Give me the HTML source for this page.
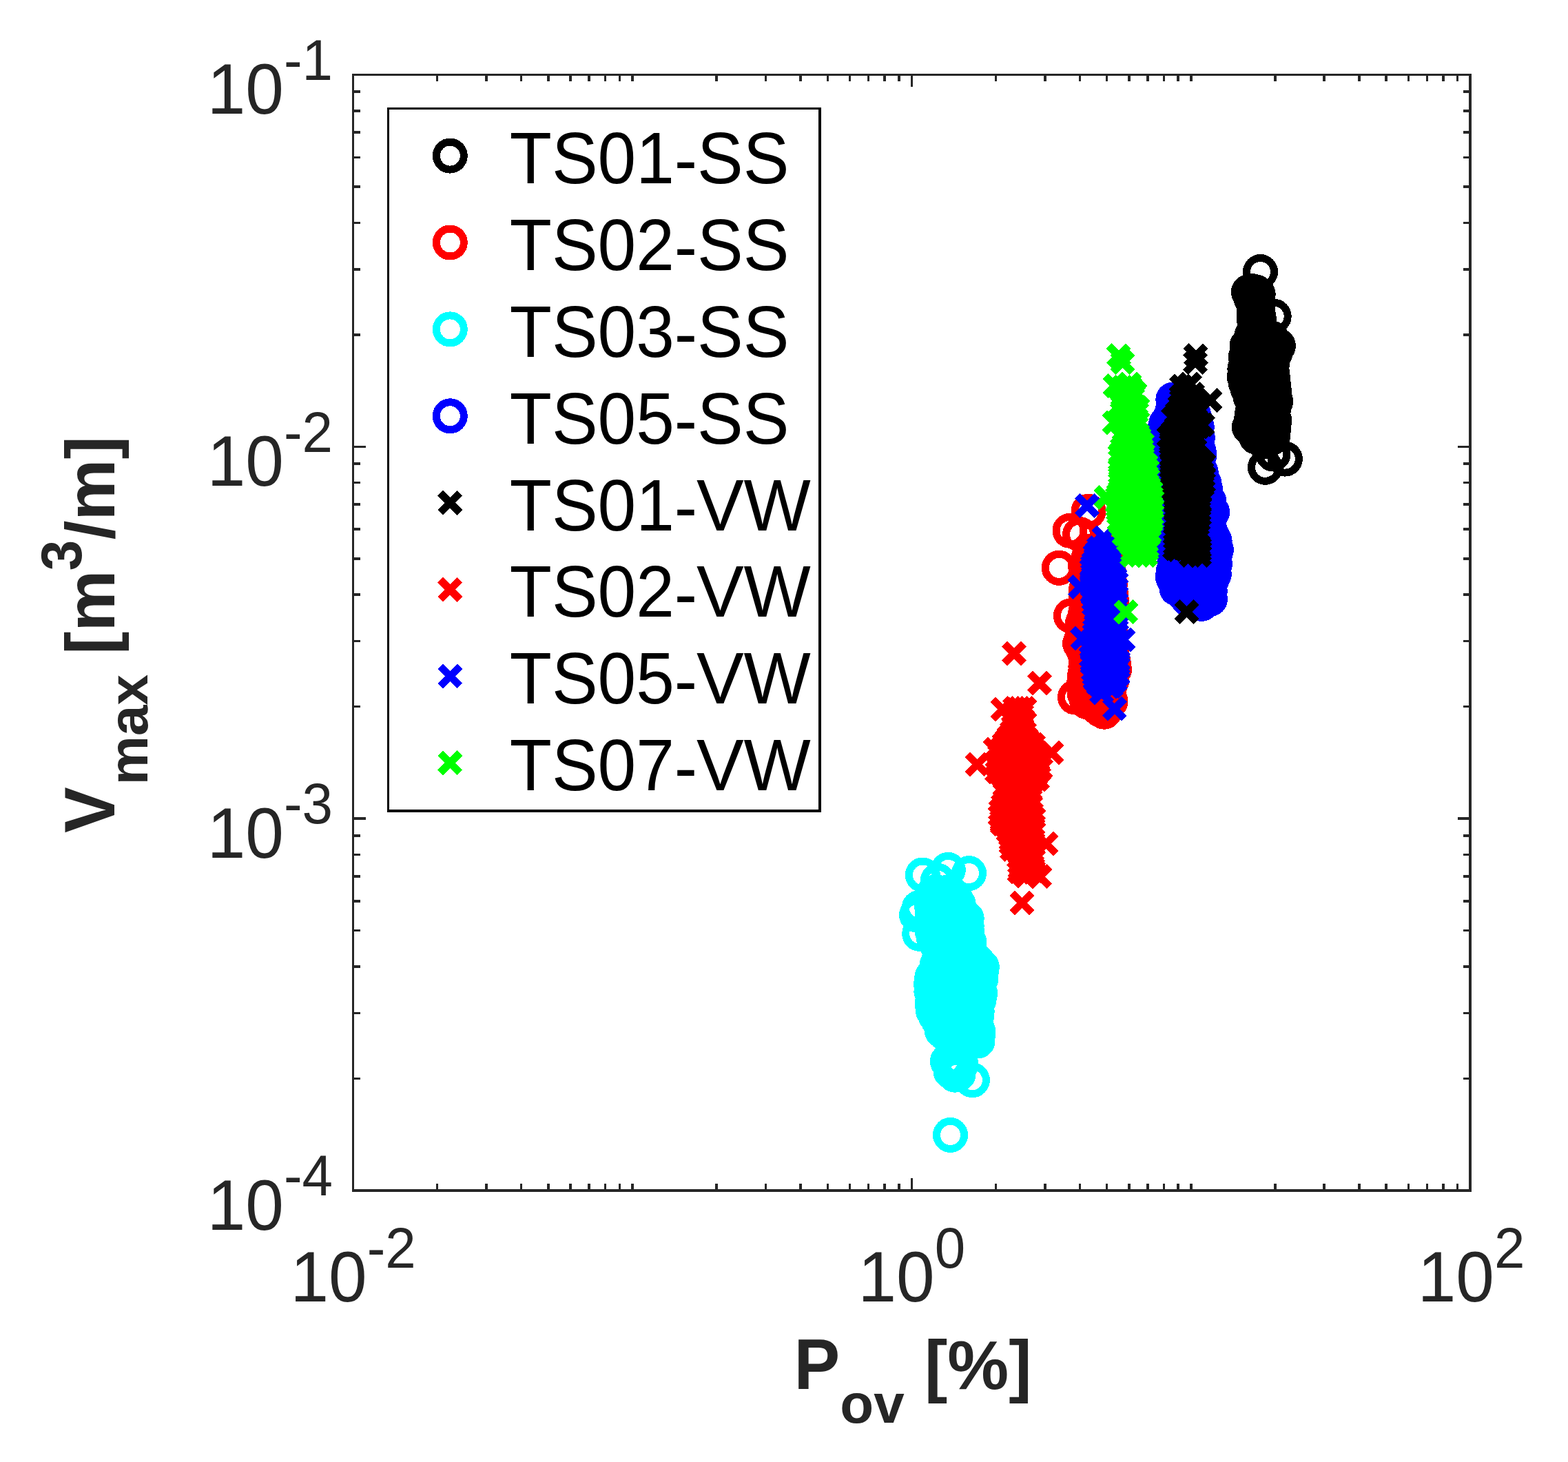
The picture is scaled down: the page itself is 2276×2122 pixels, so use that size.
<!DOCTYPE html>
<html lang="en">
<head>
<meta charset="utf-8">
<title>Vmax vs Pov</title>
<style>
html,body{margin:0;padding:0;background:#fff;}
body{width:2276px;height:2122px;overflow:hidden;}
svg{display:block;}
text{font-family:"Liberation Sans",sans-serif;font-kerning:none;white-space:pre;}
.tk{font-size:100px;fill:#262626;}
.lb{font-size:100px;font-weight:bold;fill:#262626;}
.lg{font-size:100px;fill:#000;}
.sup{font-size:80px;}
</style>
</head>
<body>
<svg width="2276" height="2122" viewBox="0 0 2276 2122">
<rect x="0" y="0" width="2276" height="2122" fill="#ffffff"/>
<g shape-rendering="crispEdges">
<g fill="none" stroke="#000000" stroke-width="11">
<circle cx="1829.5" cy="394.5" r="20"/>
<circle cx="1812.4" cy="423.8" r="20"/>
<circle cx="1814.5" cy="426" r="20"/>
<circle cx="1817" cy="422.5" r="20"/>
<circle cx="1820" cy="426.5" r="20"/>
<circle cx="1823" cy="424" r="20"/>
<circle cx="1826.2" cy="427" r="20"/>
<circle cx="1816" cy="433" r="20"/>
<circle cx="1822" cy="437" r="20"/>
<circle cx="1820" cy="448" r="20"/>
<circle cx="1849.2" cy="459.2" r="20"/>
<circle cx="1855.4" cy="501.9" r="20"/>
<circle cx="1844" cy="529" r="20"/>
<circle cx="1836.5" cy="678.3" r="20"/>
<circle cx="1865.4" cy="666.1" r="20"/>
<circle cx="1848" cy="659" r="20"/>
<circle cx="1826.3" cy="633.3" r="20"/>
<circle cx="1820" cy="450.8" r="20"/>
<circle cx="1826" cy="448" r="20"/>
<circle cx="1820" cy="456.6" r="20"/>
<circle cx="1826.9" cy="459.3" r="20"/>
<circle cx="1820" cy="462.2" r="20"/>
<circle cx="1827.8" cy="465.5" r="20"/>
<circle cx="1821.7" cy="471" r="20"/>
<circle cx="1829" cy="476.8" r="20"/>
<circle cx="1816.8" cy="487.6" r="20"/>
<circle cx="1830.2" cy="480.2" r="20"/>
<circle cx="1833.2" cy="484.3" r="20"/>
<circle cx="1816.4" cy="492" r="20"/>
<circle cx="1819.3" cy="492.4" r="20"/>
<circle cx="1826.4" cy="490.7" r="20"/>
<circle cx="1838.4" cy="493" r="20"/>
<circle cx="1845.5" cy="490.8" r="20"/>
<circle cx="1810.2" cy="501.7" r="20"/>
<circle cx="1816.6" cy="498.1" r="20"/>
<circle cx="1829.3" cy="502.5" r="20"/>
<circle cx="1835.9" cy="499.5" r="20"/>
<circle cx="1846.9" cy="504.9" r="20"/>
<circle cx="1848" cy="500.6" r="20"/>
<circle cx="1810.3" cy="512.7" r="20"/>
<circle cx="1820.6" cy="510.4" r="20"/>
<circle cx="1828.3" cy="512.4" r="20"/>
<circle cx="1832.5" cy="511.7" r="20"/>
<circle cx="1845.7" cy="513.8" r="20"/>
<circle cx="1851.2" cy="511.7" r="20"/>
<circle cx="1808.3" cy="517.9" r="20"/>
<circle cx="1820.8" cy="519.3" r="20"/>
<circle cx="1825.9" cy="520.4" r="20"/>
<circle cx="1840.3" cy="521.4" r="20"/>
<circle cx="1847.7" cy="519.5" r="20"/>
<circle cx="1808.1" cy="531.3" r="20"/>
<circle cx="1817.8" cy="528.1" r="20"/>
<circle cx="1827.1" cy="525.2" r="20"/>
<circle cx="1833" cy="530.6" r="20"/>
<circle cx="1846.3" cy="529.8" r="20"/>
<circle cx="1806.9" cy="535.3" r="20"/>
<circle cx="1816.9" cy="541.9" r="20"/>
<circle cx="1829" cy="538.3" r="20"/>
<circle cx="1839.6" cy="535.8" r="20"/>
<circle cx="1846.6" cy="541.7" r="20"/>
<circle cx="1806.3" cy="546.7" r="20"/>
<circle cx="1812.1" cy="547.4" r="20"/>
<circle cx="1826" cy="543" r="20"/>
<circle cx="1833" cy="549.6" r="20"/>
<circle cx="1842.1" cy="548.9" r="20"/>
<circle cx="1847.3" cy="547.2" r="20"/>
<circle cx="1808.1" cy="555.4" r="20"/>
<circle cx="1812.2" cy="559" r="20"/>
<circle cx="1824.5" cy="553.6" r="20"/>
<circle cx="1832.1" cy="555.9" r="20"/>
<circle cx="1839" cy="554.8" r="20"/>
<circle cx="1848.3" cy="557" r="20"/>
<circle cx="1811.3" cy="564.7" r="20"/>
<circle cx="1816.3" cy="562.8" r="20"/>
<circle cx="1827.3" cy="565.7" r="20"/>
<circle cx="1842.6" cy="567.4" r="20"/>
<circle cx="1849.4" cy="567.6" r="20"/>
<circle cx="1815.2" cy="576.8" r="20"/>
<circle cx="1825.4" cy="570.6" r="20"/>
<circle cx="1829" cy="570.1" r="20"/>
<circle cx="1843.8" cy="572" r="20"/>
<circle cx="1847.4" cy="575" r="20"/>
<circle cx="1822.4" cy="579.5" r="20"/>
<circle cx="1829.4" cy="583.2" r="20"/>
<circle cx="1839.3" cy="581.2" r="20"/>
<circle cx="1851.7" cy="582.6" r="20"/>
<circle cx="1821.2" cy="591.8" r="20"/>
<circle cx="1827.5" cy="591.1" r="20"/>
<circle cx="1840.8" cy="589.5" r="20"/>
<circle cx="1848.4" cy="595.2" r="20"/>
<circle cx="1817.8" cy="598.6" r="20"/>
<circle cx="1826.9" cy="603.6" r="20"/>
<circle cx="1830.4" cy="597.1" r="20"/>
<circle cx="1839.8" cy="602.8" r="20"/>
<circle cx="1848.2" cy="602.7" r="20"/>
<circle cx="1816.1" cy="610.4" r="20"/>
<circle cx="1821.4" cy="613.9" r="20"/>
<circle cx="1835.1" cy="610.1" r="20"/>
<circle cx="1839.5" cy="611.2" r="20"/>
<circle cx="1849.9" cy="610.6" r="20"/>
<circle cx="1813.4" cy="620.1" r="20"/>
<circle cx="1819" cy="617.4" r="20"/>
<circle cx="1835.5" cy="622" r="20"/>
<circle cx="1839.3" cy="621.9" r="20"/>
<circle cx="1848.5" cy="622.6" r="20"/>
<circle cx="1819.9" cy="627.3" r="20"/>
<circle cx="1826" cy="624" r="20"/>
<circle cx="1841" cy="624.3" r="20"/>
<circle cx="1847.9" cy="631.7" r="20"/>
<circle cx="1823.6" cy="634.3" r="20"/>
<circle cx="1833.9" cy="640.8" r="20"/>
<circle cx="1840.4" cy="637.1" r="20"/>
<circle cx="1845.6" cy="635.8" r="20"/>
</g>
<g fill="none" stroke="#ff0000" stroke-width="11">
<circle cx="1580" cy="742.2" r="20"/>
<circle cx="1553" cy="770.3" r="20"/>
<circle cx="1567.6" cy="775.6" r="20"/>
<circle cx="1537.3" cy="824.3" r="20"/>
<circle cx="1575.5" cy="820.4" r="20"/>
<circle cx="1554.4" cy="893.8" r="20"/>
<circle cx="1567.6" cy="934" r="20"/>
<circle cx="1560.5" cy="1012" r="20"/>
<circle cx="1602.8" cy="1033.2" r="20"/>
<circle cx="1608.4" cy="802.5" r="20"/>
<circle cx="1613.8" cy="872.7" r="20"/>
<circle cx="1576.2" cy="861.9" r="20"/>
<circle cx="1577.3" cy="961" r="20"/>
<circle cx="1574.6" cy="980.4" r="20"/>
<circle cx="1617.5" cy="971.7" r="20"/>
<circle cx="1601.3" cy="1004" r="20"/>
<circle cx="1606.7" cy="907" r="20"/>
<circle cx="1585" cy="1020" r="20"/>
<circle cx="1592" cy="1026" r="20"/>
<circle cx="1597" cy="1030" r="20"/>
<circle cx="1606" cy="1026" r="20"/>
<circle cx="1612" cy="1018" r="20"/>
<circle cx="1583.7" cy="803.6" r="20"/>
<circle cx="1585.1" cy="800" r="20"/>
<circle cx="1600.1" cy="801.9" r="20"/>
<circle cx="1606" cy="800" r="20"/>
<circle cx="1580" cy="809.9" r="20"/>
<circle cx="1589.1" cy="806.2" r="20"/>
<circle cx="1597.3" cy="808.1" r="20"/>
<circle cx="1607.2" cy="813" r="20"/>
<circle cx="1581.8" cy="818.4" r="20"/>
<circle cx="1587.8" cy="816.1" r="20"/>
<circle cx="1594.6" cy="814.2" r="20"/>
<circle cx="1608.1" cy="816.5" r="20"/>
<circle cx="1577.3" cy="830.2" r="20"/>
<circle cx="1585.6" cy="827.5" r="20"/>
<circle cx="1591.3" cy="823.1" r="20"/>
<circle cx="1600.1" cy="824.1" r="20"/>
<circle cx="1609.6" cy="831" r="20"/>
<circle cx="1578.2" cy="833.4" r="20"/>
<circle cx="1588.4" cy="838.4" r="20"/>
<circle cx="1595.6" cy="839.3" r="20"/>
<circle cx="1604.3" cy="838.3" r="20"/>
<circle cx="1609.4" cy="839.9" r="20"/>
<circle cx="1580.3" cy="842.3" r="20"/>
<circle cx="1587.3" cy="846.7" r="20"/>
<circle cx="1593.7" cy="845.2" r="20"/>
<circle cx="1602.6" cy="848.4" r="20"/>
<circle cx="1611.4" cy="847.7" r="20"/>
<circle cx="1576.2" cy="857.1" r="20"/>
<circle cx="1588.5" cy="853.7" r="20"/>
<circle cx="1594.8" cy="857.4" r="20"/>
<circle cx="1605.1" cy="853.9" r="20"/>
<circle cx="1610" cy="852.6" r="20"/>
<circle cx="1577.5" cy="860.3" r="20"/>
<circle cx="1588.5" cy="861.1" r="20"/>
<circle cx="1597.7" cy="861.5" r="20"/>
<circle cx="1607.4" cy="864.7" r="20"/>
<circle cx="1612.9" cy="863.1" r="20"/>
<circle cx="1576.2" cy="872.7" r="20"/>
<circle cx="1582.7" cy="869.6" r="20"/>
<circle cx="1593.7" cy="875.5" r="20"/>
<circle cx="1603.9" cy="868.6" r="20"/>
<circle cx="1612.2" cy="873.8" r="20"/>
<circle cx="1577.3" cy="878.5" r="20"/>
<circle cx="1585.4" cy="877.4" r="20"/>
<circle cx="1594" cy="879.2" r="20"/>
<circle cx="1599.9" cy="884" r="20"/>
<circle cx="1608.3" cy="881.2" r="20"/>
<circle cx="1575.9" cy="887.9" r="20"/>
<circle cx="1580.1" cy="893.1" r="20"/>
<circle cx="1591.3" cy="891.8" r="20"/>
<circle cx="1597.6" cy="888.9" r="20"/>
<circle cx="1608.1" cy="891.4" r="20"/>
<circle cx="1572.1" cy="902.7" r="20"/>
<circle cx="1577.8" cy="900.9" r="20"/>
<circle cx="1587.2" cy="897" r="20"/>
<circle cx="1603.1" cy="896.2" r="20"/>
<circle cx="1607.5" cy="900.6" r="20"/>
<circle cx="1571.5" cy="904.3" r="20"/>
<circle cx="1585.4" cy="905.2" r="20"/>
<circle cx="1587.5" cy="906.7" r="20"/>
<circle cx="1602" cy="910" r="20"/>
<circle cx="1607.8" cy="906.7" r="20"/>
<circle cx="1571" cy="916.6" r="20"/>
<circle cx="1581.4" cy="918.9" r="20"/>
<circle cx="1590.7" cy="919.1" r="20"/>
<circle cx="1598.5" cy="918.7" r="20"/>
<circle cx="1603.6" cy="914.8" r="20"/>
<circle cx="1612" cy="915.5" r="20"/>
<circle cx="1570.5" cy="925.6" r="20"/>
<circle cx="1582" cy="923" r="20"/>
<circle cx="1588.2" cy="925.1" r="20"/>
<circle cx="1596.1" cy="923.1" r="20"/>
<circle cx="1608.3" cy="924" r="20"/>
<circle cx="1613.1" cy="925.4" r="20"/>
<circle cx="1570.3" cy="935.5" r="20"/>
<circle cx="1576.1" cy="931.4" r="20"/>
<circle cx="1584" cy="932.3" r="20"/>
<circle cx="1593.3" cy="936.1" r="20"/>
<circle cx="1605.4" cy="938.9" r="20"/>
<circle cx="1614.1" cy="939" r="20"/>
<circle cx="1572.6" cy="943.6" r="20"/>
<circle cx="1579.1" cy="944.7" r="20"/>
<circle cx="1590.6" cy="946.4" r="20"/>
<circle cx="1599.8" cy="942" r="20"/>
<circle cx="1606" cy="944.2" r="20"/>
<circle cx="1611.1" cy="940.2" r="20"/>
<circle cx="1574.9" cy="949.9" r="20"/>
<circle cx="1585" cy="950.9" r="20"/>
<circle cx="1588.2" cy="950.4" r="20"/>
<circle cx="1597.5" cy="950.7" r="20"/>
<circle cx="1608" cy="952.7" r="20"/>
<circle cx="1614.6" cy="954.1" r="20"/>
<circle cx="1576.9" cy="965.3" r="20"/>
<circle cx="1590.7" cy="963.9" r="20"/>
<circle cx="1596.4" cy="962.1" r="20"/>
<circle cx="1607.6" cy="958.4" r="20"/>
<circle cx="1616.3" cy="962.2" r="20"/>
<circle cx="1575.9" cy="967.7" r="20"/>
<circle cx="1586.6" cy="969.9" r="20"/>
<circle cx="1592.5" cy="974.4" r="20"/>
<circle cx="1601.5" cy="969.3" r="20"/>
<circle cx="1612.7" cy="970" r="20"/>
<circle cx="1613.1" cy="972.5" r="20"/>
<circle cx="1575" cy="978.4" r="20"/>
<circle cx="1586.2" cy="981.4" r="20"/>
<circle cx="1587.9" cy="979.6" r="20"/>
<circle cx="1599.5" cy="979.9" r="20"/>
<circle cx="1606.2" cy="980.7" r="20"/>
<circle cx="1613.5" cy="978.3" r="20"/>
<circle cx="1573.9" cy="992.5" r="20"/>
<circle cx="1580.4" cy="991.1" r="20"/>
<circle cx="1591.3" cy="989.6" r="20"/>
<circle cx="1602.8" cy="988.7" r="20"/>
<circle cx="1613.6" cy="988.1" r="20"/>
<circle cx="1572.8" cy="994.9" r="20"/>
<circle cx="1578.7" cy="1000.8" r="20"/>
<circle cx="1592.6" cy="1001.7" r="20"/>
<circle cx="1602.4" cy="994.1" r="20"/>
<circle cx="1610.2" cy="1000.2" r="20"/>
<circle cx="1574.4" cy="1007" r="20"/>
<circle cx="1580.1" cy="1006.7" r="20"/>
<circle cx="1592.3" cy="1005.1" r="20"/>
<circle cx="1598.8" cy="1006.8" r="20"/>
<circle cx="1607.2" cy="1009.5" r="20"/>
<circle cx="1577.7" cy="1018.7" r="20"/>
<circle cx="1582.9" cy="1013.8" r="20"/>
<circle cx="1594.7" cy="1014.1" r="20"/>
<circle cx="1604.4" cy="1017.5" r="20"/>
</g>
<g fill="none" stroke="#00ffff" stroke-width="11">
<circle cx="1339.4" cy="1270" r="20"/>
<circle cx="1376.3" cy="1262.4" r="20"/>
<circle cx="1406.5" cy="1267.6" r="20"/>
<circle cx="1361.2" cy="1278.3" r="20"/>
<circle cx="1382.4" cy="1304.6" r="20"/>
<circle cx="1330.6" cy="1327.9" r="20"/>
<circle cx="1334.3" cy="1317.6" r="20"/>
<circle cx="1334.7" cy="1355.3" r="20"/>
<circle cx="1403.2" cy="1333.3" r="20"/>
<circle cx="1425.3" cy="1403.5" r="20"/>
<circle cx="1366.7" cy="1381.9" r="20"/>
<circle cx="1353.2" cy="1417.5" r="20"/>
<circle cx="1362.7" cy="1482" r="20"/>
<circle cx="1375.4" cy="1540.5" r="20"/>
<circle cx="1386.3" cy="1560.2" r="20"/>
<circle cx="1411.4" cy="1567.7" r="20"/>
<circle cx="1379.5" cy="1647.4" r="20"/>
<circle cx="1378" cy="1544" r="20"/>
<circle cx="1381" cy="1548" r="20"/>
<circle cx="1384" cy="1552" r="20"/>
<circle cx="1388" cy="1556" r="20"/>
<circle cx="1391" cy="1559" r="20"/>
<circle cx="1383" cy="1541" r="20"/>
<circle cx="1392" cy="1551" r="20"/>
<circle cx="1380" cy="1555" r="20"/>
<circle cx="1395" cy="1545" r="20"/>
<circle cx="1388" cy="1538" r="20"/>
<circle cx="1356" cy="1295.4" r="20"/>
<circle cx="1364.6" cy="1295.8" r="20"/>
<circle cx="1376.4" cy="1295" r="20"/>
<circle cx="1381.1" cy="1297.7" r="20"/>
<circle cx="1354.2" cy="1301.8" r="20"/>
<circle cx="1366.7" cy="1303.8" r="20"/>
<circle cx="1373.9" cy="1303.8" r="20"/>
<circle cx="1380.8" cy="1301.2" r="20"/>
<circle cx="1388.2" cy="1307" r="20"/>
<circle cx="1352.6" cy="1315" r="20"/>
<circle cx="1363.5" cy="1309.5" r="20"/>
<circle cx="1373.9" cy="1313.7" r="20"/>
<circle cx="1380" cy="1309.2" r="20"/>
<circle cx="1391.3" cy="1312.8" r="20"/>
<circle cx="1353.4" cy="1325.1" r="20"/>
<circle cx="1362.2" cy="1325.4" r="20"/>
<circle cx="1368.5" cy="1324.4" r="20"/>
<circle cx="1377.7" cy="1325.5" r="20"/>
<circle cx="1390.1" cy="1318.7" r="20"/>
<circle cx="1392.9" cy="1319.7" r="20"/>
<circle cx="1355" cy="1330.5" r="20"/>
<circle cx="1360.5" cy="1329.4" r="20"/>
<circle cx="1367.8" cy="1330.1" r="20"/>
<circle cx="1374.8" cy="1331.7" r="20"/>
<circle cx="1384.9" cy="1334.3" r="20"/>
<circle cx="1394" cy="1334.5" r="20"/>
<circle cx="1400.8" cy="1335" r="20"/>
<circle cx="1353.1" cy="1337.3" r="20"/>
<circle cx="1363.3" cy="1343.8" r="20"/>
<circle cx="1372.2" cy="1340.6" r="20"/>
<circle cx="1379.2" cy="1337.7" r="20"/>
<circle cx="1388.8" cy="1340.6" r="20"/>
<circle cx="1392.9" cy="1336.5" r="20"/>
<circle cx="1403.2" cy="1344" r="20"/>
<circle cx="1353.1" cy="1351.4" r="20"/>
<circle cx="1360.8" cy="1346.2" r="20"/>
<circle cx="1368.3" cy="1351.2" r="20"/>
<circle cx="1381.4" cy="1345.3" r="20"/>
<circle cx="1387.8" cy="1345.3" r="20"/>
<circle cx="1397" cy="1347.6" r="20"/>
<circle cx="1403.7" cy="1352.9" r="20"/>
<circle cx="1355.5" cy="1362" r="20"/>
<circle cx="1363.7" cy="1354.6" r="20"/>
<circle cx="1375.9" cy="1354.2" r="20"/>
<circle cx="1382.5" cy="1357.3" r="20"/>
<circle cx="1395.7" cy="1355.2" r="20"/>
<circle cx="1401" cy="1361" r="20"/>
<circle cx="1359.6" cy="1370.7" r="20"/>
<circle cx="1372.3" cy="1366" r="20"/>
<circle cx="1378.1" cy="1367.2" r="20"/>
<circle cx="1389" cy="1367.8" r="20"/>
<circle cx="1397.7" cy="1368" r="20"/>
<circle cx="1406.7" cy="1367.1" r="20"/>
<circle cx="1363.9" cy="1377.8" r="20"/>
<circle cx="1370.7" cy="1374.4" r="20"/>
<circle cx="1385.7" cy="1376.2" r="20"/>
<circle cx="1391.1" cy="1372" r="20"/>
<circle cx="1399" cy="1376.6" r="20"/>
<circle cx="1404.8" cy="1376.9" r="20"/>
<circle cx="1366.8" cy="1381.4" r="20"/>
<circle cx="1376.1" cy="1384.7" r="20"/>
<circle cx="1385.8" cy="1383.8" r="20"/>
<circle cx="1395.3" cy="1386.9" r="20"/>
<circle cx="1399" cy="1381.4" r="20"/>
<circle cx="1412.1" cy="1388.8" r="20"/>
<circle cx="1362.9" cy="1393.6" r="20"/>
<circle cx="1372.9" cy="1392.5" r="20"/>
<circle cx="1380.3" cy="1392.5" r="20"/>
<circle cx="1389.7" cy="1394.8" r="20"/>
<circle cx="1398.4" cy="1393" r="20"/>
<circle cx="1411.5" cy="1390.2" r="20"/>
<circle cx="1418.6" cy="1395.9" r="20"/>
<circle cx="1360" cy="1400.8" r="20"/>
<circle cx="1371.7" cy="1400.9" r="20"/>
<circle cx="1376" cy="1402.5" r="20"/>
<circle cx="1389.5" cy="1399.8" r="20"/>
<circle cx="1395.7" cy="1401.7" r="20"/>
<circle cx="1409.1" cy="1402.5" r="20"/>
<circle cx="1418.6" cy="1400.3" r="20"/>
<circle cx="1423.7" cy="1404.2" r="20"/>
<circle cx="1358.6" cy="1411.6" r="20"/>
<circle cx="1361.9" cy="1408.9" r="20"/>
<circle cx="1373" cy="1409.5" r="20"/>
<circle cx="1383.8" cy="1414.7" r="20"/>
<circle cx="1387.4" cy="1410.2" r="20"/>
<circle cx="1401" cy="1413.1" r="20"/>
<circle cx="1409.6" cy="1410.7" r="20"/>
<circle cx="1412.8" cy="1410.3" r="20"/>
<circle cx="1424.4" cy="1410.1" r="20"/>
<circle cx="1352.6" cy="1420.3" r="20"/>
<circle cx="1360.8" cy="1420.3" r="20"/>
<circle cx="1373.8" cy="1418.2" r="20"/>
<circle cx="1375.2" cy="1424.6" r="20"/>
<circle cx="1391.2" cy="1424.9" r="20"/>
<circle cx="1396.5" cy="1424.6" r="20"/>
<circle cx="1409.4" cy="1418.7" r="20"/>
<circle cx="1416.8" cy="1423.7" r="20"/>
<circle cx="1423.7" cy="1421.2" r="20"/>
<circle cx="1351.6" cy="1428.7" r="20"/>
<circle cx="1358.3" cy="1426.5" r="20"/>
<circle cx="1370.2" cy="1428.3" r="20"/>
<circle cx="1380.9" cy="1426.3" r="20"/>
<circle cx="1390.6" cy="1431.6" r="20"/>
<circle cx="1399.7" cy="1433.2" r="20"/>
<circle cx="1408.5" cy="1430.6" r="20"/>
<circle cx="1410.2" cy="1432" r="20"/>
<circle cx="1420.4" cy="1428.4" r="20"/>
<circle cx="1351.9" cy="1439.2" r="20"/>
<circle cx="1358.9" cy="1442.6" r="20"/>
<circle cx="1369.5" cy="1437.7" r="20"/>
<circle cx="1375.6" cy="1441.9" r="20"/>
<circle cx="1386.4" cy="1441.3" r="20"/>
<circle cx="1394.3" cy="1436.5" r="20"/>
<circle cx="1404.8" cy="1441.6" r="20"/>
<circle cx="1410.8" cy="1441.4" r="20"/>
<circle cx="1422.5" cy="1441.5" r="20"/>
<circle cx="1354.3" cy="1444" r="20"/>
<circle cx="1361.4" cy="1450.9" r="20"/>
<circle cx="1365.4" cy="1446.1" r="20"/>
<circle cx="1375.8" cy="1448.2" r="20"/>
<circle cx="1385.8" cy="1447.8" r="20"/>
<circle cx="1397.3" cy="1444" r="20"/>
<circle cx="1400.1" cy="1445" r="20"/>
<circle cx="1409.4" cy="1444.5" r="20"/>
<circle cx="1421.1" cy="1450.9" r="20"/>
<circle cx="1353" cy="1457" r="20"/>
<circle cx="1361.1" cy="1455.5" r="20"/>
<circle cx="1370.9" cy="1458.2" r="20"/>
<circle cx="1382.3" cy="1455.9" r="20"/>
<circle cx="1388.6" cy="1455.6" r="20"/>
<circle cx="1397.6" cy="1457.4" r="20"/>
<circle cx="1411.9" cy="1456" r="20"/>
<circle cx="1416.2" cy="1454.4" r="20"/>
<circle cx="1354.4" cy="1466.8" r="20"/>
<circle cx="1365.8" cy="1465" r="20"/>
<circle cx="1375.1" cy="1467" r="20"/>
<circle cx="1381.2" cy="1465" r="20"/>
<circle cx="1390.8" cy="1467.6" r="20"/>
<circle cx="1399.3" cy="1467.6" r="20"/>
<circle cx="1408.7" cy="1463.9" r="20"/>
<circle cx="1418.2" cy="1467.6" r="20"/>
<circle cx="1358.2" cy="1474.4" r="20"/>
<circle cx="1366" cy="1478.1" r="20"/>
<circle cx="1378.6" cy="1474" r="20"/>
<circle cx="1386.8" cy="1477.4" r="20"/>
<circle cx="1390" cy="1474.7" r="20"/>
<circle cx="1397.4" cy="1477.5" r="20"/>
<circle cx="1410.2" cy="1478.1" r="20"/>
<circle cx="1417.3" cy="1476.4" r="20"/>
<circle cx="1365.4" cy="1484.5" r="20"/>
<circle cx="1369.3" cy="1484.7" r="20"/>
<circle cx="1377.5" cy="1481.1" r="20"/>
<circle cx="1392.7" cy="1480.3" r="20"/>
<circle cx="1396.2" cy="1480.8" r="20"/>
<circle cx="1411.6" cy="1481.4" r="20"/>
<circle cx="1413.6" cy="1486.8" r="20"/>
<circle cx="1367.2" cy="1495.8" r="20"/>
<circle cx="1377.3" cy="1495.7" r="20"/>
<circle cx="1388.3" cy="1493.6" r="20"/>
<circle cx="1395.8" cy="1489.2" r="20"/>
<circle cx="1404.3" cy="1493.1" r="20"/>
<circle cx="1412.6" cy="1489.8" r="20"/>
<circle cx="1419.6" cy="1496.5" r="20"/>
<circle cx="1372.5" cy="1500.6" r="20"/>
<circle cx="1382.7" cy="1504.7" r="20"/>
<circle cx="1389.8" cy="1499.4" r="20"/>
<circle cx="1399.5" cy="1502.9" r="20"/>
<circle cx="1413.3" cy="1501.1" r="20"/>
<circle cx="1419.8" cy="1501.2" r="20"/>
<circle cx="1384" cy="1510.3" r="20"/>
<circle cx="1389.4" cy="1511" r="20"/>
<circle cx="1405.3" cy="1510.3" r="20"/>
<circle cx="1412.3" cy="1508.3" r="20"/>
<circle cx="1419" cy="1511" r="20"/>
</g>
<g fill="none" stroke="#0000ff" stroke-width="11">
<circle cx="1702.8" cy="580" r="20"/>
<circle cx="1691.6" cy="619.5" r="20"/>
<circle cx="1744.2" cy="876.4" r="20"/>
<circle cx="1756.5" cy="869.5" r="20"/>
<circle cx="1702.4" cy="837.1" r="20"/>
<circle cx="1718" cy="862" r="20"/>
<circle cx="1703" cy="590" r="20"/>
<circle cx="1711.2" cy="590" r="20"/>
<circle cx="1717.5" cy="590" r="20"/>
<circle cx="1730" cy="592.4" r="20"/>
<circle cx="1701.8" cy="596.7" r="20"/>
<circle cx="1708.1" cy="597.2" r="20"/>
<circle cx="1713.4" cy="595.8" r="20"/>
<circle cx="1721.9" cy="602.5" r="20"/>
<circle cx="1732.4" cy="601.5" r="20"/>
<circle cx="1698.7" cy="605.5" r="20"/>
<circle cx="1704.4" cy="609" r="20"/>
<circle cx="1717.5" cy="610.9" r="20"/>
<circle cx="1728.3" cy="604.7" r="20"/>
<circle cx="1734.9" cy="609.4" r="20"/>
<circle cx="1693" cy="614.4" r="20"/>
<circle cx="1701.6" cy="613.7" r="20"/>
<circle cx="1714.2" cy="620" r="20"/>
<circle cx="1720" cy="615.4" r="20"/>
<circle cx="1731.8" cy="617.6" r="20"/>
<circle cx="1737.3" cy="619.8" r="20"/>
<circle cx="1692.9" cy="625.3" r="20"/>
<circle cx="1702.8" cy="625.4" r="20"/>
<circle cx="1708.4" cy="624.4" r="20"/>
<circle cx="1722.9" cy="622.3" r="20"/>
<circle cx="1725.9" cy="627" r="20"/>
<circle cx="1737" cy="626.3" r="20"/>
<circle cx="1693.9" cy="633.7" r="20"/>
<circle cx="1707.1" cy="632.5" r="20"/>
<circle cx="1711.5" cy="632.6" r="20"/>
<circle cx="1722.5" cy="633.2" r="20"/>
<circle cx="1729.4" cy="637" r="20"/>
<circle cx="1738.3" cy="635.5" r="20"/>
<circle cx="1697.8" cy="640.8" r="20"/>
<circle cx="1700.1" cy="641.8" r="20"/>
<circle cx="1715" cy="644.9" r="20"/>
<circle cx="1719.9" cy="642.6" r="20"/>
<circle cx="1728.5" cy="643.7" r="20"/>
<circle cx="1736.6" cy="645.6" r="20"/>
<circle cx="1697.7" cy="656.7" r="20"/>
<circle cx="1705.6" cy="656.7" r="20"/>
<circle cx="1708.9" cy="651.3" r="20"/>
<circle cx="1725.8" cy="655.2" r="20"/>
<circle cx="1730.4" cy="656.6" r="20"/>
<circle cx="1740.3" cy="655.6" r="20"/>
<circle cx="1694.7" cy="659.5" r="20"/>
<circle cx="1703.4" cy="659.1" r="20"/>
<circle cx="1712.1" cy="665.7" r="20"/>
<circle cx="1720.9" cy="658" r="20"/>
<circle cx="1727.8" cy="659.3" r="20"/>
<circle cx="1740.7" cy="660.9" r="20"/>
<circle cx="1695.3" cy="667.7" r="20"/>
<circle cx="1708.7" cy="670.4" r="20"/>
<circle cx="1711.8" cy="667.4" r="20"/>
<circle cx="1720" cy="668.3" r="20"/>
<circle cx="1734.5" cy="668.2" r="20"/>
<circle cx="1738.8" cy="670.9" r="20"/>
<circle cx="1696" cy="684" r="20"/>
<circle cx="1702.6" cy="680.2" r="20"/>
<circle cx="1717.5" cy="679.3" r="20"/>
<circle cx="1728.9" cy="679.8" r="20"/>
<circle cx="1732.5" cy="679.3" r="20"/>
<circle cx="1740.5" cy="679.4" r="20"/>
<circle cx="1696.7" cy="692.2" r="20"/>
<circle cx="1709.3" cy="689" r="20"/>
<circle cx="1712.7" cy="687" r="20"/>
<circle cx="1724.2" cy="686.6" r="20"/>
<circle cx="1734" cy="692" r="20"/>
<circle cx="1743.2" cy="685.4" r="20"/>
<circle cx="1700.9" cy="698.5" r="20"/>
<circle cx="1709.8" cy="697.2" r="20"/>
<circle cx="1717.5" cy="699.2" r="20"/>
<circle cx="1725" cy="700" r="20"/>
<circle cx="1731" cy="694.7" r="20"/>
<circle cx="1737.1" cy="701" r="20"/>
<circle cx="1747.9" cy="701.4" r="20"/>
<circle cx="1698.1" cy="708.3" r="20"/>
<circle cx="1709.2" cy="708.2" r="20"/>
<circle cx="1717.9" cy="707.2" r="20"/>
<circle cx="1725.2" cy="708.5" r="20"/>
<circle cx="1730.7" cy="710.4" r="20"/>
<circle cx="1744.8" cy="703.6" r="20"/>
<circle cx="1749.8" cy="710.7" r="20"/>
<circle cx="1700.5" cy="712.3" r="20"/>
<circle cx="1711.2" cy="713" r="20"/>
<circle cx="1720.6" cy="717.4" r="20"/>
<circle cx="1722.1" cy="713.3" r="20"/>
<circle cx="1735.6" cy="716.6" r="20"/>
<circle cx="1745.4" cy="719.5" r="20"/>
<circle cx="1749.9" cy="712" r="20"/>
<circle cx="1703.5" cy="721.1" r="20"/>
<circle cx="1712.2" cy="721.9" r="20"/>
<circle cx="1720.8" cy="727.3" r="20"/>
<circle cx="1730.4" cy="725.4" r="20"/>
<circle cx="1739.5" cy="722.6" r="20"/>
<circle cx="1746.9" cy="723.6" r="20"/>
<circle cx="1754.7" cy="727.2" r="20"/>
<circle cx="1701" cy="734.2" r="20"/>
<circle cx="1706.5" cy="730.2" r="20"/>
<circle cx="1720.5" cy="733.9" r="20"/>
<circle cx="1732" cy="734.9" r="20"/>
<circle cx="1735.5" cy="732.9" r="20"/>
<circle cx="1749.9" cy="734.2" r="20"/>
<circle cx="1753.1" cy="736.7" r="20"/>
<circle cx="1704.6" cy="739.6" r="20"/>
<circle cx="1711.9" cy="742" r="20"/>
<circle cx="1723.5" cy="741.5" r="20"/>
<circle cx="1728.6" cy="742.9" r="20"/>
<circle cx="1744.1" cy="739.7" r="20"/>
<circle cx="1746.8" cy="744" r="20"/>
<circle cx="1759.6" cy="743.1" r="20"/>
<circle cx="1702.3" cy="754.9" r="20"/>
<circle cx="1713.9" cy="748.5" r="20"/>
<circle cx="1724.1" cy="749.5" r="20"/>
<circle cx="1728.8" cy="754.7" r="20"/>
<circle cx="1739.2" cy="754.4" r="20"/>
<circle cx="1746.5" cy="755" r="20"/>
<circle cx="1755.9" cy="749.2" r="20"/>
<circle cx="1702.7" cy="759.7" r="20"/>
<circle cx="1712.1" cy="764.3" r="20"/>
<circle cx="1722.6" cy="757" r="20"/>
<circle cx="1728.4" cy="761.4" r="20"/>
<circle cx="1738.9" cy="762.7" r="20"/>
<circle cx="1748" cy="757.6" r="20"/>
<circle cx="1755.2" cy="763.8" r="20"/>
<circle cx="1703" cy="772.2" r="20"/>
<circle cx="1715.8" cy="771" r="20"/>
<circle cx="1722.1" cy="770.9" r="20"/>
<circle cx="1728" cy="773.3" r="20"/>
<circle cx="1738.1" cy="773.3" r="20"/>
<circle cx="1745.6" cy="773" r="20"/>
<circle cx="1756" cy="770.9" r="20"/>
<circle cx="1703.1" cy="776.1" r="20"/>
<circle cx="1714.7" cy="777.9" r="20"/>
<circle cx="1723.2" cy="776" r="20"/>
<circle cx="1727.9" cy="776.1" r="20"/>
<circle cx="1743.2" cy="776.4" r="20"/>
<circle cx="1753.4" cy="778" r="20"/>
<circle cx="1759.5" cy="777.8" r="20"/>
<circle cx="1704.2" cy="784.7" r="20"/>
<circle cx="1711" cy="791.5" r="20"/>
<circle cx="1717.7" cy="789.2" r="20"/>
<circle cx="1727.5" cy="786.4" r="20"/>
<circle cx="1733.5" cy="784.1" r="20"/>
<circle cx="1749.6" cy="790.7" r="20"/>
<circle cx="1756.9" cy="790.5" r="20"/>
<circle cx="1763.1" cy="785.2" r="20"/>
<circle cx="1704" cy="797" r="20"/>
<circle cx="1712.9" cy="800.5" r="20"/>
<circle cx="1723.4" cy="800.8" r="20"/>
<circle cx="1727.1" cy="798.2" r="20"/>
<circle cx="1740.6" cy="799" r="20"/>
<circle cx="1749.2" cy="799.7" r="20"/>
<circle cx="1755.6" cy="800.5" r="20"/>
<circle cx="1765.4" cy="797.8" r="20"/>
<circle cx="1706.5" cy="807.6" r="20"/>
<circle cx="1710.7" cy="803.8" r="20"/>
<circle cx="1719.8" cy="807" r="20"/>
<circle cx="1734.2" cy="809.2" r="20"/>
<circle cx="1738.3" cy="805.2" r="20"/>
<circle cx="1750.6" cy="804.2" r="20"/>
<circle cx="1756.3" cy="802.1" r="20"/>
<circle cx="1763.4" cy="806.3" r="20"/>
<circle cx="1704.9" cy="815.9" r="20"/>
<circle cx="1711.1" cy="818.7" r="20"/>
<circle cx="1722.1" cy="812.2" r="20"/>
<circle cx="1726.5" cy="818.8" r="20"/>
<circle cx="1742.9" cy="818.4" r="20"/>
<circle cx="1748.7" cy="813.5" r="20"/>
<circle cx="1753.4" cy="813" r="20"/>
<circle cx="1763.4" cy="818.5" r="20"/>
<circle cx="1706.4" cy="826.3" r="20"/>
<circle cx="1709.2" cy="821.9" r="20"/>
<circle cx="1719.2" cy="827.6" r="20"/>
<circle cx="1726.9" cy="826.4" r="20"/>
<circle cx="1739.8" cy="824.4" r="20"/>
<circle cx="1750.9" cy="822.1" r="20"/>
<circle cx="1756.1" cy="821.2" r="20"/>
<circle cx="1761.4" cy="820.2" r="20"/>
<circle cx="1703.1" cy="829.9" r="20"/>
<circle cx="1708" cy="837" r="20"/>
<circle cx="1718.3" cy="836.2" r="20"/>
<circle cx="1730.1" cy="834.9" r="20"/>
<circle cx="1738.2" cy="836.7" r="20"/>
<circle cx="1748.4" cy="834.8" r="20"/>
<circle cx="1754.3" cy="834.6" r="20"/>
<circle cx="1762.3" cy="833.4" r="20"/>
<circle cx="1703" cy="839.2" r="20"/>
<circle cx="1715.3" cy="841.9" r="20"/>
<circle cx="1718.4" cy="839.3" r="20"/>
<circle cx="1734.5" cy="840" r="20"/>
<circle cx="1740" cy="843.5" r="20"/>
<circle cx="1753.3" cy="840.6" r="20"/>
<circle cx="1758.9" cy="841.4" r="20"/>
<circle cx="1707.9" cy="854.1" r="20"/>
<circle cx="1712.4" cy="854.7" r="20"/>
<circle cx="1721.9" cy="848.2" r="20"/>
<circle cx="1735.9" cy="853.6" r="20"/>
<circle cx="1739.3" cy="851.4" r="20"/>
<circle cx="1749.7" cy="852.8" r="20"/>
<circle cx="1755.7" cy="853.6" r="20"/>
<circle cx="1718.2" cy="861.7" r="20"/>
<circle cx="1726" cy="863.5" r="20"/>
<circle cx="1730" cy="862.8" r="20"/>
<circle cx="1742.1" cy="860.7" r="20"/>
<circle cx="1744.6" cy="861" r="20"/>
<circle cx="1756.2" cy="858.4" r="20"/>
<circle cx="1725.1" cy="870" r="20"/>
<circle cx="1734.2" cy="865.3" r="20"/>
<circle cx="1744" cy="867" r="20"/>
<circle cx="1752.4" cy="870" r="20"/>
</g>
<g fill="none" stroke="#000000" stroke-width="11">
<line x1="1721.6" y1="502.2" x2="1749.8" y2="530.4"/><line x1="1721.6" y1="530.4" x2="1749.8" y2="502.2"/>
<line x1="1720.9" y1="512" x2="1749.1" y2="540.2"/><line x1="1720.9" y1="540.2" x2="1749.1" y2="512"/>
<line x1="1700.7" y1="546.4" x2="1728.9" y2="574.6"/><line x1="1700.7" y1="574.6" x2="1728.9" y2="546.4"/>
<line x1="1712.9" y1="543.2" x2="1741.1" y2="571.4"/><line x1="1712.9" y1="571.4" x2="1741.1" y2="543.2"/>
<line x1="1742.4" y1="566.9" x2="1770.6" y2="595.1"/><line x1="1742.4" y1="595.1" x2="1770.6" y2="566.9"/>
<line x1="1700.4" y1="560.9" x2="1728.6" y2="589.1"/><line x1="1700.4" y1="589.1" x2="1728.6" y2="560.9"/>
<line x1="1688.6" y1="592.8" x2="1716.8" y2="621"/><line x1="1688.6" y1="621" x2="1716.8" y2="592.8"/>
<line x1="1731.6" y1="602.5" x2="1759.8" y2="630.7"/><line x1="1731.6" y1="630.7" x2="1759.8" y2="602.5"/>
<line x1="1682.3" y1="619.9" x2="1710.5" y2="648.1"/><line x1="1682.3" y1="648.1" x2="1710.5" y2="619.9"/>
<line x1="1733.2" y1="659.4" x2="1761.4" y2="687.6"/><line x1="1733.2" y1="687.6" x2="1761.4" y2="659.4"/>
<line x1="1687.5" y1="661.3" x2="1715.7" y2="689.5"/><line x1="1687.5" y1="689.5" x2="1715.7" y2="661.3"/>
<line x1="1691.3" y1="782.2" x2="1719.5" y2="810.4"/><line x1="1691.3" y1="810.4" x2="1719.5" y2="782.2"/>
<line x1="1714.4" y1="792.2" x2="1742.6" y2="820.4"/><line x1="1714.4" y1="820.4" x2="1742.6" y2="792.2"/>
<line x1="1727.1" y1="792.2" x2="1755.3" y2="820.4"/><line x1="1727.1" y1="820.4" x2="1755.3" y2="792.2"/>
<line x1="1727.3" y1="786.3" x2="1755.5" y2="814.5"/><line x1="1727.3" y1="814.5" x2="1755.5" y2="786.3"/>
<line x1="1708.3" y1="874" x2="1736.5" y2="902.2"/><line x1="1708.3" y1="902.2" x2="1736.5" y2="874"/>
<line x1="1686.6" y1="627.3" x2="1714.9" y2="655.6"/><line x1="1686.6" y1="655.6" x2="1714.9" y2="627.3"/>
<line x1="1694.2" y1="628.4" x2="1722.5" y2="656.7"/><line x1="1694.2" y1="656.7" x2="1722.5" y2="628.4"/>
<line x1="1700.5" y1="628.3" x2="1728.7" y2="656.6"/><line x1="1700.5" y1="656.6" x2="1728.7" y2="628.3"/>
<line x1="1702.9" y1="625.9" x2="1731.2" y2="654.1"/><line x1="1702.9" y1="654.1" x2="1731.2" y2="625.9"/>
<line x1="1714.9" y1="626.7" x2="1743.1" y2="655"/><line x1="1714.9" y1="655" x2="1743.1" y2="626.7"/>
<line x1="1718.9" y1="625.9" x2="1747.1" y2="654.1"/><line x1="1718.9" y1="654.1" x2="1747.1" y2="625.9"/>
<line x1="1685.9" y1="630.9" x2="1714.1" y2="659.2"/><line x1="1685.9" y1="659.2" x2="1714.1" y2="630.9"/>
<line x1="1692.6" y1="632.8" x2="1720.9" y2="661.1"/><line x1="1692.6" y1="661.1" x2="1720.9" y2="632.8"/>
<line x1="1696.1" y1="630.7" x2="1724.3" y2="659"/><line x1="1696.1" y1="659" x2="1724.3" y2="630.7"/>
<line x1="1704.1" y1="634.8" x2="1732.4" y2="663.1"/><line x1="1704.1" y1="663.1" x2="1732.4" y2="634.8"/>
<line x1="1713.5" y1="630.4" x2="1741.8" y2="658.6"/><line x1="1713.5" y1="658.6" x2="1741.8" y2="630.4"/>
<line x1="1718.5" y1="630.2" x2="1746.8" y2="658.5"/><line x1="1718.5" y1="658.5" x2="1746.8" y2="630.2"/>
<line x1="1686.5" y1="636.7" x2="1714.8" y2="665"/><line x1="1686.5" y1="665" x2="1714.8" y2="636.7"/>
<line x1="1689.4" y1="641" x2="1717.7" y2="669.3"/><line x1="1689.4" y1="669.3" x2="1717.7" y2="641"/>
<line x1="1697.1" y1="637.2" x2="1725.3" y2="665.5"/><line x1="1697.1" y1="665.5" x2="1725.3" y2="637.2"/>
<line x1="1708" y1="641" x2="1736.3" y2="669.3"/><line x1="1708" y1="669.3" x2="1736.3" y2="641"/>
<line x1="1710.4" y1="641.6" x2="1738.7" y2="669.8"/><line x1="1710.4" y1="669.8" x2="1738.7" y2="641.6"/>
<line x1="1718.1" y1="639.9" x2="1746.4" y2="668.2"/><line x1="1718.1" y1="668.2" x2="1746.4" y2="639.9"/>
<line x1="1686.1" y1="647.9" x2="1714.4" y2="676.2"/><line x1="1686.1" y1="676.2" x2="1714.4" y2="647.9"/>
<line x1="1694.2" y1="648.1" x2="1722.5" y2="676.4"/><line x1="1694.2" y1="676.4" x2="1722.5" y2="648.1"/>
<line x1="1702.5" y1="644.2" x2="1730.7" y2="672.5"/><line x1="1702.5" y1="672.5" x2="1730.7" y2="644.2"/>
<line x1="1706.4" y1="643.4" x2="1734.7" y2="671.7"/><line x1="1706.4" y1="671.7" x2="1734.7" y2="643.4"/>
<line x1="1712.2" y1="642.8" x2="1740.4" y2="671.1"/><line x1="1712.2" y1="671.1" x2="1740.4" y2="642.8"/>
<line x1="1720.1" y1="646" x2="1748.4" y2="674.2"/><line x1="1720.1" y1="674.2" x2="1748.4" y2="646"/>
<line x1="1686.7" y1="652.9" x2="1715" y2="681.2"/><line x1="1686.7" y1="681.2" x2="1715" y2="652.9"/>
<line x1="1691.9" y1="650.7" x2="1720.2" y2="679"/><line x1="1691.9" y1="679" x2="1720.2" y2="650.7"/>
<line x1="1701" y1="651.7" x2="1729.2" y2="680"/><line x1="1701" y1="680" x2="1729.2" y2="651.7"/>
<line x1="1704.2" y1="651.8" x2="1732.5" y2="680"/><line x1="1704.2" y1="680" x2="1732.5" y2="651.8"/>
<line x1="1712.7" y1="649.3" x2="1741" y2="677.5"/><line x1="1712.7" y1="677.5" x2="1741" y2="649.3"/>
<line x1="1720.5" y1="649.1" x2="1748.8" y2="677.3"/><line x1="1720.5" y1="677.3" x2="1748.8" y2="649.1"/>
<line x1="1725.4" y1="653.9" x2="1753.7" y2="682.2"/><line x1="1725.4" y1="682.2" x2="1753.7" y2="653.9"/>
<line x1="1727.3" y1="653.5" x2="1755.6" y2="681.8"/><line x1="1727.3" y1="681.8" x2="1755.6" y2="653.5"/>
<line x1="1686.7" y1="658.8" x2="1715" y2="687.1"/><line x1="1686.7" y1="687.1" x2="1715" y2="658.8"/>
<line x1="1690.4" y1="655.7" x2="1718.7" y2="684"/><line x1="1690.4" y1="684" x2="1718.7" y2="655.7"/>
<line x1="1698" y1="661" x2="1726.3" y2="689.3"/><line x1="1698" y1="689.3" x2="1726.3" y2="661"/>
<line x1="1704.7" y1="659.9" x2="1733" y2="688.1"/><line x1="1704.7" y1="688.1" x2="1733" y2="659.9"/>
<line x1="1715.6" y1="660.9" x2="1743.9" y2="689.2"/><line x1="1715.6" y1="689.2" x2="1743.9" y2="660.9"/>
<line x1="1718.8" y1="657.5" x2="1747" y2="685.8"/><line x1="1718.8" y1="685.8" x2="1747" y2="657.5"/>
<line x1="1726.4" y1="660" x2="1754.7" y2="688.3"/><line x1="1726.4" y1="688.3" x2="1754.7" y2="660"/>
<line x1="1730.6" y1="659.8" x2="1758.8" y2="688.1"/><line x1="1730.6" y1="688.1" x2="1758.8" y2="659.8"/>
<line x1="1688.3" y1="667" x2="1716.5" y2="695.2"/><line x1="1688.3" y1="695.2" x2="1716.5" y2="667"/>
<line x1="1690.4" y1="667.5" x2="1718.7" y2="695.7"/><line x1="1690.4" y1="695.7" x2="1718.7" y2="667.5"/>
<line x1="1697.4" y1="663.9" x2="1725.6" y2="692.2"/><line x1="1697.4" y1="692.2" x2="1725.6" y2="663.9"/>
<line x1="1707" y1="667.3" x2="1735.3" y2="695.6"/><line x1="1707" y1="695.6" x2="1735.3" y2="667.3"/>
<line x1="1712.1" y1="667.3" x2="1740.3" y2="695.6"/><line x1="1712.1" y1="695.6" x2="1740.3" y2="667.3"/>
<line x1="1719.9" y1="663.8" x2="1748.2" y2="692"/><line x1="1719.9" y1="692" x2="1748.2" y2="663.8"/>
<line x1="1725.2" y1="663" x2="1753.4" y2="691.3"/><line x1="1725.2" y1="691.3" x2="1753.4" y2="663"/>
<line x1="1730.4" y1="662.8" x2="1758.7" y2="691.1"/><line x1="1730.4" y1="691.1" x2="1758.7" y2="662.8"/>
<line x1="1687.4" y1="674.3" x2="1715.7" y2="702.5"/><line x1="1687.4" y1="702.5" x2="1715.7" y2="674.3"/>
<line x1="1691" y1="668.7" x2="1719.3" y2="697"/><line x1="1691" y1="697" x2="1719.3" y2="668.7"/>
<line x1="1702.5" y1="671.6" x2="1730.7" y2="699.8"/><line x1="1702.5" y1="699.8" x2="1730.7" y2="671.6"/>
<line x1="1705.7" y1="669.8" x2="1734" y2="698.1"/><line x1="1705.7" y1="698.1" x2="1734" y2="669.8"/>
<line x1="1713.5" y1="673.3" x2="1741.7" y2="701.5"/><line x1="1713.5" y1="701.5" x2="1741.7" y2="673.3"/>
<line x1="1719.3" y1="670.9" x2="1747.6" y2="699.2"/><line x1="1719.3" y1="699.2" x2="1747.6" y2="670.9"/>
<line x1="1723.6" y1="673.8" x2="1751.9" y2="702.1"/><line x1="1723.6" y1="702.1" x2="1751.9" y2="673.8"/>
<line x1="1730.1" y1="671.3" x2="1758.4" y2="699.6"/><line x1="1730.1" y1="699.6" x2="1758.4" y2="671.3"/>
<line x1="1688.1" y1="675.7" x2="1716.4" y2="704"/><line x1="1688.1" y1="704" x2="1716.4" y2="675.7"/>
<line x1="1694.1" y1="680.5" x2="1722.4" y2="708.8"/><line x1="1694.1" y1="708.8" x2="1722.4" y2="680.5"/>
<line x1="1700.2" y1="679.5" x2="1728.5" y2="707.8"/><line x1="1700.2" y1="707.8" x2="1728.5" y2="679.5"/>
<line x1="1703.8" y1="677.5" x2="1732.1" y2="705.8"/><line x1="1703.8" y1="705.8" x2="1732.1" y2="677.5"/>
<line x1="1710.8" y1="679.9" x2="1739.1" y2="708.2"/><line x1="1710.8" y1="708.2" x2="1739.1" y2="679.9"/>
<line x1="1718.3" y1="677.6" x2="1746.6" y2="705.9"/><line x1="1718.3" y1="705.9" x2="1746.6" y2="677.6"/>
<line x1="1729.1" y1="679.9" x2="1757.4" y2="708.2"/><line x1="1729.1" y1="708.2" x2="1757.4" y2="679.9"/>
<line x1="1732.9" y1="677.6" x2="1761.1" y2="705.9"/><line x1="1732.9" y1="705.9" x2="1761.1" y2="677.6"/>
<line x1="1685.9" y1="685.7" x2="1714.2" y2="714"/><line x1="1685.9" y1="714" x2="1714.2" y2="685.7"/>
<line x1="1692.5" y1="683.1" x2="1720.8" y2="711.4"/><line x1="1692.5" y1="711.4" x2="1720.8" y2="683.1"/>
<line x1="1698.8" y1="682.3" x2="1727" y2="710.6"/><line x1="1698.8" y1="710.6" x2="1727" y2="682.3"/>
<line x1="1705.3" y1="687.2" x2="1733.6" y2="715.5"/><line x1="1705.3" y1="715.5" x2="1733.6" y2="687.2"/>
<line x1="1715.4" y1="685.1" x2="1743.7" y2="713.4"/><line x1="1715.4" y1="713.4" x2="1743.7" y2="685.1"/>
<line x1="1719.4" y1="683.4" x2="1747.7" y2="711.7"/><line x1="1719.4" y1="711.7" x2="1747.7" y2="683.4"/>
<line x1="1723.7" y1="683" x2="1752" y2="711.3"/><line x1="1723.7" y1="711.3" x2="1752" y2="683"/>
<line x1="1732.9" y1="686.5" x2="1761.1" y2="714.8"/><line x1="1732.9" y1="714.8" x2="1761.1" y2="686.5"/>
<line x1="1687.5" y1="692.5" x2="1715.8" y2="720.8"/><line x1="1687.5" y1="720.8" x2="1715.8" y2="692.5"/>
<line x1="1695.3" y1="692" x2="1723.6" y2="720.3"/><line x1="1695.3" y1="720.3" x2="1723.6" y2="692"/>
<line x1="1700.8" y1="692.4" x2="1729.1" y2="720.7"/><line x1="1700.8" y1="720.7" x2="1729.1" y2="692.4"/>
<line x1="1705.3" y1="692.1" x2="1733.5" y2="720.3"/><line x1="1705.3" y1="720.3" x2="1733.5" y2="692.1"/>
<line x1="1711" y1="690.8" x2="1739.2" y2="719.1"/><line x1="1711" y1="719.1" x2="1739.2" y2="690.8"/>
<line x1="1720" y1="692" x2="1748.3" y2="720.3"/><line x1="1720" y1="720.3" x2="1748.3" y2="692"/>
<line x1="1723.4" y1="693.5" x2="1751.7" y2="721.7"/><line x1="1723.4" y1="721.7" x2="1751.7" y2="693.5"/>
<line x1="1730.8" y1="691.3" x2="1759.1" y2="719.6"/><line x1="1730.8" y1="719.6" x2="1759.1" y2="691.3"/>
<line x1="1689.7" y1="697.6" x2="1718" y2="725.9"/><line x1="1689.7" y1="725.9" x2="1718" y2="697.6"/>
<line x1="1694.6" y1="698.4" x2="1722.9" y2="726.6"/><line x1="1694.6" y1="726.6" x2="1722.9" y2="698.4"/>
<line x1="1702.3" y1="699.2" x2="1730.5" y2="727.5"/><line x1="1702.3" y1="727.5" x2="1730.5" y2="699.2"/>
<line x1="1709.7" y1="699.1" x2="1738" y2="727.4"/><line x1="1709.7" y1="727.4" x2="1738" y2="699.1"/>
<line x1="1714.4" y1="698.2" x2="1742.7" y2="726.5"/><line x1="1714.4" y1="726.5" x2="1742.7" y2="698.2"/>
<line x1="1723.1" y1="699.3" x2="1751.3" y2="727.6"/><line x1="1723.1" y1="727.6" x2="1751.3" y2="699.3"/>
<line x1="1727.2" y1="699.4" x2="1755.5" y2="727.6"/><line x1="1727.2" y1="727.6" x2="1755.5" y2="699.4"/>
<line x1="1692.7" y1="705" x2="1721" y2="733.2"/><line x1="1692.7" y1="733.2" x2="1721" y2="705"/>
<line x1="1699.5" y1="706.5" x2="1727.8" y2="734.8"/><line x1="1699.5" y1="734.8" x2="1727.8" y2="706.5"/>
<line x1="1703" y1="704" x2="1731.2" y2="732.3"/><line x1="1703" y1="732.3" x2="1731.2" y2="704"/>
<line x1="1707.1" y1="705.8" x2="1735.4" y2="734.1"/><line x1="1707.1" y1="734.1" x2="1735.4" y2="705.8"/>
<line x1="1717.8" y1="703.7" x2="1746" y2="732"/><line x1="1717.8" y1="732" x2="1746" y2="703.7"/>
<line x1="1722.5" y1="705.1" x2="1750.8" y2="733.4"/><line x1="1722.5" y1="733.4" x2="1750.8" y2="705.1"/>
<line x1="1727.5" y1="701.9" x2="1755.8" y2="730.2"/><line x1="1727.5" y1="730.2" x2="1755.8" y2="701.9"/>
<line x1="1692.9" y1="710.8" x2="1721.2" y2="739.1"/><line x1="1692.9" y1="739.1" x2="1721.2" y2="710.8"/>
<line x1="1698.2" y1="709.9" x2="1726.5" y2="738.2"/><line x1="1698.2" y1="738.2" x2="1726.5" y2="709.9"/>
<line x1="1703.9" y1="712" x2="1732.2" y2="740.2"/><line x1="1703.9" y1="740.2" x2="1732.2" y2="712"/>
<line x1="1710" y1="711.6" x2="1738.3" y2="739.9"/><line x1="1710" y1="739.9" x2="1738.3" y2="711.6"/>
<line x1="1712.4" y1="708.4" x2="1740.7" y2="736.7"/><line x1="1712.4" y1="736.7" x2="1740.7" y2="708.4"/>
<line x1="1720.8" y1="711.2" x2="1749.1" y2="739.5"/><line x1="1720.8" y1="739.5" x2="1749.1" y2="711.2"/>
<line x1="1725.5" y1="711.4" x2="1753.8" y2="739.7"/><line x1="1725.5" y1="739.7" x2="1753.8" y2="711.4"/>
<line x1="1692.6" y1="714.2" x2="1720.9" y2="742.5"/><line x1="1692.6" y1="742.5" x2="1720.9" y2="714.2"/>
<line x1="1698.7" y1="715.3" x2="1727" y2="743.5"/><line x1="1698.7" y1="743.5" x2="1727" y2="715.3"/>
<line x1="1703.3" y1="714.7" x2="1731.5" y2="743"/><line x1="1703.3" y1="743" x2="1731.5" y2="714.7"/>
<line x1="1711.8" y1="715" x2="1740.1" y2="743.3"/><line x1="1711.8" y1="743.3" x2="1740.1" y2="715"/>
<line x1="1718.1" y1="714.1" x2="1746.3" y2="742.4"/><line x1="1718.1" y1="742.4" x2="1746.3" y2="714.1"/>
<line x1="1726.7" y1="716.2" x2="1754.9" y2="744.4"/><line x1="1726.7" y1="744.4" x2="1754.9" y2="716.2"/>
<line x1="1692.5" y1="723.9" x2="1720.8" y2="752.2"/><line x1="1692.5" y1="752.2" x2="1720.8" y2="723.9"/>
<line x1="1697.3" y1="725.7" x2="1725.6" y2="754"/><line x1="1697.3" y1="754" x2="1725.6" y2="725.7"/>
<line x1="1702.9" y1="722.8" x2="1731.2" y2="751.1"/><line x1="1702.9" y1="751.1" x2="1731.2" y2="722.8"/>
<line x1="1711.6" y1="722.8" x2="1739.8" y2="751.1"/><line x1="1711.6" y1="751.1" x2="1739.8" y2="722.8"/>
<line x1="1717.6" y1="725.3" x2="1745.9" y2="753.6"/><line x1="1717.6" y1="753.6" x2="1745.9" y2="725.3"/>
<line x1="1726.1" y1="720.6" x2="1754.4" y2="748.9"/><line x1="1726.1" y1="748.9" x2="1754.4" y2="720.6"/>
<line x1="1692.5" y1="727.5" x2="1720.8" y2="755.8"/><line x1="1692.5" y1="755.8" x2="1720.8" y2="727.5"/>
<line x1="1699.1" y1="728.9" x2="1727.4" y2="757.2"/><line x1="1699.1" y1="757.2" x2="1727.4" y2="728.9"/>
<line x1="1706.3" y1="732.5" x2="1734.6" y2="760.8"/><line x1="1706.3" y1="760.8" x2="1734.6" y2="732.5"/>
<line x1="1714.7" y1="729.4" x2="1743" y2="757.7"/><line x1="1714.7" y1="757.7" x2="1743" y2="729.4"/>
<line x1="1721.7" y1="730.7" x2="1750" y2="759"/><line x1="1721.7" y1="759" x2="1750" y2="730.7"/>
<line x1="1726.1" y1="727.8" x2="1754.4" y2="756"/><line x1="1726.1" y1="756" x2="1754.4" y2="727.8"/>
<line x1="1692.4" y1="736.7" x2="1720.7" y2="765"/><line x1="1692.4" y1="765" x2="1720.7" y2="736.7"/>
<line x1="1701.5" y1="739.1" x2="1729.8" y2="767.4"/><line x1="1701.5" y1="767.4" x2="1729.8" y2="739.1"/>
<line x1="1706.5" y1="735.5" x2="1734.7" y2="763.8"/><line x1="1706.5" y1="763.8" x2="1734.7" y2="735.5"/>
<line x1="1715.1" y1="733.4" x2="1743.4" y2="761.7"/><line x1="1715.1" y1="761.7" x2="1743.4" y2="733.4"/>
<line x1="1717.5" y1="736.7" x2="1745.8" y2="765"/><line x1="1717.5" y1="765" x2="1745.8" y2="736.7"/>
<line x1="1726.8" y1="734.3" x2="1755" y2="762.5"/><line x1="1726.8" y1="762.5" x2="1755" y2="734.3"/>
<line x1="1692.6" y1="745.1" x2="1720.9" y2="773.4"/><line x1="1692.6" y1="773.4" x2="1720.9" y2="745.1"/>
<line x1="1697.9" y1="742.5" x2="1726.2" y2="770.7"/><line x1="1697.9" y1="770.7" x2="1726.2" y2="742.5"/>
<line x1="1703.7" y1="741.6" x2="1732" y2="769.9"/><line x1="1703.7" y1="769.9" x2="1732" y2="741.6"/>
<line x1="1714.9" y1="742.2" x2="1743.1" y2="770.4"/><line x1="1714.9" y1="770.4" x2="1743.1" y2="742.2"/>
<line x1="1721.5" y1="745.3" x2="1749.8" y2="773.6"/><line x1="1721.5" y1="773.6" x2="1749.8" y2="745.3"/>
<line x1="1725.6" y1="741.5" x2="1753.9" y2="769.7"/><line x1="1725.6" y1="769.7" x2="1753.9" y2="741.5"/>
<line x1="1694.7" y1="749.3" x2="1723" y2="777.6"/><line x1="1694.7" y1="777.6" x2="1723" y2="749.3"/>
<line x1="1697.9" y1="748.3" x2="1726.2" y2="776.6"/><line x1="1697.9" y1="776.6" x2="1726.2" y2="748.3"/>
<line x1="1707.7" y1="749.3" x2="1736" y2="777.6"/><line x1="1707.7" y1="777.6" x2="1736" y2="749.3"/>
<line x1="1710.1" y1="749.2" x2="1738.4" y2="777.5"/><line x1="1710.1" y1="777.5" x2="1738.4" y2="749.2"/>
<line x1="1715.7" y1="750.1" x2="1744" y2="778.4"/><line x1="1715.7" y1="778.4" x2="1744" y2="750.1"/>
<line x1="1724.1" y1="748.1" x2="1752.4" y2="776.4"/><line x1="1724.1" y1="776.4" x2="1752.4" y2="748.1"/>
<line x1="1693.5" y1="757.8" x2="1721.8" y2="786.1"/><line x1="1693.5" y1="786.1" x2="1721.8" y2="757.8"/>
<line x1="1695.3" y1="756.1" x2="1723.6" y2="784.3"/><line x1="1695.3" y1="784.3" x2="1723.6" y2="756.1"/>
<line x1="1703.1" y1="758.4" x2="1731.4" y2="786.7"/><line x1="1703.1" y1="786.7" x2="1731.4" y2="758.4"/>
<line x1="1712.3" y1="754.4" x2="1740.6" y2="782.7"/><line x1="1712.3" y1="782.7" x2="1740.6" y2="754.4"/>
<line x1="1715.6" y1="753.8" x2="1743.9" y2="782.1"/><line x1="1715.6" y1="782.1" x2="1743.9" y2="753.8"/>
<line x1="1723.2" y1="754.7" x2="1751.5" y2="782.9"/><line x1="1723.2" y1="782.9" x2="1751.5" y2="754.7"/>
<line x1="1692.5" y1="762.2" x2="1720.8" y2="790.5"/><line x1="1692.5" y1="790.5" x2="1720.8" y2="762.2"/>
<line x1="1699.1" y1="763" x2="1727.4" y2="791.2"/><line x1="1699.1" y1="791.2" x2="1727.4" y2="763"/>
<line x1="1706.1" y1="760.1" x2="1734.4" y2="788.4"/><line x1="1706.1" y1="788.4" x2="1734.4" y2="760.1"/>
<line x1="1712.6" y1="761.2" x2="1740.9" y2="789.5"/><line x1="1712.6" y1="789.5" x2="1740.9" y2="761.2"/>
<line x1="1717.7" y1="761.4" x2="1745.9" y2="789.7"/><line x1="1717.7" y1="789.7" x2="1745.9" y2="761.4"/>
<line x1="1722.7" y1="762.5" x2="1751" y2="790.8"/><line x1="1722.7" y1="790.8" x2="1751" y2="762.5"/>
<line x1="1691.9" y1="768" x2="1720.1" y2="796.3"/><line x1="1691.9" y1="796.3" x2="1720.1" y2="768"/>
<line x1="1700" y1="769.4" x2="1728.3" y2="797.7"/><line x1="1700" y1="797.7" x2="1728.3" y2="769.4"/>
<line x1="1702.5" y1="767.4" x2="1730.8" y2="795.7"/><line x1="1702.5" y1="795.7" x2="1730.8" y2="767.4"/>
<line x1="1711.7" y1="771.3" x2="1739.9" y2="799.6"/><line x1="1711.7" y1="799.6" x2="1739.9" y2="771.3"/>
<line x1="1720.9" y1="769.1" x2="1749.2" y2="797.4"/><line x1="1720.9" y1="797.4" x2="1749.2" y2="769.1"/>
<line x1="1722.5" y1="770.5" x2="1750.7" y2="798.8"/><line x1="1722.5" y1="798.8" x2="1750.7" y2="770.5"/>
<line x1="1691.9" y1="775.8" x2="1720.1" y2="804.1"/><line x1="1691.9" y1="804.1" x2="1720.1" y2="775.8"/>
<line x1="1700.1" y1="776.1" x2="1728.3" y2="804.4"/><line x1="1700.1" y1="804.4" x2="1728.3" y2="776.1"/>
<line x1="1705.7" y1="777.8" x2="1734" y2="806"/><line x1="1705.7" y1="806" x2="1734" y2="777.8"/>
<line x1="1712.1" y1="774.7" x2="1740.4" y2="803"/><line x1="1712.1" y1="803" x2="1740.4" y2="774.7"/>
<line x1="1721.8" y1="773.6" x2="1750.1" y2="801.9"/><line x1="1721.8" y1="801.9" x2="1750.1" y2="773.6"/>
<line x1="1725.6" y1="777.3" x2="1753.8" y2="805.6"/><line x1="1725.6" y1="805.6" x2="1753.8" y2="777.3"/>
<line x1="1695.5" y1="783.8" x2="1723.7" y2="812.1"/><line x1="1695.5" y1="812.1" x2="1723.7" y2="783.8"/>
<line x1="1702.9" y1="781.5" x2="1731.2" y2="809.7"/><line x1="1702.9" y1="809.7" x2="1731.2" y2="781.5"/>
<line x1="1706.8" y1="783.5" x2="1735.1" y2="811.8"/><line x1="1706.8" y1="811.8" x2="1735.1" y2="783.5"/>
<line x1="1716.7" y1="779.8" x2="1745" y2="808"/><line x1="1716.7" y1="808" x2="1745" y2="779.8"/>
<line x1="1720.5" y1="782.1" x2="1748.7" y2="810.4"/><line x1="1720.5" y1="810.4" x2="1748.7" y2="782.1"/>
<line x1="1726.8" y1="780.9" x2="1755.1" y2="809.1"/><line x1="1726.8" y1="809.1" x2="1755.1" y2="780.9"/>
<line x1="1705.4" y1="561.7" x2="1733.7" y2="590"/><line x1="1705.4" y1="590" x2="1733.7" y2="561.7"/>
<line x1="1716.9" y1="557.9" x2="1745.1" y2="586.1"/><line x1="1716.9" y1="586.1" x2="1745.1" y2="557.9"/>
<line x1="1702.9" y1="566.3" x2="1731.2" y2="594.6"/><line x1="1702.9" y1="594.6" x2="1731.2" y2="566.3"/>
<line x1="1712.4" y1="566" x2="1740.7" y2="594.3"/><line x1="1712.4" y1="594.3" x2="1740.7" y2="566"/>
<line x1="1719" y1="569.9" x2="1747.3" y2="598.1"/><line x1="1719" y1="598.1" x2="1747.3" y2="569.9"/>
<line x1="1698.4" y1="575.4" x2="1726.7" y2="603.7"/><line x1="1698.4" y1="603.7" x2="1726.7" y2="575.4"/>
<line x1="1708.9" y1="575.1" x2="1737.2" y2="603.4"/><line x1="1708.9" y1="603.4" x2="1737.2" y2="575.1"/>
<line x1="1721" y1="573.2" x2="1749.3" y2="601.5"/><line x1="1721" y1="601.5" x2="1749.3" y2="573.2"/>
<line x1="1694.5" y1="584.7" x2="1722.8" y2="613"/><line x1="1694.5" y1="613" x2="1722.8" y2="584.7"/>
<line x1="1700.8" y1="583.1" x2="1729.1" y2="611.4"/><line x1="1700.8" y1="611.4" x2="1729.1" y2="583.1"/>
<line x1="1716.7" y1="585.2" x2="1744.9" y2="613.5"/><line x1="1716.7" y1="613.5" x2="1744.9" y2="585.2"/>
<line x1="1722.7" y1="585.3" x2="1751" y2="613.6"/><line x1="1722.7" y1="613.6" x2="1751" y2="585.3"/>
<line x1="1691.4" y1="593.1" x2="1719.7" y2="621.4"/><line x1="1691.4" y1="621.4" x2="1719.7" y2="593.1"/>
<line x1="1698.8" y1="591.6" x2="1727.1" y2="619.9"/><line x1="1698.8" y1="619.9" x2="1727.1" y2="591.6"/>
<line x1="1715.6" y1="599.2" x2="1743.9" y2="627.5"/><line x1="1715.6" y1="627.5" x2="1743.9" y2="599.2"/>
<line x1="1724.3" y1="597.8" x2="1752.6" y2="626"/><line x1="1724.3" y1="626" x2="1752.6" y2="597.8"/>
<line x1="1693.2" y1="606.2" x2="1721.5" y2="634.5"/><line x1="1693.2" y1="634.5" x2="1721.5" y2="606.2"/>
<line x1="1698.7" y1="609.2" x2="1727" y2="637.5"/><line x1="1698.7" y1="637.5" x2="1727" y2="609.2"/>
<line x1="1708.3" y1="602.6" x2="1736.6" y2="630.9"/><line x1="1708.3" y1="630.9" x2="1736.6" y2="602.6"/>
<line x1="1717.5" y1="608.6" x2="1745.7" y2="636.8"/><line x1="1717.5" y1="636.8" x2="1745.7" y2="608.6"/>
<line x1="1725.8" y1="605.6" x2="1754.1" y2="633.9"/><line x1="1725.8" y1="633.9" x2="1754.1" y2="605.6"/>
<line x1="1689.1" y1="613" x2="1717.4" y2="641.2"/><line x1="1689.1" y1="641.2" x2="1717.4" y2="613"/>
<line x1="1697.4" y1="615.8" x2="1725.7" y2="644.1"/><line x1="1697.4" y1="644.1" x2="1725.7" y2="615.8"/>
<line x1="1701" y1="618.7" x2="1729.3" y2="646.9"/><line x1="1701" y1="646.9" x2="1729.3" y2="618.7"/>
<line x1="1716.5" y1="617.3" x2="1744.8" y2="645.6"/><line x1="1716.5" y1="645.6" x2="1744.8" y2="617.3"/>
<line x1="1720.4" y1="617.2" x2="1748.7" y2="645.5"/><line x1="1720.4" y1="645.5" x2="1748.7" y2="617.2"/>
</g>
<g fill="none" stroke="#ff0000" stroke-width="11">
<line x1="1457.9" y1="934.3" x2="1486.1" y2="962.5"/><line x1="1457.9" y1="962.5" x2="1486.1" y2="934.3"/>
<line x1="1494.9" y1="977.2" x2="1523.1" y2="1005.4"/><line x1="1494.9" y1="1005.4" x2="1523.1" y2="977.2"/>
<line x1="1441.3" y1="1015.5" x2="1469.5" y2="1043.7"/><line x1="1441.3" y1="1043.7" x2="1469.5" y2="1015.5"/>
<line x1="1458.9" y1="1013.9" x2="1487.1" y2="1042.1"/><line x1="1458.9" y1="1042.1" x2="1487.1" y2="1013.9"/>
<line x1="1465.9" y1="1013.9" x2="1494.1" y2="1042.1"/><line x1="1465.9" y1="1042.1" x2="1494.1" y2="1013.9"/>
<line x1="1473.4" y1="1013.9" x2="1501.6" y2="1042.1"/><line x1="1473.4" y1="1042.1" x2="1501.6" y2="1013.9"/>
<line x1="1485.7" y1="1066.6" x2="1513.9" y2="1094.8"/><line x1="1485.7" y1="1094.8" x2="1513.9" y2="1066.6"/>
<line x1="1430.5" y1="1073.3" x2="1458.7" y2="1101.5"/><line x1="1430.5" y1="1101.5" x2="1458.7" y2="1073.3"/>
<line x1="1440.7" y1="1071.7" x2="1468.9" y2="1099.9"/><line x1="1440.7" y1="1099.9" x2="1468.9" y2="1071.7"/>
<line x1="1512.5" y1="1078.3" x2="1540.7" y2="1106.5"/><line x1="1512.5" y1="1106.5" x2="1540.7" y2="1078.3"/>
<line x1="1404.3" y1="1095.3" x2="1432.5" y2="1123.5"/><line x1="1404.3" y1="1123.5" x2="1432.5" y2="1095.3"/>
<line x1="1433.2" y1="1106.3" x2="1461.4" y2="1134.5"/><line x1="1433.2" y1="1134.5" x2="1461.4" y2="1106.3"/>
<line x1="1496.7" y1="1101.6" x2="1524.9" y2="1129.8"/><line x1="1496.7" y1="1129.8" x2="1524.9" y2="1101.6"/>
<line x1="1491.8" y1="1117.2" x2="1520" y2="1145.4"/><line x1="1491.8" y1="1145.4" x2="1520" y2="1117.2"/>
<line x1="1437.3" y1="1169.8" x2="1465.5" y2="1198"/><line x1="1437.3" y1="1198" x2="1465.5" y2="1169.8"/>
<line x1="1440.2" y1="1176.8" x2="1468.4" y2="1205"/><line x1="1440.2" y1="1205" x2="1468.4" y2="1176.8"/>
<line x1="1453.2" y1="1210.6" x2="1481.4" y2="1238.8"/><line x1="1453.2" y1="1238.8" x2="1481.4" y2="1210.6"/>
<line x1="1504.4" y1="1210.6" x2="1532.6" y2="1238.8"/><line x1="1504.4" y1="1238.8" x2="1532.6" y2="1210.6"/>
<line x1="1465.1" y1="1251.6" x2="1493.3" y2="1279.8"/><line x1="1465.1" y1="1279.8" x2="1493.3" y2="1251.6"/>
<line x1="1474.1" y1="1257.9" x2="1502.3" y2="1286.1"/><line x1="1474.1" y1="1286.1" x2="1502.3" y2="1257.9"/>
<line x1="1495.3" y1="1258.2" x2="1523.5" y2="1286.4"/><line x1="1495.3" y1="1286.4" x2="1523.5" y2="1258.2"/>
<line x1="1469.5" y1="1296.5" x2="1497.7" y2="1324.7"/><line x1="1469.5" y1="1324.7" x2="1497.7" y2="1296.5"/>
<line x1="1486.4" y1="1172.9" x2="1514.6" y2="1201.1"/><line x1="1486.4" y1="1201.1" x2="1514.6" y2="1172.9"/>
<line x1="1486.4" y1="1192.9" x2="1514.6" y2="1221.1"/><line x1="1486.4" y1="1221.1" x2="1514.6" y2="1192.9"/>
<line x1="1461.6" y1="1023.7" x2="1489.9" y2="1052"/><line x1="1461.6" y1="1052" x2="1489.9" y2="1023.7"/>
<line x1="1465.8" y1="1021.9" x2="1494.1" y2="1050.1"/><line x1="1465.8" y1="1050.1" x2="1494.1" y2="1021.9"/>
<line x1="1468.9" y1="1022.8" x2="1497.2" y2="1051.1"/><line x1="1468.9" y1="1051.1" x2="1497.2" y2="1022.8"/>
<line x1="1458.2" y1="1029.9" x2="1486.5" y2="1058.2"/><line x1="1458.2" y1="1058.2" x2="1486.5" y2="1029.9"/>
<line x1="1464.3" y1="1029.9" x2="1492.6" y2="1058.2"/><line x1="1464.3" y1="1058.2" x2="1492.6" y2="1029.9"/>
<line x1="1470.5" y1="1030.1" x2="1498.8" y2="1058.4"/><line x1="1470.5" y1="1058.4" x2="1498.8" y2="1030.1"/>
<line x1="1458" y1="1034.4" x2="1486.2" y2="1062.6"/><line x1="1458" y1="1062.6" x2="1486.2" y2="1034.4"/>
<line x1="1464.5" y1="1035.9" x2="1492.7" y2="1064.2"/><line x1="1464.5" y1="1064.2" x2="1492.7" y2="1035.9"/>
<line x1="1470.1" y1="1035.2" x2="1498.3" y2="1063.5"/><line x1="1470.1" y1="1063.5" x2="1498.3" y2="1035.2"/>
<line x1="1456.8" y1="1040" x2="1485" y2="1068.3"/><line x1="1456.8" y1="1068.3" x2="1485" y2="1040"/>
<line x1="1462.4" y1="1042.4" x2="1490.7" y2="1070.7"/><line x1="1462.4" y1="1070.7" x2="1490.7" y2="1042.4"/>
<line x1="1468.2" y1="1040.4" x2="1496.5" y2="1068.7"/><line x1="1468.2" y1="1068.7" x2="1496.5" y2="1040.4"/>
<line x1="1469.5" y1="1043.1" x2="1497.8" y2="1071.4"/><line x1="1469.5" y1="1071.4" x2="1497.8" y2="1043.1"/>
<line x1="1454.8" y1="1047.5" x2="1483.1" y2="1075.8"/><line x1="1454.8" y1="1075.8" x2="1483.1" y2="1047.5"/>
<line x1="1457.2" y1="1046.1" x2="1485.5" y2="1074.4"/><line x1="1457.2" y1="1074.4" x2="1485.5" y2="1046.1"/>
<line x1="1466.9" y1="1046.6" x2="1495.2" y2="1074.9"/><line x1="1466.9" y1="1074.9" x2="1495.2" y2="1046.6"/>
<line x1="1472.7" y1="1048.4" x2="1500.9" y2="1076.7"/><line x1="1472.7" y1="1076.7" x2="1500.9" y2="1048.4"/>
<line x1="1450.5" y1="1055.3" x2="1478.7" y2="1083.5"/><line x1="1450.5" y1="1083.5" x2="1478.7" y2="1055.3"/>
<line x1="1455.8" y1="1056.9" x2="1484.1" y2="1085.2"/><line x1="1455.8" y1="1085.2" x2="1484.1" y2="1056.9"/>
<line x1="1465.3" y1="1054.4" x2="1493.5" y2="1082.7"/><line x1="1465.3" y1="1082.7" x2="1493.5" y2="1054.4"/>
<line x1="1469.9" y1="1055.5" x2="1498.2" y2="1083.8"/><line x1="1469.9" y1="1083.8" x2="1498.2" y2="1055.5"/>
<line x1="1475.3" y1="1057.1" x2="1503.5" y2="1085.4"/><line x1="1475.3" y1="1085.4" x2="1503.5" y2="1057.1"/>
<line x1="1447.9" y1="1060" x2="1476.1" y2="1088.3"/><line x1="1447.9" y1="1088.3" x2="1476.1" y2="1060"/>
<line x1="1454.5" y1="1059.7" x2="1482.7" y2="1088"/><line x1="1454.5" y1="1088" x2="1482.7" y2="1059.7"/>
<line x1="1460.4" y1="1058.5" x2="1488.7" y2="1086.7"/><line x1="1460.4" y1="1086.7" x2="1488.7" y2="1058.5"/>
<line x1="1468.1" y1="1061" x2="1496.4" y2="1089.3"/><line x1="1468.1" y1="1089.3" x2="1496.4" y2="1061"/>
<line x1="1469.6" y1="1061.8" x2="1497.9" y2="1090.1"/><line x1="1469.6" y1="1090.1" x2="1497.9" y2="1061.8"/>
<line x1="1476.8" y1="1059.1" x2="1505" y2="1087.4"/><line x1="1476.8" y1="1087.4" x2="1505" y2="1059.1"/>
<line x1="1443.5" y1="1065.2" x2="1471.8" y2="1093.5"/><line x1="1443.5" y1="1093.5" x2="1471.8" y2="1065.2"/>
<line x1="1448.3" y1="1069.5" x2="1476.6" y2="1097.8"/><line x1="1448.3" y1="1097.8" x2="1476.6" y2="1069.5"/>
<line x1="1457.6" y1="1064.5" x2="1485.9" y2="1092.8"/><line x1="1457.6" y1="1092.8" x2="1485.9" y2="1064.5"/>
<line x1="1464.5" y1="1064.5" x2="1492.8" y2="1092.8"/><line x1="1464.5" y1="1092.8" x2="1492.8" y2="1064.5"/>
<line x1="1468.3" y1="1069.7" x2="1496.6" y2="1098"/><line x1="1468.3" y1="1098" x2="1496.6" y2="1069.7"/>
<line x1="1476.5" y1="1066.2" x2="1504.7" y2="1094.5"/><line x1="1476.5" y1="1094.5" x2="1504.7" y2="1066.2"/>
<line x1="1481.5" y1="1066.7" x2="1509.8" y2="1095"/><line x1="1481.5" y1="1095" x2="1509.8" y2="1066.7"/>
<line x1="1439.2" y1="1076.8" x2="1467.5" y2="1105.1"/><line x1="1439.2" y1="1105.1" x2="1467.5" y2="1076.8"/>
<line x1="1443.3" y1="1073.4" x2="1471.6" y2="1101.7"/><line x1="1443.3" y1="1101.7" x2="1471.6" y2="1073.4"/>
<line x1="1454.2" y1="1073.3" x2="1482.4" y2="1101.5"/><line x1="1454.2" y1="1101.5" x2="1482.4" y2="1073.3"/>
<line x1="1462.3" y1="1072.4" x2="1490.6" y2="1100.7"/><line x1="1462.3" y1="1100.7" x2="1490.6" y2="1072.4"/>
<line x1="1469" y1="1076.2" x2="1497.3" y2="1104.4"/><line x1="1469" y1="1104.4" x2="1497.3" y2="1076.2"/>
<line x1="1474" y1="1076.1" x2="1502.3" y2="1104.4"/><line x1="1474" y1="1104.4" x2="1502.3" y2="1076.1"/>
<line x1="1479.5" y1="1075.8" x2="1507.7" y2="1104.1"/><line x1="1479.5" y1="1104.1" x2="1507.7" y2="1075.8"/>
<line x1="1486.5" y1="1074" x2="1514.8" y2="1102.2"/><line x1="1486.5" y1="1102.2" x2="1514.8" y2="1074"/>
<line x1="1436.7" y1="1081.6" x2="1464.9" y2="1109.8"/><line x1="1436.7" y1="1109.8" x2="1464.9" y2="1081.6"/>
<line x1="1442.8" y1="1077.9" x2="1471" y2="1106.2"/><line x1="1442.8" y1="1106.2" x2="1471" y2="1077.9"/>
<line x1="1451.4" y1="1079" x2="1479.6" y2="1107.3"/><line x1="1451.4" y1="1107.3" x2="1479.6" y2="1079"/>
<line x1="1456.5" y1="1082" x2="1484.7" y2="1110.3"/><line x1="1456.5" y1="1110.3" x2="1484.7" y2="1082"/>
<line x1="1461.2" y1="1077.6" x2="1489.5" y2="1105.8"/><line x1="1461.2" y1="1105.8" x2="1489.5" y2="1077.6"/>
<line x1="1467.6" y1="1080.9" x2="1495.9" y2="1109.2"/><line x1="1467.6" y1="1109.2" x2="1495.9" y2="1080.9"/>
<line x1="1475.6" y1="1078.9" x2="1503.9" y2="1107.2"/><line x1="1475.6" y1="1107.2" x2="1503.9" y2="1078.9"/>
<line x1="1482.8" y1="1082.9" x2="1511" y2="1111.1"/><line x1="1482.8" y1="1111.1" x2="1511" y2="1082.9"/>
<line x1="1488.2" y1="1079.8" x2="1516.5" y2="1108.1"/><line x1="1488.2" y1="1108.1" x2="1516.5" y2="1079.8"/>
<line x1="1437.1" y1="1087.5" x2="1465.4" y2="1115.8"/><line x1="1437.1" y1="1115.8" x2="1465.4" y2="1087.5"/>
<line x1="1439.9" y1="1086.7" x2="1468.2" y2="1115"/><line x1="1439.9" y1="1115" x2="1468.2" y2="1086.7"/>
<line x1="1447.5" y1="1084.8" x2="1475.8" y2="1113"/><line x1="1447.5" y1="1113" x2="1475.8" y2="1084.8"/>
<line x1="1453.3" y1="1085.7" x2="1481.6" y2="1114"/><line x1="1453.3" y1="1114" x2="1481.6" y2="1085.7"/>
<line x1="1462.2" y1="1085.8" x2="1490.5" y2="1114.1"/><line x1="1462.2" y1="1114.1" x2="1490.5" y2="1085.8"/>
<line x1="1467.7" y1="1089.6" x2="1496" y2="1117.9"/><line x1="1467.7" y1="1117.9" x2="1496" y2="1089.6"/>
<line x1="1475.6" y1="1086.1" x2="1503.9" y2="1114.4"/><line x1="1475.6" y1="1114.4" x2="1503.9" y2="1086.1"/>
<line x1="1480.1" y1="1085.8" x2="1508.4" y2="1114.1"/><line x1="1480.1" y1="1114.1" x2="1508.4" y2="1085.8"/>
<line x1="1485.3" y1="1086.8" x2="1513.6" y2="1115.1"/><line x1="1485.3" y1="1115.1" x2="1513.6" y2="1086.8"/>
<line x1="1492.3" y1="1089.4" x2="1520.5" y2="1117.7"/><line x1="1492.3" y1="1117.7" x2="1520.5" y2="1089.4"/>
<line x1="1434.2" y1="1090.5" x2="1462.5" y2="1118.8"/><line x1="1434.2" y1="1118.8" x2="1462.5" y2="1090.5"/>
<line x1="1440.5" y1="1090.8" x2="1468.8" y2="1119"/><line x1="1440.5" y1="1119" x2="1468.8" y2="1090.8"/>
<line x1="1444.7" y1="1095" x2="1473" y2="1123.2"/><line x1="1444.7" y1="1123.2" x2="1473" y2="1095"/>
<line x1="1451.8" y1="1094.6" x2="1480.1" y2="1122.9"/><line x1="1451.8" y1="1122.9" x2="1480.1" y2="1094.6"/>
<line x1="1459.9" y1="1095.9" x2="1488.2" y2="1124.2"/><line x1="1459.9" y1="1124.2" x2="1488.2" y2="1095.9"/>
<line x1="1469.4" y1="1090.8" x2="1497.7" y2="1119.1"/><line x1="1469.4" y1="1119.1" x2="1497.7" y2="1090.8"/>
<line x1="1472.2" y1="1096" x2="1500.5" y2="1124.3"/><line x1="1472.2" y1="1124.3" x2="1500.5" y2="1096"/>
<line x1="1481.3" y1="1092.9" x2="1509.5" y2="1121.2"/><line x1="1481.3" y1="1121.2" x2="1509.5" y2="1092.9"/>
<line x1="1488.9" y1="1095.2" x2="1517.2" y2="1123.5"/><line x1="1488.9" y1="1123.5" x2="1517.2" y2="1095.2"/>
<line x1="1493.8" y1="1093.2" x2="1522.1" y2="1121.5"/><line x1="1493.8" y1="1121.5" x2="1522.1" y2="1093.2"/>
<line x1="1435.1" y1="1099.1" x2="1463.3" y2="1127.3"/><line x1="1435.1" y1="1127.3" x2="1463.3" y2="1099.1"/>
<line x1="1439.5" y1="1100.6" x2="1467.8" y2="1128.9"/><line x1="1439.5" y1="1128.9" x2="1467.8" y2="1100.6"/>
<line x1="1448.8" y1="1097.8" x2="1477" y2="1126.1"/><line x1="1448.8" y1="1126.1" x2="1477" y2="1097.8"/>
<line x1="1455.4" y1="1097.5" x2="1483.7" y2="1125.8"/><line x1="1455.4" y1="1125.8" x2="1483.7" y2="1097.5"/>
<line x1="1458.9" y1="1100.7" x2="1487.2" y2="1129"/><line x1="1458.9" y1="1129" x2="1487.2" y2="1100.7"/>
<line x1="1467.5" y1="1102.2" x2="1495.8" y2="1130.5"/><line x1="1467.5" y1="1130.5" x2="1495.8" y2="1102.2"/>
<line x1="1475" y1="1101" x2="1503.3" y2="1129.3"/><line x1="1475" y1="1129.3" x2="1503.3" y2="1101"/>
<line x1="1478.6" y1="1101.8" x2="1506.9" y2="1130.1"/><line x1="1478.6" y1="1130.1" x2="1506.9" y2="1101.8"/>
<line x1="1484.9" y1="1100.6" x2="1513.2" y2="1128.8"/><line x1="1484.9" y1="1128.8" x2="1513.2" y2="1100.6"/>
<line x1="1493.9" y1="1102.2" x2="1522.1" y2="1130.5"/><line x1="1493.9" y1="1130.5" x2="1522.1" y2="1102.2"/>
<line x1="1438.4" y1="1106.1" x2="1466.7" y2="1134.4"/><line x1="1438.4" y1="1134.4" x2="1466.7" y2="1106.1"/>
<line x1="1443.6" y1="1108.1" x2="1471.9" y2="1136.3"/><line x1="1443.6" y1="1136.3" x2="1471.9" y2="1108.1"/>
<line x1="1446.8" y1="1109" x2="1475.1" y2="1137.2"/><line x1="1446.8" y1="1137.2" x2="1475.1" y2="1109"/>
<line x1="1457.7" y1="1106" x2="1486" y2="1134.3"/><line x1="1457.7" y1="1134.3" x2="1486" y2="1106"/>
<line x1="1463.3" y1="1106.1" x2="1491.6" y2="1134.3"/><line x1="1463.3" y1="1134.3" x2="1491.6" y2="1106.1"/>
<line x1="1466.7" y1="1107.6" x2="1495" y2="1135.9"/><line x1="1466.7" y1="1135.9" x2="1495" y2="1107.6"/>
<line x1="1471.9" y1="1108.1" x2="1500.2" y2="1136.4"/><line x1="1471.9" y1="1136.4" x2="1500.2" y2="1108.1"/>
<line x1="1483.6" y1="1105.1" x2="1511.9" y2="1133.4"/><line x1="1483.6" y1="1133.4" x2="1511.9" y2="1105.1"/>
<line x1="1489.8" y1="1103.9" x2="1518.1" y2="1132.2"/><line x1="1489.8" y1="1132.2" x2="1518.1" y2="1103.9"/>
<line x1="1493.6" y1="1105.1" x2="1521.9" y2="1133.4"/><line x1="1493.6" y1="1133.4" x2="1521.9" y2="1105.1"/>
<line x1="1442.3" y1="1112.5" x2="1470.6" y2="1140.7"/><line x1="1442.3" y1="1140.7" x2="1470.6" y2="1112.5"/>
<line x1="1448.4" y1="1110.1" x2="1476.7" y2="1138.4"/><line x1="1448.4" y1="1138.4" x2="1476.7" y2="1110.1"/>
<line x1="1449.8" y1="1114.7" x2="1478.1" y2="1143"/><line x1="1449.8" y1="1143" x2="1478.1" y2="1114.7"/>
<line x1="1459.4" y1="1113.1" x2="1487.6" y2="1141.3"/><line x1="1459.4" y1="1141.3" x2="1487.6" y2="1113.1"/>
<line x1="1462.1" y1="1110.9" x2="1490.4" y2="1139.2"/><line x1="1462.1" y1="1139.2" x2="1490.4" y2="1110.9"/>
<line x1="1470.4" y1="1110.2" x2="1498.7" y2="1138.5"/><line x1="1470.4" y1="1138.5" x2="1498.7" y2="1110.2"/>
<line x1="1480.4" y1="1114.4" x2="1508.7" y2="1142.7"/><line x1="1480.4" y1="1142.7" x2="1508.7" y2="1114.4"/>
<line x1="1486.4" y1="1114" x2="1514.7" y2="1142.3"/><line x1="1486.4" y1="1142.3" x2="1514.7" y2="1114"/>
<line x1="1489.2" y1="1110.4" x2="1517.5" y2="1138.7"/><line x1="1489.2" y1="1138.7" x2="1517.5" y2="1110.4"/>
<line x1="1444.4" y1="1117.1" x2="1472.7" y2="1145.4"/><line x1="1444.4" y1="1145.4" x2="1472.7" y2="1117.1"/>
<line x1="1449.6" y1="1119.1" x2="1477.8" y2="1147.4"/><line x1="1449.6" y1="1147.4" x2="1477.8" y2="1119.1"/>
<line x1="1455.5" y1="1116.9" x2="1483.8" y2="1145.2"/><line x1="1455.5" y1="1145.2" x2="1483.8" y2="1116.9"/>
<line x1="1459.3" y1="1119.5" x2="1487.5" y2="1147.8"/><line x1="1459.3" y1="1147.8" x2="1487.5" y2="1119.5"/>
<line x1="1465.2" y1="1119.5" x2="1493.5" y2="1147.8"/><line x1="1465.2" y1="1147.8" x2="1493.5" y2="1119.5"/>
<line x1="1472.2" y1="1118.1" x2="1500.4" y2="1146.4"/><line x1="1472.2" y1="1146.4" x2="1500.4" y2="1118.1"/>
<line x1="1478.4" y1="1119.8" x2="1506.7" y2="1148"/><line x1="1478.4" y1="1148" x2="1506.7" y2="1119.8"/>
<line x1="1486" y1="1117.7" x2="1514.3" y2="1146"/><line x1="1486" y1="1146" x2="1514.3" y2="1117.7"/>
<line x1="1444.5" y1="1126.2" x2="1472.8" y2="1154.5"/><line x1="1444.5" y1="1154.5" x2="1472.8" y2="1126.2"/>
<line x1="1453.2" y1="1125.4" x2="1481.4" y2="1153.7"/><line x1="1453.2" y1="1153.7" x2="1481.4" y2="1125.4"/>
<line x1="1455.1" y1="1124.8" x2="1483.3" y2="1153.1"/><line x1="1455.1" y1="1153.1" x2="1483.3" y2="1124.8"/>
<line x1="1461.8" y1="1126.3" x2="1490.1" y2="1154.6"/><line x1="1461.8" y1="1154.6" x2="1490.1" y2="1126.3"/>
<line x1="1471.2" y1="1126.3" x2="1499.5" y2="1154.5"/><line x1="1471.2" y1="1154.5" x2="1499.5" y2="1126.3"/>
<line x1="1474" y1="1124.8" x2="1502.3" y2="1153.1"/><line x1="1474" y1="1153.1" x2="1502.3" y2="1124.8"/>
<line x1="1481.4" y1="1125.5" x2="1509.7" y2="1153.8"/><line x1="1481.4" y1="1153.8" x2="1509.7" y2="1125.5"/>
<line x1="1444.7" y1="1135.3" x2="1472.9" y2="1163.6"/><line x1="1444.7" y1="1163.6" x2="1472.9" y2="1135.3"/>
<line x1="1452" y1="1133.3" x2="1480.3" y2="1161.6"/><line x1="1452" y1="1161.6" x2="1480.3" y2="1133.3"/>
<line x1="1460" y1="1133.2" x2="1488.3" y2="1161.5"/><line x1="1460" y1="1161.5" x2="1488.3" y2="1133.2"/>
<line x1="1467.6" y1="1131.6" x2="1495.8" y2="1159.9"/><line x1="1467.6" y1="1159.9" x2="1495.8" y2="1131.6"/>
<line x1="1473.8" y1="1135.1" x2="1502.1" y2="1163.4"/><line x1="1473.8" y1="1163.4" x2="1502.1" y2="1135.1"/>
<line x1="1477.9" y1="1133.1" x2="1506.2" y2="1161.4"/><line x1="1477.9" y1="1161.4" x2="1506.2" y2="1133.1"/>
<line x1="1444.3" y1="1136.3" x2="1472.6" y2="1164.6"/><line x1="1444.3" y1="1164.6" x2="1472.6" y2="1136.3"/>
<line x1="1448.7" y1="1140.4" x2="1477" y2="1168.7"/><line x1="1448.7" y1="1168.7" x2="1477" y2="1140.4"/>
<line x1="1456.3" y1="1140.1" x2="1484.5" y2="1168.4"/><line x1="1456.3" y1="1168.4" x2="1484.5" y2="1140.1"/>
<line x1="1463.3" y1="1138.1" x2="1491.6" y2="1166.4"/><line x1="1463.3" y1="1166.4" x2="1491.6" y2="1138.1"/>
<line x1="1470" y1="1139.1" x2="1498.3" y2="1167.4"/><line x1="1470" y1="1167.4" x2="1498.3" y2="1139.1"/>
<line x1="1479.9" y1="1137.3" x2="1508.1" y2="1165.5"/><line x1="1479.9" y1="1165.5" x2="1508.1" y2="1137.3"/>
<line x1="1444.3" y1="1147.8" x2="1472.6" y2="1176.1"/><line x1="1444.3" y1="1176.1" x2="1472.6" y2="1147.8"/>
<line x1="1448.7" y1="1145.2" x2="1477" y2="1173.5"/><line x1="1448.7" y1="1173.5" x2="1477" y2="1145.2"/>
<line x1="1457.2" y1="1147.5" x2="1485.5" y2="1175.8"/><line x1="1457.2" y1="1175.8" x2="1485.5" y2="1147.5"/>
<line x1="1459.9" y1="1146.3" x2="1488.2" y2="1174.6"/><line x1="1459.9" y1="1174.6" x2="1488.2" y2="1146.3"/>
<line x1="1465.6" y1="1143.1" x2="1493.9" y2="1171.4"/><line x1="1465.6" y1="1171.4" x2="1493.9" y2="1143.1"/>
<line x1="1476.7" y1="1142.7" x2="1505" y2="1171"/><line x1="1476.7" y1="1171" x2="1505" y2="1142.7"/>
<line x1="1479.9" y1="1146.8" x2="1508.1" y2="1175.1"/><line x1="1479.9" y1="1175.1" x2="1508.1" y2="1146.8"/>
<line x1="1441.9" y1="1153.2" x2="1470.2" y2="1181.5"/><line x1="1441.9" y1="1181.5" x2="1470.2" y2="1153.2"/>
<line x1="1448.4" y1="1150.6" x2="1476.7" y2="1178.9"/><line x1="1448.4" y1="1178.9" x2="1476.7" y2="1150.6"/>
<line x1="1453.9" y1="1150.1" x2="1482.2" y2="1178.4"/><line x1="1453.9" y1="1178.4" x2="1482.2" y2="1150.1"/>
<line x1="1463.1" y1="1153.5" x2="1491.3" y2="1181.8"/><line x1="1463.1" y1="1181.8" x2="1491.3" y2="1153.5"/>
<line x1="1469.3" y1="1150.2" x2="1497.6" y2="1178.5"/><line x1="1469.3" y1="1178.5" x2="1497.6" y2="1150.2"/>
<line x1="1474.9" y1="1150.4" x2="1503.2" y2="1178.7"/><line x1="1474.9" y1="1178.7" x2="1503.2" y2="1150.4"/>
<line x1="1481.1" y1="1153.3" x2="1509.3" y2="1181.6"/><line x1="1481.1" y1="1181.6" x2="1509.3" y2="1153.3"/>
<line x1="1441.6" y1="1159.6" x2="1469.9" y2="1187.9"/><line x1="1441.6" y1="1187.9" x2="1469.9" y2="1159.6"/>
<line x1="1446" y1="1160" x2="1474.3" y2="1188.3"/><line x1="1446" y1="1188.3" x2="1474.3" y2="1160"/>
<line x1="1448.7" y1="1158.9" x2="1477" y2="1187.2"/><line x1="1448.7" y1="1187.2" x2="1477" y2="1158.9"/>
<line x1="1454.6" y1="1157.6" x2="1482.9" y2="1185.9"/><line x1="1454.6" y1="1185.9" x2="1482.9" y2="1157.6"/>
<line x1="1461.3" y1="1161" x2="1489.6" y2="1189.3"/><line x1="1461.3" y1="1189.3" x2="1489.6" y2="1161"/>
<line x1="1467" y1="1160.8" x2="1495.3" y2="1189.1"/><line x1="1467" y1="1189.1" x2="1495.3" y2="1160.8"/>
<line x1="1478.6" y1="1158" x2="1506.9" y2="1186.3"/><line x1="1478.6" y1="1186.3" x2="1506.9" y2="1158"/>
<line x1="1482.2" y1="1155.7" x2="1510.5" y2="1184"/><line x1="1482.2" y1="1184" x2="1510.5" y2="1155.7"/>
<line x1="1438.2" y1="1162" x2="1466.5" y2="1190.3"/><line x1="1438.2" y1="1190.3" x2="1466.5" y2="1162"/>
<line x1="1442.1" y1="1162" x2="1470.4" y2="1190.2"/><line x1="1442.1" y1="1190.2" x2="1470.4" y2="1162"/>
<line x1="1453" y1="1162.4" x2="1481.3" y2="1190.7"/><line x1="1453" y1="1190.7" x2="1481.3" y2="1162.4"/>
<line x1="1458" y1="1163.5" x2="1486.3" y2="1191.8"/><line x1="1458" y1="1191.8" x2="1486.3" y2="1163.5"/>
<line x1="1461.7" y1="1164.4" x2="1490" y2="1192.7"/><line x1="1461.7" y1="1192.7" x2="1490" y2="1164.4"/>
<line x1="1468.4" y1="1167.7" x2="1496.7" y2="1195.9"/><line x1="1468.4" y1="1195.9" x2="1496.7" y2="1167.7"/>
<line x1="1476" y1="1165.4" x2="1504.3" y2="1193.7"/><line x1="1476" y1="1193.7" x2="1504.3" y2="1165.4"/>
<line x1="1483.1" y1="1165.6" x2="1511.4" y2="1193.9"/><line x1="1483.1" y1="1193.9" x2="1511.4" y2="1165.6"/>
<line x1="1438.1" y1="1170" x2="1466.4" y2="1198.3"/><line x1="1438.1" y1="1198.3" x2="1466.4" y2="1170"/>
<line x1="1442.6" y1="1173.6" x2="1470.9" y2="1201.9"/><line x1="1442.6" y1="1201.9" x2="1470.9" y2="1173.6"/>
<line x1="1449.5" y1="1171.1" x2="1477.7" y2="1199.3"/><line x1="1449.5" y1="1199.3" x2="1477.7" y2="1171.1"/>
<line x1="1459.6" y1="1171.8" x2="1487.9" y2="1200.1"/><line x1="1459.6" y1="1200.1" x2="1487.9" y2="1171.8"/>
<line x1="1467" y1="1173.2" x2="1495.3" y2="1201.5"/><line x1="1467" y1="1201.5" x2="1495.3" y2="1173.2"/>
<line x1="1471" y1="1169.1" x2="1499.3" y2="1197.4"/><line x1="1471" y1="1197.4" x2="1499.3" y2="1169.1"/>
<line x1="1478" y1="1171.2" x2="1506.3" y2="1199.5"/><line x1="1478" y1="1199.5" x2="1506.3" y2="1171.2"/>
<line x1="1484" y1="1171.5" x2="1512.3" y2="1199.8"/><line x1="1484" y1="1199.8" x2="1512.3" y2="1171.5"/>
<line x1="1440.5" y1="1179.7" x2="1468.8" y2="1208"/><line x1="1440.5" y1="1208" x2="1468.8" y2="1179.7"/>
<line x1="1445.7" y1="1179.9" x2="1474" y2="1208.1"/><line x1="1445.7" y1="1208.1" x2="1474" y2="1179.9"/>
<line x1="1454.7" y1="1175.8" x2="1483" y2="1204.1"/><line x1="1454.7" y1="1204.1" x2="1483" y2="1175.8"/>
<line x1="1461.3" y1="1180" x2="1489.6" y2="1208.3"/><line x1="1461.3" y1="1208.3" x2="1489.6" y2="1180"/>
<line x1="1467.4" y1="1176.9" x2="1495.7" y2="1205.2"/><line x1="1467.4" y1="1205.2" x2="1495.7" y2="1176.9"/>
<line x1="1470.4" y1="1175.7" x2="1498.7" y2="1204"/><line x1="1470.4" y1="1204" x2="1498.7" y2="1175.7"/>
<line x1="1477.6" y1="1179.9" x2="1505.9" y2="1208.2"/><line x1="1477.6" y1="1208.2" x2="1505.9" y2="1179.9"/>
<line x1="1484.1" y1="1175" x2="1512.3" y2="1203.2"/><line x1="1484.1" y1="1203.2" x2="1512.3" y2="1175"/>
<line x1="1440.6" y1="1181.9" x2="1468.9" y2="1210.2"/><line x1="1440.6" y1="1210.2" x2="1468.9" y2="1181.9"/>
<line x1="1447.7" y1="1185.9" x2="1476" y2="1214.2"/><line x1="1447.7" y1="1214.2" x2="1476" y2="1185.9"/>
<line x1="1456" y1="1182" x2="1484.2" y2="1210.2"/><line x1="1456" y1="1210.2" x2="1484.2" y2="1182"/>
<line x1="1459.2" y1="1182.2" x2="1487.5" y2="1210.5"/><line x1="1459.2" y1="1210.5" x2="1487.5" y2="1182.2"/>
<line x1="1468.7" y1="1186.3" x2="1497" y2="1214.6"/><line x1="1468.7" y1="1214.6" x2="1497" y2="1186.3"/>
<line x1="1472.9" y1="1187" x2="1501.2" y2="1215.3"/><line x1="1472.9" y1="1215.3" x2="1501.2" y2="1187"/>
<line x1="1479.3" y1="1186" x2="1507.6" y2="1214.3"/><line x1="1479.3" y1="1214.3" x2="1507.6" y2="1186"/>
<line x1="1485.6" y1="1183.6" x2="1513.9" y2="1211.8"/><line x1="1485.6" y1="1211.8" x2="1513.9" y2="1183.6"/>
<line x1="1449.3" y1="1192.9" x2="1477.5" y2="1221.1"/><line x1="1449.3" y1="1221.1" x2="1477.5" y2="1192.9"/>
<line x1="1453.4" y1="1193" x2="1481.7" y2="1221.3"/><line x1="1453.4" y1="1221.3" x2="1481.7" y2="1193"/>
<line x1="1460.2" y1="1192.6" x2="1488.5" y2="1220.9"/><line x1="1460.2" y1="1220.9" x2="1488.5" y2="1192.6"/>
<line x1="1463.3" y1="1188.7" x2="1491.6" y2="1217"/><line x1="1463.3" y1="1217" x2="1491.6" y2="1188.7"/>
<line x1="1470.1" y1="1191.5" x2="1498.4" y2="1219.7"/><line x1="1470.1" y1="1219.7" x2="1498.4" y2="1191.5"/>
<line x1="1480.1" y1="1188.8" x2="1508.4" y2="1217.1"/><line x1="1480.1" y1="1217.1" x2="1508.4" y2="1188.8"/>
<line x1="1485.4" y1="1188.6" x2="1513.6" y2="1216.9"/><line x1="1485.4" y1="1216.9" x2="1513.6" y2="1188.6"/>
<line x1="1453.1" y1="1199" x2="1481.4" y2="1227.3"/><line x1="1453.1" y1="1227.3" x2="1481.4" y2="1199"/>
<line x1="1456.2" y1="1200.2" x2="1484.4" y2="1228.4"/><line x1="1456.2" y1="1228.4" x2="1484.4" y2="1200.2"/>
<line x1="1466.1" y1="1195.2" x2="1494.4" y2="1223.4"/><line x1="1466.1" y1="1223.4" x2="1494.4" y2="1195.2"/>
<line x1="1470.8" y1="1195.4" x2="1499.1" y2="1223.6"/><line x1="1470.8" y1="1223.6" x2="1499.1" y2="1195.4"/>
<line x1="1479.6" y1="1199.8" x2="1507.9" y2="1228.1"/><line x1="1479.6" y1="1228.1" x2="1507.9" y2="1199.8"/>
<line x1="1483" y1="1195.5" x2="1511.2" y2="1223.8"/><line x1="1483" y1="1223.8" x2="1511.2" y2="1195.5"/>
<line x1="1453.4" y1="1206" x2="1481.7" y2="1234.2"/><line x1="1453.4" y1="1234.2" x2="1481.7" y2="1206"/>
<line x1="1460.5" y1="1203.6" x2="1488.8" y2="1231.9"/><line x1="1460.5" y1="1231.9" x2="1488.8" y2="1203.6"/>
<line x1="1463.3" y1="1204.5" x2="1491.5" y2="1232.8"/><line x1="1463.3" y1="1232.8" x2="1491.5" y2="1204.5"/>
<line x1="1471.7" y1="1205.6" x2="1500" y2="1233.9"/><line x1="1471.7" y1="1233.9" x2="1500" y2="1205.6"/>
<line x1="1478.8" y1="1205.2" x2="1507.1" y2="1233.5"/><line x1="1478.8" y1="1233.5" x2="1507.1" y2="1205.2"/>
<line x1="1484.9" y1="1204.6" x2="1513.1" y2="1232.9"/><line x1="1484.9" y1="1232.9" x2="1513.1" y2="1204.6"/>
<line x1="1455.7" y1="1209" x2="1484" y2="1237.3"/><line x1="1455.7" y1="1237.3" x2="1484" y2="1209"/>
<line x1="1456.7" y1="1212.6" x2="1485" y2="1240.9"/><line x1="1456.7" y1="1240.9" x2="1485" y2="1212.6"/>
<line x1="1463.2" y1="1213.2" x2="1491.5" y2="1241.5"/><line x1="1463.2" y1="1241.5" x2="1491.5" y2="1213.2"/>
<line x1="1472" y1="1207.8" x2="1500.3" y2="1236.1"/><line x1="1472" y1="1236.1" x2="1500.3" y2="1207.8"/>
<line x1="1477.2" y1="1211.7" x2="1505.5" y2="1239.9"/><line x1="1477.2" y1="1239.9" x2="1505.5" y2="1211.7"/>
<line x1="1484.2" y1="1211.1" x2="1512.5" y2="1239.4"/><line x1="1484.2" y1="1239.4" x2="1512.5" y2="1211.1"/>
<line x1="1455" y1="1218.8" x2="1483.2" y2="1247.1"/><line x1="1455" y1="1247.1" x2="1483.2" y2="1218.8"/>
<line x1="1460.2" y1="1218.8" x2="1488.5" y2="1247.1"/><line x1="1460.2" y1="1247.1" x2="1488.5" y2="1218.8"/>
<line x1="1464.9" y1="1217.8" x2="1493.2" y2="1246.1"/><line x1="1464.9" y1="1246.1" x2="1493.2" y2="1217.8"/>
<line x1="1472.7" y1="1216.3" x2="1501" y2="1244.6"/><line x1="1472.7" y1="1244.6" x2="1501" y2="1216.3"/>
<line x1="1476.1" y1="1217" x2="1504.4" y2="1245.3"/><line x1="1476.1" y1="1245.3" x2="1504.4" y2="1217"/>
<line x1="1484.9" y1="1214.5" x2="1513.2" y2="1242.8"/><line x1="1484.9" y1="1242.8" x2="1513.2" y2="1214.5"/>
<line x1="1462.1" y1="1220.5" x2="1490.4" y2="1248.8"/><line x1="1462.1" y1="1248.8" x2="1490.4" y2="1220.5"/>
<line x1="1470.8" y1="1226.1" x2="1499.1" y2="1254.4"/><line x1="1470.8" y1="1254.4" x2="1499.1" y2="1226.1"/>
<line x1="1474.7" y1="1223.2" x2="1503" y2="1251.5"/><line x1="1474.7" y1="1251.5" x2="1503" y2="1223.2"/>
<line x1="1476.9" y1="1221.1" x2="1505.2" y2="1249.4"/><line x1="1476.9" y1="1249.4" x2="1505.2" y2="1221.1"/>
<line x1="1485.2" y1="1225.1" x2="1513.5" y2="1253.4"/><line x1="1485.2" y1="1253.4" x2="1513.5" y2="1225.1"/>
<line x1="1468" y1="1232" x2="1496.3" y2="1260.3"/><line x1="1468" y1="1260.3" x2="1496.3" y2="1232"/>
<line x1="1471.6" y1="1228.4" x2="1499.9" y2="1256.7"/><line x1="1471.6" y1="1256.7" x2="1499.9" y2="1228.4"/>
<line x1="1478.9" y1="1229" x2="1507.2" y2="1257.2"/><line x1="1478.9" y1="1257.2" x2="1507.2" y2="1229"/>
<line x1="1485.4" y1="1232.1" x2="1513.7" y2="1260.4"/><line x1="1485.4" y1="1260.4" x2="1513.7" y2="1232.1"/>
<line x1="1465.7" y1="1239.2" x2="1494" y2="1267.5"/><line x1="1465.7" y1="1267.5" x2="1494" y2="1239.2"/>
<line x1="1473.6" y1="1233.7" x2="1501.9" y2="1262"/><line x1="1473.6" y1="1262" x2="1501.9" y2="1233.7"/>
<line x1="1480.4" y1="1237.3" x2="1508.7" y2="1265.6"/><line x1="1480.4" y1="1265.6" x2="1508.7" y2="1237.3"/>
<line x1="1485.6" y1="1233.5" x2="1513.9" y2="1261.7"/><line x1="1485.6" y1="1261.7" x2="1513.9" y2="1233.5"/>
<line x1="1468.4" y1="1242.8" x2="1496.7" y2="1271.1"/><line x1="1468.4" y1="1271.1" x2="1496.7" y2="1242.8"/>
<line x1="1472.9" y1="1240.9" x2="1501.2" y2="1269.2"/><line x1="1472.9" y1="1269.2" x2="1501.2" y2="1240.9"/>
<line x1="1476.5" y1="1240" x2="1504.8" y2="1268.3"/><line x1="1476.5" y1="1268.3" x2="1504.8" y2="1240"/>
<line x1="1484" y1="1241.7" x2="1512.3" y2="1270"/><line x1="1484" y1="1270" x2="1512.3" y2="1241.7"/>
<line x1="1466.7" y1="1246.8" x2="1495" y2="1275.1"/><line x1="1466.7" y1="1275.1" x2="1495" y2="1246.8"/>
<line x1="1474.4" y1="1250.5" x2="1502.7" y2="1278.8"/><line x1="1474.4" y1="1278.8" x2="1502.7" y2="1250.5"/>
<line x1="1481.7" y1="1247.7" x2="1510" y2="1276"/><line x1="1481.7" y1="1276" x2="1510" y2="1247.7"/>
<line x1="1485.8" y1="1249.9" x2="1514.1" y2="1278.2"/><line x1="1485.8" y1="1278.2" x2="1514.1" y2="1249.9"/>
</g>
<g fill="none" stroke="#0000ff" stroke-width="11">
<line x1="1563.9" y1="719.8" x2="1592.1" y2="748"/><line x1="1563.9" y1="748" x2="1592.1" y2="719.8"/>
<line x1="1588.4" y1="766.4" x2="1616.6" y2="794.6"/><line x1="1588.4" y1="794.6" x2="1616.6" y2="766.4"/>
<line x1="1575.1" y1="791.1" x2="1603.3" y2="819.3"/><line x1="1575.1" y1="819.3" x2="1603.3" y2="791.1"/>
<line x1="1553.5" y1="838.1" x2="1581.7" y2="866.3"/><line x1="1553.5" y1="866.3" x2="1581.7" y2="838.1"/>
<line x1="1557.2" y1="912.5" x2="1585.4" y2="940.7"/><line x1="1557.2" y1="940.7" x2="1585.4" y2="912.5"/>
<line x1="1616.4" y1="914.5" x2="1644.6" y2="942.7"/><line x1="1616.4" y1="942.7" x2="1644.6" y2="914.5"/>
<line x1="1603.8" y1="1014.6" x2="1632" y2="1042.8"/><line x1="1603.8" y1="1042.8" x2="1632" y2="1014.6"/>
<line x1="1585" y1="991.5" x2="1613.2" y2="1019.7"/><line x1="1585" y1="1019.7" x2="1613.2" y2="991.5"/>
<line x1="1608.3" y1="966.2" x2="1636.5" y2="994.4"/><line x1="1608.3" y1="994.4" x2="1636.5" y2="966.2"/>
<line x1="1580.9" y1="780.9" x2="1609.1" y2="809.1"/><line x1="1580.9" y1="809.1" x2="1609.1" y2="780.9"/>
<line x1="1587.2" y1="780.9" x2="1615.5" y2="809.1"/><line x1="1587.2" y1="809.1" x2="1615.5" y2="780.9"/>
<line x1="1592.1" y1="780.9" x2="1620.3" y2="809.1"/><line x1="1592.1" y1="809.1" x2="1620.3" y2="780.9"/>
<line x1="1594.8" y1="780.9" x2="1623.1" y2="809.2"/><line x1="1594.8" y1="809.2" x2="1623.1" y2="780.9"/>
<line x1="1578.3" y1="787" x2="1606.5" y2="815.3"/><line x1="1578.3" y1="815.3" x2="1606.5" y2="787"/>
<line x1="1582.3" y1="785" x2="1610.6" y2="813.2"/><line x1="1582.3" y1="813.2" x2="1610.6" y2="785"/>
<line x1="1591" y1="789.3" x2="1619.3" y2="817.6"/><line x1="1591" y1="817.6" x2="1619.3" y2="789.3"/>
<line x1="1595.8" y1="785.7" x2="1624.1" y2="814"/><line x1="1595.8" y1="814" x2="1624.1" y2="785.7"/>
<line x1="1576.4" y1="796.5" x2="1604.7" y2="824.8"/><line x1="1576.4" y1="824.8" x2="1604.7" y2="796.5"/>
<line x1="1581.9" y1="793.3" x2="1610.1" y2="821.5"/><line x1="1581.9" y1="821.5" x2="1610.1" y2="793.3"/>
<line x1="1589.9" y1="791.2" x2="1618.2" y2="819.5"/><line x1="1589.9" y1="819.5" x2="1618.2" y2="791.2"/>
<line x1="1595" y1="792.6" x2="1623.3" y2="820.9"/><line x1="1595" y1="820.9" x2="1623.3" y2="792.6"/>
<line x1="1596.6" y1="791.6" x2="1624.9" y2="819.9"/><line x1="1596.6" y1="819.9" x2="1624.9" y2="791.6"/>
<line x1="1573.2" y1="802.2" x2="1601.5" y2="830.5"/><line x1="1573.2" y1="830.5" x2="1601.5" y2="802.2"/>
<line x1="1578.1" y1="800.8" x2="1606.3" y2="829.1"/><line x1="1578.1" y1="829.1" x2="1606.3" y2="800.8"/>
<line x1="1587.4" y1="799.6" x2="1615.7" y2="827.9"/><line x1="1587.4" y1="827.9" x2="1615.7" y2="799.6"/>
<line x1="1593.6" y1="797.8" x2="1621.9" y2="826.1"/><line x1="1593.6" y1="826.1" x2="1621.9" y2="797.8"/>
<line x1="1597.5" y1="798.6" x2="1625.8" y2="826.9"/><line x1="1597.5" y1="826.9" x2="1625.8" y2="798.6"/>
<line x1="1571.9" y1="806.4" x2="1600.2" y2="834.7"/><line x1="1571.9" y1="834.7" x2="1600.2" y2="806.4"/>
<line x1="1575.9" y1="807.4" x2="1604.2" y2="835.6"/><line x1="1575.9" y1="835.6" x2="1604.2" y2="807.4"/>
<line x1="1582.9" y1="805.7" x2="1611.2" y2="834"/><line x1="1582.9" y1="834" x2="1611.2" y2="805.7"/>
<line x1="1591.1" y1="808" x2="1619.4" y2="836.3"/><line x1="1591.1" y1="836.3" x2="1619.4" y2="808"/>
<line x1="1594.1" y1="807.3" x2="1622.4" y2="835.6"/><line x1="1594.1" y1="835.6" x2="1622.4" y2="807.3"/>
<line x1="1601.8" y1="809.1" x2="1630.1" y2="837.3"/><line x1="1601.8" y1="837.3" x2="1630.1" y2="809.1"/>
<line x1="1570.8" y1="812.1" x2="1599.1" y2="840.4"/><line x1="1570.8" y1="840.4" x2="1599.1" y2="812.1"/>
<line x1="1579.1" y1="811.1" x2="1607.3" y2="839.4"/><line x1="1579.1" y1="839.4" x2="1607.3" y2="811.1"/>
<line x1="1582.6" y1="814.9" x2="1610.8" y2="843.1"/><line x1="1582.6" y1="843.1" x2="1610.8" y2="814.9"/>
<line x1="1587.8" y1="813.3" x2="1616.1" y2="841.6"/><line x1="1587.8" y1="841.6" x2="1616.1" y2="813.3"/>
<line x1="1593.9" y1="814.3" x2="1622.2" y2="842.6"/><line x1="1593.9" y1="842.6" x2="1622.2" y2="814.3"/>
<line x1="1603.4" y1="813.8" x2="1631.7" y2="842.1"/><line x1="1603.4" y1="842.1" x2="1631.7" y2="813.8"/>
<line x1="1571.9" y1="818.8" x2="1600.1" y2="847.1"/><line x1="1571.9" y1="847.1" x2="1600.1" y2="818.8"/>
<line x1="1577.9" y1="820.4" x2="1606.1" y2="848.7"/><line x1="1577.9" y1="848.7" x2="1606.1" y2="820.4"/>
<line x1="1584.2" y1="819.6" x2="1612.5" y2="847.9"/><line x1="1584.2" y1="847.9" x2="1612.5" y2="819.6"/>
<line x1="1592.8" y1="822.5" x2="1621.1" y2="850.7"/><line x1="1592.8" y1="850.7" x2="1621.1" y2="822.5"/>
<line x1="1597.7" y1="820.8" x2="1626" y2="849.1"/><line x1="1597.7" y1="849.1" x2="1626" y2="820.8"/>
<line x1="1602.4" y1="821" x2="1630.7" y2="849.3"/><line x1="1602.4" y1="849.3" x2="1630.7" y2="821"/>
<line x1="1570.8" y1="829.2" x2="1599" y2="857.5"/><line x1="1570.8" y1="857.5" x2="1599" y2="829.2"/>
<line x1="1577.9" y1="825.1" x2="1606.1" y2="853.4"/><line x1="1577.9" y1="853.4" x2="1606.1" y2="825.1"/>
<line x1="1581.4" y1="827.3" x2="1609.7" y2="855.6"/><line x1="1581.4" y1="855.6" x2="1609.7" y2="827.3"/>
<line x1="1585.3" y1="826.1" x2="1613.6" y2="854.4"/><line x1="1585.3" y1="854.4" x2="1613.6" y2="826.1"/>
<line x1="1592.3" y1="824.1" x2="1620.5" y2="852.4"/><line x1="1592.3" y1="852.4" x2="1620.5" y2="824.1"/>
<line x1="1597.7" y1="827.9" x2="1626" y2="856.2"/><line x1="1597.7" y1="856.2" x2="1626" y2="827.9"/>
<line x1="1604.2" y1="824.9" x2="1632.5" y2="853.2"/><line x1="1604.2" y1="853.2" x2="1632.5" y2="824.9"/>
<line x1="1570.5" y1="835" x2="1598.8" y2="863.3"/><line x1="1570.5" y1="863.3" x2="1598.8" y2="835"/>
<line x1="1574" y1="832.6" x2="1602.3" y2="860.8"/><line x1="1574" y1="860.8" x2="1602.3" y2="832.6"/>
<line x1="1582.7" y1="835.1" x2="1611" y2="863.4"/><line x1="1582.7" y1="863.4" x2="1611" y2="835.1"/>
<line x1="1590.3" y1="835" x2="1618.6" y2="863.3"/><line x1="1590.3" y1="863.3" x2="1618.6" y2="835"/>
<line x1="1593.1" y1="832.4" x2="1621.4" y2="860.6"/><line x1="1593.1" y1="860.6" x2="1621.4" y2="832.4"/>
<line x1="1599.6" y1="835.1" x2="1627.8" y2="863.4"/><line x1="1599.6" y1="863.4" x2="1627.8" y2="835.1"/>
<line x1="1606.4" y1="830.8" x2="1634.6" y2="859.1"/><line x1="1606.4" y1="859.1" x2="1634.6" y2="830.8"/>
<line x1="1571.1" y1="837.8" x2="1599.3" y2="866.1"/><line x1="1571.1" y1="866.1" x2="1599.3" y2="837.8"/>
<line x1="1576.6" y1="839.3" x2="1604.8" y2="867.6"/><line x1="1576.6" y1="867.6" x2="1604.8" y2="839.3"/>
<line x1="1585.7" y1="838" x2="1614" y2="866.3"/><line x1="1585.7" y1="866.3" x2="1614" y2="838"/>
<line x1="1589.3" y1="838.9" x2="1617.6" y2="867.2"/><line x1="1589.3" y1="867.2" x2="1617.6" y2="838.9"/>
<line x1="1598.5" y1="839.7" x2="1626.8" y2="868"/><line x1="1598.5" y1="868" x2="1626.8" y2="839.7"/>
<line x1="1606.4" y1="840.5" x2="1634.6" y2="868.8"/><line x1="1606.4" y1="868.8" x2="1634.6" y2="840.5"/>
<line x1="1571.7" y1="846.5" x2="1600" y2="874.8"/><line x1="1571.7" y1="874.8" x2="1600" y2="846.5"/>
<line x1="1579.6" y1="843.3" x2="1607.9" y2="871.5"/><line x1="1579.6" y1="871.5" x2="1607.9" y2="843.3"/>
<line x1="1587.9" y1="847.5" x2="1616.1" y2="875.8"/><line x1="1587.9" y1="875.8" x2="1616.1" y2="847.5"/>
<line x1="1594.7" y1="847.6" x2="1622.9" y2="875.9"/><line x1="1594.7" y1="875.9" x2="1622.9" y2="847.6"/>
<line x1="1598.8" y1="845.3" x2="1627.1" y2="873.5"/><line x1="1598.8" y1="873.5" x2="1627.1" y2="845.3"/>
<line x1="1604" y1="846.6" x2="1632.3" y2="874.9"/><line x1="1604" y1="874.9" x2="1632.3" y2="846.6"/>
<line x1="1572.2" y1="849.8" x2="1600.5" y2="878.1"/><line x1="1572.2" y1="878.1" x2="1600.5" y2="849.8"/>
<line x1="1577.3" y1="850.4" x2="1605.6" y2="878.7"/><line x1="1577.3" y1="878.7" x2="1605.6" y2="850.4"/>
<line x1="1584.9" y1="849.7" x2="1613.2" y2="878"/><line x1="1584.9" y1="878" x2="1613.2" y2="849.7"/>
<line x1="1589.8" y1="850.3" x2="1618.1" y2="878.6"/><line x1="1589.8" y1="878.6" x2="1618.1" y2="850.3"/>
<line x1="1597.2" y1="851.6" x2="1625.5" y2="879.8"/><line x1="1597.2" y1="879.8" x2="1625.5" y2="851.6"/>
<line x1="1603.6" y1="854.5" x2="1631.9" y2="882.8"/><line x1="1603.6" y1="882.8" x2="1631.9" y2="854.5"/>
<line x1="1573.4" y1="856.8" x2="1601.7" y2="885.1"/><line x1="1573.4" y1="885.1" x2="1601.7" y2="856.8"/>
<line x1="1578" y1="858" x2="1606.3" y2="886.2"/><line x1="1578" y1="886.2" x2="1606.3" y2="858"/>
<line x1="1585.4" y1="856.7" x2="1613.7" y2="884.9"/><line x1="1585.4" y1="884.9" x2="1613.7" y2="856.7"/>
<line x1="1595" y1="861.7" x2="1623.2" y2="890"/><line x1="1595" y1="890" x2="1623.2" y2="861.7"/>
<line x1="1599.4" y1="858.8" x2="1627.7" y2="887"/><line x1="1599.4" y1="887" x2="1627.7" y2="858.8"/>
<line x1="1603.9" y1="856.5" x2="1632.2" y2="884.8"/><line x1="1603.9" y1="884.8" x2="1632.2" y2="856.5"/>
<line x1="1573.6" y1="864" x2="1601.9" y2="892.3"/><line x1="1573.6" y1="892.3" x2="1601.9" y2="864"/>
<line x1="1582" y1="863.4" x2="1610.3" y2="891.7"/><line x1="1582" y1="891.7" x2="1610.3" y2="863.4"/>
<line x1="1583.8" y1="868" x2="1612.1" y2="896.3"/><line x1="1583.8" y1="896.3" x2="1612.1" y2="868"/>
<line x1="1593.3" y1="863.3" x2="1621.6" y2="891.6"/><line x1="1593.3" y1="891.6" x2="1621.6" y2="863.3"/>
<line x1="1599.9" y1="862.6" x2="1628.1" y2="890.9"/><line x1="1599.9" y1="890.9" x2="1628.1" y2="862.6"/>
<line x1="1606.1" y1="868.2" x2="1634.4" y2="896.4"/><line x1="1606.1" y1="896.4" x2="1634.4" y2="868.2"/>
<line x1="1576.6" y1="873" x2="1604.9" y2="901.3"/><line x1="1576.6" y1="901.3" x2="1604.9" y2="873"/>
<line x1="1579.4" y1="871.1" x2="1607.6" y2="899.4"/><line x1="1579.4" y1="899.4" x2="1607.6" y2="871.1"/>
<line x1="1585.1" y1="873.5" x2="1613.4" y2="901.7"/><line x1="1585.1" y1="901.7" x2="1613.4" y2="873.5"/>
<line x1="1593.5" y1="873.5" x2="1621.8" y2="901.8"/><line x1="1593.5" y1="901.8" x2="1621.8" y2="873.5"/>
<line x1="1598.6" y1="870.2" x2="1626.8" y2="898.5"/><line x1="1598.6" y1="898.5" x2="1626.8" y2="870.2"/>
<line x1="1605.8" y1="874.7" x2="1634.1" y2="903"/><line x1="1605.8" y1="903" x2="1634.1" y2="874.7"/>
<line x1="1577.4" y1="880.2" x2="1605.7" y2="908.4"/><line x1="1577.4" y1="908.4" x2="1605.7" y2="880.2"/>
<line x1="1583.3" y1="879.8" x2="1611.6" y2="908"/><line x1="1583.3" y1="908" x2="1611.6" y2="879.8"/>
<line x1="1585.8" y1="878.5" x2="1614.1" y2="906.7"/><line x1="1585.8" y1="906.7" x2="1614.1" y2="878.5"/>
<line x1="1592.6" y1="875.6" x2="1620.9" y2="903.9"/><line x1="1592.6" y1="903.9" x2="1620.9" y2="875.6"/>
<line x1="1596.7" y1="877.1" x2="1625" y2="905.3"/><line x1="1596.7" y1="905.3" x2="1625" y2="877.1"/>
<line x1="1604.1" y1="879.5" x2="1632.4" y2="907.8"/><line x1="1604.1" y1="907.8" x2="1632.4" y2="879.5"/>
<line x1="1578.3" y1="884.6" x2="1606.6" y2="912.8"/><line x1="1578.3" y1="912.8" x2="1606.6" y2="884.6"/>
<line x1="1584.2" y1="887.7" x2="1612.5" y2="916"/><line x1="1584.2" y1="916" x2="1612.5" y2="887.7"/>
<line x1="1590.3" y1="884.1" x2="1618.6" y2="912.3"/><line x1="1590.3" y1="912.3" x2="1618.6" y2="884.1"/>
<line x1="1592" y1="883.3" x2="1620.2" y2="911.5"/><line x1="1592" y1="911.5" x2="1620.2" y2="883.3"/>
<line x1="1597.8" y1="883.1" x2="1626.1" y2="911.4"/><line x1="1597.8" y1="911.4" x2="1626.1" y2="883.1"/>
<line x1="1605.5" y1="887.2" x2="1633.8" y2="915.5"/><line x1="1605.5" y1="915.5" x2="1633.8" y2="887.2"/>
<line x1="1577.3" y1="891.2" x2="1605.5" y2="919.5"/><line x1="1577.3" y1="919.5" x2="1605.5" y2="891.2"/>
<line x1="1582.3" y1="893.1" x2="1610.6" y2="921.4"/><line x1="1582.3" y1="921.4" x2="1610.6" y2="893.1"/>
<line x1="1585.1" y1="892.3" x2="1613.4" y2="920.6"/><line x1="1585.1" y1="920.6" x2="1613.4" y2="892.3"/>
<line x1="1596.1" y1="893" x2="1624.4" y2="921.3"/><line x1="1596.1" y1="921.3" x2="1624.4" y2="893"/>
<line x1="1601.3" y1="891.2" x2="1629.6" y2="919.5"/><line x1="1601.3" y1="919.5" x2="1629.6" y2="891.2"/>
<line x1="1604.1" y1="893.1" x2="1632.4" y2="921.3"/><line x1="1604.1" y1="921.3" x2="1632.4" y2="893.1"/>
<line x1="1574.9" y1="899.6" x2="1603.1" y2="927.9"/><line x1="1574.9" y1="927.9" x2="1603.1" y2="899.6"/>
<line x1="1583.9" y1="897.3" x2="1612.2" y2="925.5"/><line x1="1583.9" y1="925.5" x2="1612.2" y2="897.3"/>
<line x1="1586.9" y1="900.5" x2="1615.2" y2="928.8"/><line x1="1586.9" y1="928.8" x2="1615.2" y2="900.5"/>
<line x1="1595.1" y1="895.9" x2="1623.4" y2="924.2"/><line x1="1595.1" y1="924.2" x2="1623.4" y2="895.9"/>
<line x1="1597.9" y1="895.8" x2="1626.2" y2="924.1"/><line x1="1597.9" y1="924.1" x2="1626.2" y2="895.8"/>
<line x1="1606.4" y1="899.7" x2="1634.6" y2="927.9"/><line x1="1606.4" y1="927.9" x2="1634.6" y2="899.7"/>
<line x1="1574.5" y1="906.3" x2="1602.7" y2="934.6"/><line x1="1574.5" y1="934.6" x2="1602.7" y2="906.3"/>
<line x1="1583.7" y1="905.3" x2="1612" y2="933.6"/><line x1="1583.7" y1="933.6" x2="1612" y2="905.3"/>
<line x1="1586.5" y1="904.6" x2="1614.8" y2="932.9"/><line x1="1586.5" y1="932.9" x2="1614.8" y2="904.6"/>
<line x1="1591.7" y1="901.5" x2="1620" y2="929.8"/><line x1="1591.7" y1="929.8" x2="1620" y2="901.5"/>
<line x1="1603.1" y1="905.2" x2="1631.3" y2="933.5"/><line x1="1603.1" y1="933.5" x2="1631.3" y2="905.2"/>
<line x1="1606.8" y1="906.9" x2="1635" y2="935.2"/><line x1="1606.8" y1="935.2" x2="1635" y2="906.9"/>
<line x1="1573.4" y1="913" x2="1601.6" y2="941.3"/><line x1="1573.4" y1="941.3" x2="1601.6" y2="913"/>
<line x1="1582" y1="909.2" x2="1610.3" y2="937.4"/><line x1="1582" y1="937.4" x2="1610.3" y2="909.2"/>
<line x1="1585.4" y1="909.6" x2="1613.7" y2="937.9"/><line x1="1585.4" y1="937.9" x2="1613.7" y2="909.6"/>
<line x1="1592.1" y1="911.4" x2="1620.4" y2="939.6"/><line x1="1592.1" y1="939.6" x2="1620.4" y2="911.4"/>
<line x1="1599" y1="910.4" x2="1627.3" y2="938.7"/><line x1="1599" y1="938.7" x2="1627.3" y2="910.4"/>
<line x1="1605" y1="913.3" x2="1633.3" y2="941.5"/><line x1="1605" y1="941.5" x2="1633.3" y2="913.3"/>
<line x1="1572.1" y1="917.1" x2="1600.3" y2="945.4"/><line x1="1572.1" y1="945.4" x2="1600.3" y2="917.1"/>
<line x1="1579.7" y1="919.7" x2="1607.9" y2="948"/><line x1="1579.7" y1="948" x2="1607.9" y2="919.7"/>
<line x1="1585.8" y1="919.8" x2="1614.1" y2="948.1"/><line x1="1585.8" y1="948.1" x2="1614.1" y2="919.8"/>
<line x1="1593.4" y1="917.5" x2="1621.7" y2="945.8"/><line x1="1593.4" y1="945.8" x2="1621.7" y2="917.5"/>
<line x1="1600.7" y1="914.5" x2="1628.9" y2="942.8"/><line x1="1600.7" y1="942.8" x2="1628.9" y2="914.5"/>
<line x1="1607.3" y1="915.5" x2="1635.6" y2="943.8"/><line x1="1607.3" y1="943.8" x2="1635.6" y2="915.5"/>
<line x1="1570.8" y1="925.6" x2="1599" y2="953.9"/><line x1="1570.8" y1="953.9" x2="1599" y2="925.6"/>
<line x1="1575.1" y1="923.7" x2="1603.3" y2="952"/><line x1="1575.1" y1="952" x2="1603.3" y2="923.7"/>
<line x1="1584.5" y1="924.2" x2="1612.8" y2="952.5"/><line x1="1584.5" y1="952.5" x2="1612.8" y2="924.2"/>
<line x1="1588.4" y1="924" x2="1616.7" y2="952.2"/><line x1="1588.4" y1="952.2" x2="1616.7" y2="924"/>
<line x1="1596" y1="925.5" x2="1624.2" y2="953.8"/><line x1="1596" y1="953.8" x2="1624.2" y2="925.5"/>
<line x1="1599.5" y1="924.2" x2="1627.8" y2="952.5"/><line x1="1599.5" y1="952.5" x2="1627.8" y2="924.2"/>
<line x1="1606.6" y1="922.6" x2="1634.9" y2="950.8"/><line x1="1606.6" y1="950.8" x2="1634.9" y2="922.6"/>
<line x1="1571.1" y1="930.4" x2="1599.3" y2="958.7"/><line x1="1571.1" y1="958.7" x2="1599.3" y2="930.4"/>
<line x1="1576.3" y1="931.9" x2="1604.6" y2="960.2"/><line x1="1576.3" y1="960.2" x2="1604.6" y2="931.9"/>
<line x1="1584.9" y1="930" x2="1613.2" y2="958.3"/><line x1="1584.9" y1="958.3" x2="1613.2" y2="930"/>
<line x1="1589.6" y1="930.4" x2="1617.9" y2="958.7"/><line x1="1589.6" y1="958.7" x2="1617.9" y2="930.4"/>
<line x1="1595.6" y1="931.5" x2="1623.8" y2="959.8"/><line x1="1595.6" y1="959.8" x2="1623.8" y2="931.5"/>
<line x1="1601.7" y1="930.6" x2="1630" y2="958.8"/><line x1="1601.7" y1="958.8" x2="1630" y2="930.6"/>
<line x1="1608.4" y1="932.9" x2="1636.6" y2="961.2"/><line x1="1608.4" y1="961.2" x2="1636.6" y2="932.9"/>
<line x1="1569.7" y1="939.1" x2="1598" y2="967.3"/><line x1="1569.7" y1="967.3" x2="1598" y2="939.1"/>
<line x1="1577.9" y1="935.5" x2="1606.2" y2="963.7"/><line x1="1577.9" y1="963.7" x2="1606.2" y2="935.5"/>
<line x1="1582.4" y1="939.5" x2="1610.6" y2="967.7"/><line x1="1582.4" y1="967.7" x2="1610.6" y2="939.5"/>
<line x1="1590.7" y1="934.7" x2="1619" y2="963"/><line x1="1590.7" y1="963" x2="1619" y2="934.7"/>
<line x1="1593.2" y1="936.5" x2="1621.5" y2="964.8"/><line x1="1593.2" y1="964.8" x2="1621.5" y2="936.5"/>
<line x1="1599.6" y1="935.3" x2="1627.9" y2="963.6"/><line x1="1599.6" y1="963.6" x2="1627.9" y2="935.3"/>
<line x1="1606.4" y1="937.9" x2="1634.6" y2="966.1"/><line x1="1606.4" y1="966.1" x2="1634.6" y2="937.9"/>
<line x1="1571.7" y1="945.7" x2="1600" y2="974"/><line x1="1571.7" y1="974" x2="1600" y2="945.7"/>
<line x1="1574.5" y1="944.6" x2="1602.7" y2="972.9"/><line x1="1574.5" y1="972.9" x2="1602.7" y2="944.6"/>
<line x1="1583.9" y1="941.3" x2="1612.2" y2="969.6"/><line x1="1583.9" y1="969.6" x2="1612.2" y2="941.3"/>
<line x1="1591.7" y1="946.1" x2="1620" y2="974.4"/><line x1="1591.7" y1="974.4" x2="1620" y2="946.1"/>
<line x1="1594.3" y1="946" x2="1622.5" y2="974.3"/><line x1="1594.3" y1="974.3" x2="1622.5" y2="946"/>
<line x1="1601.8" y1="943.3" x2="1630.1" y2="971.6"/><line x1="1601.8" y1="971.6" x2="1630.1" y2="943.3"/>
<line x1="1608.9" y1="945.3" x2="1637.1" y2="973.6"/><line x1="1608.9" y1="973.6" x2="1637.1" y2="945.3"/>
<line x1="1571.4" y1="949.5" x2="1599.7" y2="977.7"/><line x1="1571.4" y1="977.7" x2="1599.7" y2="949.5"/>
<line x1="1577.8" y1="948.9" x2="1606" y2="977.2"/><line x1="1577.8" y1="977.2" x2="1606" y2="948.9"/>
<line x1="1582.1" y1="948.8" x2="1610.4" y2="977.1"/><line x1="1582.1" y1="977.1" x2="1610.4" y2="948.8"/>
<line x1="1591.4" y1="947" x2="1619.7" y2="975.3"/><line x1="1591.4" y1="975.3" x2="1619.7" y2="947"/>
<line x1="1596.7" y1="949.5" x2="1625" y2="977.8"/><line x1="1596.7" y1="977.8" x2="1625" y2="949.5"/>
<line x1="1599.8" y1="948.9" x2="1628.1" y2="977.2"/><line x1="1599.8" y1="977.2" x2="1628.1" y2="948.9"/>
<line x1="1608.9" y1="949.9" x2="1637.1" y2="978.2"/><line x1="1608.9" y1="978.2" x2="1637.1" y2="949.9"/>
<line x1="1572.9" y1="959.2" x2="1601.2" y2="987.5"/><line x1="1572.9" y1="987.5" x2="1601.2" y2="959.2"/>
<line x1="1580.6" y1="959.1" x2="1608.8" y2="987.4"/><line x1="1580.6" y1="987.4" x2="1608.8" y2="959.1"/>
<line x1="1582.6" y1="955" x2="1610.8" y2="983.3"/><line x1="1582.6" y1="983.3" x2="1610.8" y2="955"/>
<line x1="1588.2" y1="958" x2="1616.5" y2="986.3"/><line x1="1588.2" y1="986.3" x2="1616.5" y2="958"/>
<line x1="1595.5" y1="954.2" x2="1623.8" y2="982.5"/><line x1="1595.5" y1="982.5" x2="1623.8" y2="954.2"/>
<line x1="1602.4" y1="958.8" x2="1630.7" y2="987"/><line x1="1602.4" y1="987" x2="1630.7" y2="958.8"/>
<line x1="1608.9" y1="954.9" x2="1637.1" y2="983.2"/><line x1="1608.9" y1="983.2" x2="1637.1" y2="954.9"/>
<line x1="1574.3" y1="965.3" x2="1602.5" y2="993.6"/><line x1="1574.3" y1="993.6" x2="1602.5" y2="965.3"/>
<line x1="1581.5" y1="964" x2="1609.8" y2="992.3"/><line x1="1581.5" y1="992.3" x2="1609.8" y2="964"/>
<line x1="1585.5" y1="960.3" x2="1613.8" y2="988.6"/><line x1="1585.5" y1="988.6" x2="1613.8" y2="960.3"/>
<line x1="1595.8" y1="962.4" x2="1624.1" y2="990.7"/><line x1="1595.8" y1="990.7" x2="1624.1" y2="962.4"/>
<line x1="1599" y1="965.4" x2="1627.3" y2="993.7"/><line x1="1599" y1="993.7" x2="1627.3" y2="965.4"/>
<line x1="1608.3" y1="964.6" x2="1636.6" y2="992.9"/><line x1="1608.3" y1="992.9" x2="1636.6" y2="964.6"/>
<line x1="1575.6" y1="971.4" x2="1603.8" y2="999.7"/><line x1="1575.6" y1="999.7" x2="1603.8" y2="971.4"/>
<line x1="1579.2" y1="971.5" x2="1607.5" y2="999.8"/><line x1="1579.2" y1="999.8" x2="1607.5" y2="971.5"/>
<line x1="1587.7" y1="968.4" x2="1616" y2="996.7"/><line x1="1587.7" y1="996.7" x2="1616" y2="968.4"/>
<line x1="1594.5" y1="971.9" x2="1622.8" y2="1000.1"/><line x1="1594.5" y1="1000.1" x2="1622.8" y2="971.9"/>
<line x1="1599" y1="967.2" x2="1627.3" y2="995.5"/><line x1="1599" y1="995.5" x2="1627.3" y2="967.2"/>
<line x1="1606.6" y1="967.8" x2="1634.9" y2="996.1"/><line x1="1606.6" y1="996.1" x2="1634.9" y2="967.8"/>
<line x1="1576.9" y1="973.9" x2="1605.1" y2="1002.2"/><line x1="1576.9" y1="1002.2" x2="1605.1" y2="973.9"/>
<line x1="1581.2" y1="974.1" x2="1609.5" y2="1002.4"/><line x1="1581.2" y1="1002.4" x2="1609.5" y2="974.1"/>
<line x1="1589.8" y1="974.7" x2="1618" y2="1003"/><line x1="1589.8" y1="1003" x2="1618" y2="974.7"/>
<line x1="1599.4" y1="974.6" x2="1627.7" y2="1002.9"/><line x1="1599.4" y1="1002.9" x2="1627.7" y2="974.6"/>
<line x1="1604.9" y1="974" x2="1633.1" y2="1002.3"/><line x1="1604.9" y1="1002.3" x2="1633.1" y2="974"/>
<line x1="1580.8" y1="979.5" x2="1609" y2="1007.8"/><line x1="1580.8" y1="1007.8" x2="1609" y2="979.5"/>
<line x1="1586" y1="979.5" x2="1614.3" y2="1007.8"/><line x1="1586" y1="1007.8" x2="1614.3" y2="979.5"/>
<line x1="1595.6" y1="982.7" x2="1623.9" y2="1010.9"/><line x1="1595.6" y1="1010.9" x2="1623.9" y2="982.7"/>
<line x1="1599.1" y1="982.2" x2="1627.4" y2="1010.5"/><line x1="1599.1" y1="1010.5" x2="1627.4" y2="982.2"/>
</g>
<g fill="none" stroke="#00ff00" stroke-width="11">
<line x1="1609.6" y1="502.3" x2="1637.8" y2="530.5"/><line x1="1609.6" y1="530.5" x2="1637.8" y2="502.3"/>
<line x1="1615.4" y1="512" x2="1643.6" y2="540.2"/><line x1="1615.4" y1="540.2" x2="1643.6" y2="512"/>
<line x1="1604.3" y1="546" x2="1632.5" y2="574.2"/><line x1="1604.3" y1="574.2" x2="1632.5" y2="546"/>
<line x1="1625.4" y1="543.2" x2="1653.6" y2="571.4"/><line x1="1625.4" y1="571.4" x2="1653.6" y2="543.2"/>
<line x1="1615.4" y1="560.9" x2="1643.6" y2="589.1"/><line x1="1615.4" y1="589.1" x2="1643.6" y2="560.9"/>
<line x1="1633.2" y1="555.9" x2="1661.4" y2="584.1"/><line x1="1633.2" y1="584.1" x2="1661.4" y2="555.9"/>
<line x1="1637.5" y1="577.9" x2="1665.7" y2="606.1"/><line x1="1637.5" y1="606.1" x2="1665.7" y2="577.9"/>
<line x1="1603.4" y1="599.4" x2="1631.6" y2="627.6"/><line x1="1603.4" y1="627.6" x2="1631.6" y2="599.4"/>
<line x1="1611.3" y1="646.4" x2="1639.5" y2="674.6"/><line x1="1611.3" y1="674.6" x2="1639.5" y2="646.4"/>
<line x1="1591.2" y1="707.9" x2="1619.4" y2="736.1"/><line x1="1591.2" y1="736.1" x2="1619.4" y2="707.9"/>
<line x1="1628.5" y1="792.2" x2="1656.7" y2="820.4"/><line x1="1628.5" y1="820.4" x2="1656.7" y2="792.2"/>
<line x1="1639.4" y1="792.2" x2="1667.6" y2="820.4"/><line x1="1639.4" y1="820.4" x2="1667.6" y2="792.2"/>
<line x1="1649.4" y1="792.2" x2="1677.6" y2="820.4"/><line x1="1649.4" y1="820.4" x2="1677.6" y2="792.2"/>
<line x1="1649.6" y1="785.7" x2="1677.8" y2="813.9"/><line x1="1649.6" y1="813.9" x2="1677.8" y2="785.7"/>
<line x1="1620" y1="874.1" x2="1648.2" y2="902.3"/><line x1="1620" y1="902.3" x2="1648.2" y2="874.1"/>
<line x1="1617.9" y1="618.6" x2="1646.1" y2="646.8"/><line x1="1617.9" y1="646.8" x2="1646.1" y2="618.6"/>
<line x1="1622" y1="617.1" x2="1650.3" y2="645.3"/><line x1="1622" y1="645.3" x2="1650.3" y2="617.1"/>
<line x1="1628.1" y1="615.9" x2="1656.4" y2="644.1"/><line x1="1628.1" y1="644.1" x2="1656.4" y2="615.9"/>
<line x1="1636.9" y1="615.9" x2="1665.1" y2="644.1"/><line x1="1636.9" y1="644.1" x2="1665.1" y2="615.9"/>
<line x1="1618.7" y1="622.1" x2="1647" y2="650.4"/><line x1="1618.7" y1="650.4" x2="1647" y2="622.1"/>
<line x1="1623.6" y1="622.3" x2="1651.9" y2="650.6"/><line x1="1623.6" y1="650.6" x2="1651.9" y2="622.3"/>
<line x1="1628.1" y1="624.3" x2="1656.3" y2="652.6"/><line x1="1628.1" y1="652.6" x2="1656.3" y2="624.3"/>
<line x1="1633.5" y1="620.8" x2="1661.7" y2="649.1"/><line x1="1633.5" y1="649.1" x2="1661.7" y2="620.8"/>
<line x1="1639.1" y1="621" x2="1667.3" y2="649.3"/><line x1="1639.1" y1="649.3" x2="1667.3" y2="621"/>
<line x1="1617" y1="631.2" x2="1645.3" y2="659.5"/><line x1="1617" y1="659.5" x2="1645.3" y2="631.2"/>
<line x1="1623.2" y1="626.6" x2="1651.5" y2="654.9"/><line x1="1623.2" y1="654.9" x2="1651.5" y2="626.6"/>
<line x1="1629.4" y1="631.7" x2="1657.6" y2="660"/><line x1="1629.4" y1="660" x2="1657.6" y2="631.7"/>
<line x1="1635.1" y1="629.6" x2="1663.4" y2="657.8"/><line x1="1635.1" y1="657.8" x2="1663.4" y2="629.6"/>
<line x1="1643.8" y1="629.8" x2="1672.1" y2="658.1"/><line x1="1643.8" y1="658.1" x2="1672.1" y2="629.8"/>
<line x1="1615.1" y1="636.5" x2="1643.4" y2="664.8"/><line x1="1615.1" y1="664.8" x2="1643.4" y2="636.5"/>
<line x1="1621" y1="636.2" x2="1649.3" y2="664.5"/><line x1="1621" y1="664.5" x2="1649.3" y2="636.2"/>
<line x1="1629.3" y1="635.8" x2="1657.5" y2="664.1"/><line x1="1629.3" y1="664.1" x2="1657.5" y2="635.8"/>
<line x1="1630.7" y1="632.8" x2="1659" y2="661.1"/><line x1="1630.7" y1="661.1" x2="1659" y2="632.8"/>
<line x1="1641.3" y1="635.3" x2="1669.6" y2="663.6"/><line x1="1641.3" y1="663.6" x2="1669.6" y2="635.3"/>
<line x1="1642.8" y1="638" x2="1671" y2="666.2"/><line x1="1642.8" y1="666.2" x2="1671" y2="638"/>
<line x1="1613.8" y1="643.2" x2="1642" y2="671.5"/><line x1="1613.8" y1="671.5" x2="1642" y2="643.2"/>
<line x1="1621.8" y1="640.6" x2="1650.1" y2="668.9"/><line x1="1621.8" y1="668.9" x2="1650.1" y2="640.6"/>
<line x1="1625" y1="644.1" x2="1653.2" y2="672.4"/><line x1="1625" y1="672.4" x2="1653.2" y2="644.1"/>
<line x1="1629.9" y1="643.4" x2="1658.2" y2="671.7"/><line x1="1629.9" y1="671.7" x2="1658.2" y2="643.4"/>
<line x1="1636" y1="643" x2="1664.2" y2="671.3"/><line x1="1636" y1="671.3" x2="1664.2" y2="643"/>
<line x1="1644.6" y1="644.5" x2="1672.8" y2="672.8"/><line x1="1644.6" y1="672.8" x2="1672.8" y2="644.5"/>
<line x1="1613.9" y1="648.4" x2="1642.2" y2="676.7"/><line x1="1613.9" y1="676.7" x2="1642.2" y2="648.4"/>
<line x1="1616.8" y1="646.3" x2="1645" y2="674.6"/><line x1="1616.8" y1="674.6" x2="1645" y2="646.3"/>
<line x1="1625.3" y1="648.4" x2="1653.6" y2="676.7"/><line x1="1625.3" y1="676.7" x2="1653.6" y2="648.4"/>
<line x1="1629.3" y1="650.7" x2="1657.6" y2="679"/><line x1="1629.3" y1="679" x2="1657.6" y2="650.7"/>
<line x1="1638.5" y1="649.5" x2="1666.8" y2="677.8"/><line x1="1638.5" y1="677.8" x2="1666.8" y2="649.5"/>
<line x1="1643.4" y1="646.9" x2="1671.7" y2="675.1"/><line x1="1643.4" y1="675.1" x2="1671.7" y2="646.9"/>
<line x1="1612.1" y1="653.9" x2="1640.3" y2="682.2"/><line x1="1612.1" y1="682.2" x2="1640.3" y2="653.9"/>
<line x1="1617.7" y1="654.4" x2="1646" y2="682.7"/><line x1="1617.7" y1="682.7" x2="1646" y2="654.4"/>
<line x1="1625.4" y1="656.8" x2="1653.7" y2="685.1"/><line x1="1625.4" y1="685.1" x2="1653.7" y2="656.8"/>
<line x1="1635.5" y1="653" x2="1663.7" y2="681.2"/><line x1="1635.5" y1="681.2" x2="1663.7" y2="653"/>
<line x1="1639.6" y1="652.9" x2="1667.9" y2="681.2"/><line x1="1639.6" y1="681.2" x2="1667.9" y2="652.9"/>
<line x1="1647.3" y1="657.6" x2="1675.5" y2="685.9"/><line x1="1647.3" y1="685.9" x2="1675.5" y2="657.6"/>
<line x1="1612.2" y1="662.9" x2="1640.5" y2="691.2"/><line x1="1612.2" y1="691.2" x2="1640.5" y2="662.9"/>
<line x1="1617.2" y1="658.5" x2="1645.5" y2="686.8"/><line x1="1617.2" y1="686.8" x2="1645.5" y2="658.5"/>
<line x1="1626.2" y1="660.4" x2="1654.5" y2="688.7"/><line x1="1626.2" y1="688.7" x2="1654.5" y2="660.4"/>
<line x1="1628.9" y1="661" x2="1657.2" y2="689.3"/><line x1="1628.9" y1="689.3" x2="1657.2" y2="661"/>
<line x1="1635.5" y1="660.8" x2="1663.8" y2="689.1"/><line x1="1635.5" y1="689.1" x2="1663.8" y2="660.8"/>
<line x1="1642.9" y1="660.9" x2="1671.2" y2="689.2"/><line x1="1642.9" y1="689.2" x2="1671.2" y2="660.9"/>
<line x1="1649.5" y1="660.1" x2="1677.7" y2="688.4"/><line x1="1649.5" y1="688.4" x2="1677.7" y2="660.1"/>
<line x1="1612.4" y1="665.4" x2="1640.6" y2="693.7"/><line x1="1612.4" y1="693.7" x2="1640.6" y2="665.4"/>
<line x1="1616.6" y1="668" x2="1644.9" y2="696.3"/><line x1="1616.6" y1="696.3" x2="1644.9" y2="668"/>
<line x1="1624.6" y1="669.7" x2="1652.9" y2="697.9"/><line x1="1624.6" y1="697.9" x2="1652.9" y2="669.7"/>
<line x1="1632" y1="669.1" x2="1660.3" y2="697.4"/><line x1="1632" y1="697.4" x2="1660.3" y2="669.1"/>
<line x1="1641.4" y1="665.3" x2="1669.6" y2="693.6"/><line x1="1641.4" y1="693.6" x2="1669.6" y2="665.3"/>
<line x1="1642.3" y1="665.8" x2="1670.6" y2="694"/><line x1="1642.3" y1="694" x2="1670.6" y2="665.8"/>
<line x1="1651" y1="668.3" x2="1679.3" y2="696.6"/><line x1="1651" y1="696.6" x2="1679.3" y2="668.3"/>
<line x1="1613.6" y1="673.5" x2="1641.9" y2="701.8"/><line x1="1613.6" y1="701.8" x2="1641.9" y2="673.5"/>
<line x1="1621.5" y1="671.5" x2="1649.8" y2="699.7"/><line x1="1621.5" y1="699.7" x2="1649.8" y2="671.5"/>
<line x1="1627.3" y1="672.7" x2="1655.6" y2="700.9"/><line x1="1627.3" y1="700.9" x2="1655.6" y2="672.7"/>
<line x1="1634.1" y1="671.6" x2="1662.4" y2="699.9"/><line x1="1634.1" y1="699.9" x2="1662.4" y2="671.6"/>
<line x1="1641.2" y1="675.9" x2="1669.5" y2="704.2"/><line x1="1641.2" y1="704.2" x2="1669.5" y2="675.9"/>
<line x1="1648" y1="674.8" x2="1676.2" y2="703.1"/><line x1="1648" y1="703.1" x2="1676.2" y2="674.8"/>
<line x1="1649.8" y1="677.1" x2="1678.1" y2="705.4"/><line x1="1649.8" y1="705.4" x2="1678.1" y2="677.1"/>
<line x1="1612" y1="678.4" x2="1640.3" y2="706.7"/><line x1="1612" y1="706.7" x2="1640.3" y2="678.4"/>
<line x1="1619.2" y1="680.8" x2="1647.5" y2="709.1"/><line x1="1619.2" y1="709.1" x2="1647.5" y2="680.8"/>
<line x1="1625.1" y1="678.8" x2="1653.4" y2="707.1"/><line x1="1625.1" y1="707.1" x2="1653.4" y2="678.8"/>
<line x1="1629.6" y1="681.3" x2="1657.9" y2="709.6"/><line x1="1629.6" y1="709.6" x2="1657.9" y2="681.3"/>
<line x1="1638.2" y1="678.7" x2="1666.4" y2="707"/><line x1="1638.2" y1="707" x2="1666.4" y2="678.7"/>
<line x1="1644.7" y1="682.2" x2="1673" y2="710.5"/><line x1="1644.7" y1="710.5" x2="1673" y2="682.2"/>
<line x1="1651.7" y1="680.7" x2="1679.9" y2="709"/><line x1="1651.7" y1="709" x2="1679.9" y2="680.7"/>
<line x1="1611.8" y1="686.5" x2="1640" y2="714.8"/><line x1="1611.8" y1="714.8" x2="1640" y2="686.5"/>
<line x1="1616.8" y1="685.6" x2="1645.1" y2="713.9"/><line x1="1616.8" y1="713.9" x2="1645.1" y2="685.6"/>
<line x1="1624.8" y1="685.1" x2="1653.1" y2="713.3"/><line x1="1624.8" y1="713.3" x2="1653.1" y2="685.1"/>
<line x1="1633.1" y1="688.6" x2="1661.4" y2="716.9"/><line x1="1633.1" y1="716.9" x2="1661.4" y2="688.6"/>
<line x1="1639.1" y1="684.6" x2="1667.4" y2="712.8"/><line x1="1639.1" y1="712.8" x2="1667.4" y2="684.6"/>
<line x1="1644.4" y1="687" x2="1672.6" y2="715.2"/><line x1="1644.4" y1="715.2" x2="1672.6" y2="687"/>
<line x1="1649.5" y1="690.1" x2="1677.7" y2="718.4"/><line x1="1649.5" y1="718.4" x2="1677.7" y2="690.1"/>
<line x1="1611.9" y1="693.9" x2="1640.2" y2="722.2"/><line x1="1611.9" y1="722.2" x2="1640.2" y2="693.9"/>
<line x1="1617.8" y1="692.1" x2="1646.1" y2="720.4"/><line x1="1617.8" y1="720.4" x2="1646.1" y2="692.1"/>
<line x1="1621.3" y1="694" x2="1649.6" y2="722.3"/><line x1="1621.3" y1="722.3" x2="1649.6" y2="694"/>
<line x1="1630.6" y1="694.7" x2="1658.8" y2="723"/><line x1="1630.6" y1="723" x2="1658.8" y2="694.7"/>
<line x1="1632.5" y1="694.5" x2="1660.8" y2="722.8"/><line x1="1632.5" y1="722.8" x2="1660.8" y2="694.5"/>
<line x1="1644" y1="695.3" x2="1672.3" y2="723.6"/><line x1="1644" y1="723.6" x2="1672.3" y2="695.3"/>
<line x1="1650.4" y1="696.7" x2="1678.7" y2="725"/><line x1="1650.4" y1="725" x2="1678.7" y2="696.7"/>
<line x1="1652.5" y1="692.7" x2="1680.8" y2="720.9"/><line x1="1652.5" y1="720.9" x2="1680.8" y2="692.7"/>
<line x1="1609.3" y1="703.1" x2="1637.6" y2="731.4"/><line x1="1609.3" y1="731.4" x2="1637.6" y2="703.1"/>
<line x1="1615" y1="702.9" x2="1643.3" y2="731.2"/><line x1="1615" y1="731.2" x2="1643.3" y2="702.9"/>
<line x1="1624.6" y1="700.5" x2="1652.9" y2="728.7"/><line x1="1624.6" y1="728.7" x2="1652.9" y2="700.5"/>
<line x1="1630.1" y1="703" x2="1658.3" y2="731.3"/><line x1="1630.1" y1="731.3" x2="1658.3" y2="703"/>
<line x1="1637.8" y1="699.2" x2="1666" y2="727.4"/><line x1="1637.8" y1="727.4" x2="1666" y2="699.2"/>
<line x1="1644.9" y1="698.6" x2="1673.2" y2="726.9"/><line x1="1644.9" y1="726.9" x2="1673.2" y2="698.6"/>
<line x1="1648.9" y1="703" x2="1677.2" y2="731.3"/><line x1="1648.9" y1="731.3" x2="1677.2" y2="703"/>
<line x1="1656.4" y1="699.3" x2="1684.7" y2="727.5"/><line x1="1656.4" y1="727.5" x2="1684.7" y2="699.3"/>
<line x1="1607.8" y1="707.5" x2="1636.1" y2="735.8"/><line x1="1607.8" y1="735.8" x2="1636.1" y2="707.5"/>
<line x1="1616.1" y1="707.9" x2="1644.4" y2="736.2"/><line x1="1616.1" y1="736.2" x2="1644.4" y2="707.9"/>
<line x1="1623" y1="708.2" x2="1651.3" y2="736.5"/><line x1="1623" y1="736.5" x2="1651.3" y2="708.2"/>
<line x1="1628.6" y1="707.5" x2="1656.9" y2="735.8"/><line x1="1628.6" y1="735.8" x2="1656.9" y2="707.5"/>
<line x1="1632.3" y1="706.4" x2="1660.6" y2="734.7"/><line x1="1632.3" y1="734.7" x2="1660.6" y2="706.4"/>
<line x1="1639.3" y1="707" x2="1667.6" y2="735.3"/><line x1="1639.3" y1="735.3" x2="1667.6" y2="707"/>
<line x1="1647.7" y1="705.5" x2="1676" y2="733.8"/><line x1="1647.7" y1="733.8" x2="1676" y2="705.5"/>
<line x1="1649.5" y1="708.2" x2="1677.8" y2="736.5"/><line x1="1649.5" y1="736.5" x2="1677.8" y2="708.2"/>
<line x1="1657" y1="706.4" x2="1685.3" y2="734.7"/><line x1="1657" y1="734.7" x2="1685.3" y2="706.4"/>
<line x1="1607.5" y1="715.3" x2="1635.8" y2="743.6"/><line x1="1607.5" y1="743.6" x2="1635.8" y2="715.3"/>
<line x1="1612.5" y1="712.1" x2="1640.8" y2="740.4"/><line x1="1612.5" y1="740.4" x2="1640.8" y2="712.1"/>
<line x1="1622" y1="713.4" x2="1650.3" y2="741.7"/><line x1="1622" y1="741.7" x2="1650.3" y2="713.4"/>
<line x1="1625.3" y1="715.6" x2="1653.6" y2="743.9"/><line x1="1625.3" y1="743.9" x2="1653.6" y2="715.6"/>
<line x1="1632.4" y1="712.5" x2="1660.7" y2="740.8"/><line x1="1632.4" y1="740.8" x2="1660.7" y2="712.5"/>
<line x1="1642" y1="715.1" x2="1670.3" y2="743.3"/><line x1="1642" y1="743.3" x2="1670.3" y2="715.1"/>
<line x1="1647.1" y1="711.9" x2="1675.4" y2="740.2"/><line x1="1647.1" y1="740.2" x2="1675.4" y2="711.9"/>
<line x1="1653.8" y1="713.9" x2="1682.1" y2="742.2"/><line x1="1653.8" y1="742.2" x2="1682.1" y2="713.9"/>
<line x1="1658.4" y1="712.6" x2="1686.6" y2="740.9"/><line x1="1658.4" y1="740.9" x2="1686.6" y2="712.6"/>
<line x1="1608.8" y1="721.6" x2="1637.1" y2="749.9"/><line x1="1608.8" y1="749.9" x2="1637.1" y2="721.6"/>
<line x1="1612.9" y1="720.8" x2="1641.2" y2="749"/><line x1="1612.9" y1="749" x2="1641.2" y2="720.8"/>
<line x1="1621.6" y1="722.7" x2="1649.9" y2="751"/><line x1="1621.6" y1="751" x2="1649.9" y2="722.7"/>
<line x1="1628.8" y1="721.5" x2="1657.1" y2="749.8"/><line x1="1628.8" y1="749.8" x2="1657.1" y2="721.5"/>
<line x1="1630.7" y1="720.5" x2="1658.9" y2="748.8"/><line x1="1630.7" y1="748.8" x2="1658.9" y2="720.5"/>
<line x1="1640.3" y1="717.4" x2="1668.5" y2="745.7"/><line x1="1640.3" y1="745.7" x2="1668.5" y2="717.4"/>
<line x1="1645.4" y1="722" x2="1673.6" y2="750.3"/><line x1="1645.4" y1="750.3" x2="1673.6" y2="722"/>
<line x1="1654.3" y1="722.3" x2="1682.6" y2="750.6"/><line x1="1654.3" y1="750.6" x2="1682.6" y2="722.3"/>
<line x1="1656" y1="720.5" x2="1684.3" y2="748.8"/><line x1="1656" y1="748.8" x2="1684.3" y2="720.5"/>
<line x1="1609" y1="727.3" x2="1637.3" y2="755.5"/><line x1="1609" y1="755.5" x2="1637.3" y2="727.3"/>
<line x1="1612.3" y1="723.7" x2="1640.5" y2="751.9"/><line x1="1612.3" y1="751.9" x2="1640.5" y2="723.7"/>
<line x1="1622.2" y1="728.5" x2="1650.5" y2="756.7"/><line x1="1622.2" y1="756.7" x2="1650.5" y2="728.5"/>
<line x1="1627.1" y1="725.6" x2="1655.4" y2="753.9"/><line x1="1627.1" y1="753.9" x2="1655.4" y2="725.6"/>
<line x1="1634.5" y1="728.2" x2="1662.8" y2="756.5"/><line x1="1634.5" y1="756.5" x2="1662.8" y2="728.2"/>
<line x1="1640.4" y1="726.9" x2="1668.7" y2="755.2"/><line x1="1640.4" y1="755.2" x2="1668.7" y2="726.9"/>
<line x1="1644.4" y1="725.2" x2="1672.7" y2="753.5"/><line x1="1644.4" y1="753.5" x2="1672.7" y2="725.2"/>
<line x1="1651.1" y1="725.3" x2="1679.4" y2="753.6"/><line x1="1651.1" y1="753.6" x2="1679.4" y2="725.3"/>
<line x1="1658.4" y1="724.1" x2="1686.6" y2="752.4"/><line x1="1658.4" y1="752.4" x2="1686.6" y2="724.1"/>
<line x1="1609.7" y1="732" x2="1638" y2="760.3"/><line x1="1609.7" y1="760.3" x2="1638" y2="732"/>
<line x1="1612.6" y1="731.4" x2="1640.9" y2="759.7"/><line x1="1612.6" y1="759.7" x2="1640.9" y2="731.4"/>
<line x1="1620.1" y1="732.5" x2="1648.4" y2="760.7"/><line x1="1620.1" y1="760.7" x2="1648.4" y2="732.5"/>
<line x1="1628.6" y1="730.5" x2="1656.9" y2="758.8"/><line x1="1628.6" y1="758.8" x2="1656.9" y2="730.5"/>
<line x1="1631.5" y1="731.6" x2="1659.8" y2="759.9"/><line x1="1631.5" y1="759.9" x2="1659.8" y2="731.6"/>
<line x1="1637.4" y1="734.3" x2="1665.7" y2="762.6"/><line x1="1637.4" y1="762.6" x2="1665.7" y2="734.3"/>
<line x1="1643.1" y1="730.2" x2="1671.4" y2="758.5"/><line x1="1643.1" y1="758.5" x2="1671.4" y2="730.2"/>
<line x1="1651.9" y1="734.2" x2="1680.2" y2="762.5"/><line x1="1651.9" y1="762.5" x2="1680.2" y2="734.2"/>
<line x1="1657.8" y1="733.2" x2="1686" y2="761.5"/><line x1="1657.8" y1="761.5" x2="1686" y2="733.2"/>
<line x1="1610.1" y1="741.6" x2="1638.4" y2="769.9"/><line x1="1610.1" y1="769.9" x2="1638.4" y2="741.6"/>
<line x1="1618.2" y1="739.2" x2="1646.5" y2="767.5"/><line x1="1618.2" y1="767.5" x2="1646.5" y2="739.2"/>
<line x1="1623.9" y1="741.9" x2="1652.2" y2="770.2"/><line x1="1623.9" y1="770.2" x2="1652.2" y2="741.9"/>
<line x1="1633.2" y1="741.9" x2="1661.5" y2="770.2"/><line x1="1633.2" y1="770.2" x2="1661.5" y2="741.9"/>
<line x1="1634.8" y1="738.3" x2="1663.1" y2="766.6"/><line x1="1634.8" y1="766.6" x2="1663.1" y2="738.3"/>
<line x1="1643.2" y1="737.4" x2="1671.4" y2="765.7"/><line x1="1643.2" y1="765.7" x2="1671.4" y2="737.4"/>
<line x1="1651.9" y1="736.8" x2="1680.2" y2="765.1"/><line x1="1651.9" y1="765.1" x2="1680.2" y2="736.8"/>
<line x1="1657.1" y1="739.9" x2="1685.4" y2="768.1"/><line x1="1657.1" y1="768.1" x2="1685.4" y2="739.9"/>
<line x1="1612.5" y1="745.4" x2="1640.8" y2="773.6"/><line x1="1612.5" y1="773.6" x2="1640.8" y2="745.4"/>
<line x1="1620.8" y1="746.3" x2="1649.1" y2="774.6"/><line x1="1620.8" y1="774.6" x2="1649.1" y2="746.3"/>
<line x1="1626.9" y1="748.3" x2="1655.2" y2="776.6"/><line x1="1626.9" y1="776.6" x2="1655.2" y2="748.3"/>
<line x1="1632.1" y1="748.7" x2="1660.4" y2="777"/><line x1="1632.1" y1="777" x2="1660.4" y2="748.7"/>
<line x1="1637.3" y1="745.1" x2="1665.6" y2="773.4"/><line x1="1637.3" y1="773.4" x2="1665.6" y2="745.1"/>
<line x1="1645.7" y1="746" x2="1674" y2="774.3"/><line x1="1645.7" y1="774.3" x2="1674" y2="746"/>
<line x1="1649" y1="746.9" x2="1677.3" y2="775.2"/><line x1="1649" y1="775.2" x2="1677.3" y2="746.9"/>
<line x1="1656.3" y1="743.7" x2="1684.6" y2="772"/><line x1="1656.3" y1="772" x2="1684.6" y2="743.7"/>
<line x1="1616.7" y1="752.4" x2="1645" y2="780.6"/><line x1="1616.7" y1="780.6" x2="1645" y2="752.4"/>
<line x1="1624.2" y1="752.6" x2="1652.5" y2="780.8"/><line x1="1624.2" y1="780.8" x2="1652.5" y2="752.6"/>
<line x1="1630.8" y1="751.1" x2="1659.1" y2="779.4"/><line x1="1630.8" y1="779.4" x2="1659.1" y2="751.1"/>
<line x1="1633.4" y1="752.5" x2="1661.7" y2="780.8"/><line x1="1633.4" y1="780.8" x2="1661.7" y2="752.5"/>
<line x1="1643.4" y1="754.3" x2="1671.7" y2="782.5"/><line x1="1643.4" y1="782.5" x2="1671.7" y2="754.3"/>
<line x1="1649.5" y1="750.2" x2="1677.8" y2="778.4"/><line x1="1649.5" y1="778.4" x2="1677.8" y2="750.2"/>
<line x1="1654.8" y1="749.6" x2="1683.1" y2="777.9"/><line x1="1654.8" y1="777.9" x2="1683.1" y2="749.6"/>
<line x1="1617.5" y1="761.5" x2="1645.8" y2="789.7"/><line x1="1617.5" y1="789.7" x2="1645.8" y2="761.5"/>
<line x1="1622.8" y1="760" x2="1651.1" y2="788.3"/><line x1="1622.8" y1="788.3" x2="1651.1" y2="760"/>
<line x1="1630.5" y1="756.8" x2="1658.8" y2="785.1"/><line x1="1630.5" y1="785.1" x2="1658.8" y2="756.8"/>
<line x1="1637" y1="756.4" x2="1665.3" y2="784.7"/><line x1="1637" y1="784.7" x2="1665.3" y2="756.4"/>
<line x1="1640.2" y1="759.3" x2="1668.5" y2="787.6"/><line x1="1640.2" y1="787.6" x2="1668.5" y2="759.3"/>
<line x1="1646" y1="761.6" x2="1674.3" y2="789.9"/><line x1="1646" y1="789.9" x2="1674.3" y2="761.6"/>
<line x1="1653.9" y1="759.6" x2="1682.2" y2="787.9"/><line x1="1653.9" y1="787.9" x2="1682.2" y2="759.6"/>
<line x1="1623.3" y1="763.1" x2="1651.6" y2="791.3"/><line x1="1623.3" y1="791.3" x2="1651.6" y2="763.1"/>
<line x1="1630" y1="762.7" x2="1658.3" y2="790.9"/><line x1="1630" y1="790.9" x2="1658.3" y2="762.7"/>
<line x1="1634.2" y1="766.3" x2="1662.5" y2="794.6"/><line x1="1634.2" y1="794.6" x2="1662.5" y2="766.3"/>
<line x1="1643" y1="764.5" x2="1671.3" y2="792.8"/><line x1="1643" y1="792.8" x2="1671.3" y2="764.5"/>
<line x1="1649.3" y1="766.2" x2="1677.6" y2="794.5"/><line x1="1649.3" y1="794.5" x2="1677.6" y2="766.2"/>
<line x1="1653.1" y1="763.4" x2="1681.3" y2="791.7"/><line x1="1653.1" y1="791.7" x2="1681.3" y2="763.4"/>
<line x1="1623.9" y1="771.1" x2="1652.1" y2="799.4"/><line x1="1623.9" y1="799.4" x2="1652.1" y2="771.1"/>
<line x1="1630" y1="771.1" x2="1658.3" y2="799.4"/><line x1="1630" y1="799.4" x2="1658.3" y2="771.1"/>
<line x1="1639.7" y1="771.1" x2="1668" y2="799.4"/><line x1="1639.7" y1="799.4" x2="1668" y2="771.1"/>
<line x1="1645.7" y1="769.2" x2="1674" y2="797.4"/><line x1="1645.7" y1="797.4" x2="1674" y2="769.2"/>
<line x1="1649.9" y1="773.1" x2="1678.2" y2="801.4"/><line x1="1649.9" y1="801.4" x2="1678.2" y2="773.1"/>
<line x1="1629.2" y1="777.3" x2="1657.5" y2="805.5"/><line x1="1629.2" y1="805.5" x2="1657.5" y2="777.3"/>
<line x1="1630.2" y1="776.8" x2="1658.5" y2="805.1"/><line x1="1630.2" y1="805.1" x2="1658.5" y2="776.8"/>
<line x1="1638.1" y1="777.6" x2="1666.3" y2="805.9"/><line x1="1638.1" y1="805.9" x2="1666.3" y2="777.6"/>
<line x1="1645.2" y1="777.2" x2="1673.5" y2="805.5"/><line x1="1645.2" y1="805.5" x2="1673.5" y2="777.2"/>
<line x1="1650.8" y1="780" x2="1679.1" y2="808.3"/><line x1="1650.8" y1="808.3" x2="1679.1" y2="780"/>
<line x1="1629.9" y1="785.9" x2="1658.2" y2="814.1"/><line x1="1629.9" y1="814.1" x2="1658.2" y2="785.9"/>
<line x1="1636" y1="783.5" x2="1664.3" y2="811.7"/><line x1="1636" y1="811.7" x2="1664.3" y2="783.5"/>
<line x1="1644.7" y1="783.6" x2="1673" y2="811.9"/><line x1="1644.7" y1="811.9" x2="1673" y2="783.6"/>
<line x1="1650" y1="784.6" x2="1678.3" y2="812.8"/><line x1="1650" y1="812.8" x2="1678.3" y2="784.6"/>
<line x1="1613.2" y1="551.5" x2="1641.5" y2="579.8"/><line x1="1613.2" y1="579.8" x2="1641.5" y2="551.5"/>
<line x1="1615.2" y1="547.9" x2="1643.5" y2="576.1"/><line x1="1615.2" y1="576.1" x2="1643.5" y2="547.9"/>
<line x1="1625.9" y1="547.9" x2="1654.1" y2="576.1"/><line x1="1625.9" y1="576.1" x2="1654.1" y2="547.9"/>
<line x1="1615.5" y1="554.5" x2="1643.7" y2="582.8"/><line x1="1615.5" y1="582.8" x2="1643.7" y2="554.5"/>
<line x1="1621" y1="560.4" x2="1649.3" y2="588.7"/><line x1="1621" y1="588.7" x2="1649.3" y2="560.4"/>
<line x1="1631.3" y1="559.5" x2="1659.5" y2="587.8"/><line x1="1631.3" y1="587.8" x2="1659.5" y2="559.5"/>
<line x1="1616.3" y1="563.2" x2="1644.5" y2="591.5"/><line x1="1616.3" y1="591.5" x2="1644.5" y2="563.2"/>
<line x1="1623.3" y1="569.7" x2="1651.5" y2="598"/><line x1="1623.3" y1="598" x2="1651.5" y2="569.7"/>
<line x1="1629.8" y1="563.2" x2="1658.1" y2="591.4"/><line x1="1629.8" y1="591.4" x2="1658.1" y2="563.2"/>
<line x1="1617.2" y1="576.8" x2="1645.5" y2="605.1"/><line x1="1617.2" y1="605.1" x2="1645.5" y2="576.8"/>
<line x1="1622.7" y1="570.8" x2="1651" y2="599.1"/><line x1="1622.7" y1="599.1" x2="1651" y2="570.8"/>
<line x1="1635.3" y1="576.6" x2="1663.5" y2="604.9"/><line x1="1635.3" y1="604.9" x2="1663.5" y2="576.6"/>
<line x1="1614.5" y1="584.7" x2="1642.8" y2="613"/><line x1="1614.5" y1="613" x2="1642.8" y2="584.7"/>
<line x1="1621.5" y1="584.2" x2="1649.8" y2="612.5"/><line x1="1621.5" y1="612.5" x2="1649.8" y2="584.2"/>
<line x1="1635.5" y1="584.6" x2="1663.8" y2="612.9"/><line x1="1635.5" y1="612.9" x2="1663.8" y2="584.6"/>
<line x1="1611" y1="595.1" x2="1639.3" y2="623.4"/><line x1="1611" y1="623.4" x2="1639.3" y2="595.1"/>
<line x1="1620.3" y1="591.1" x2="1648.6" y2="619.4"/><line x1="1620.3" y1="619.4" x2="1648.6" y2="591.1"/>
<line x1="1623" y1="593.5" x2="1651.3" y2="621.8"/><line x1="1623" y1="621.8" x2="1651.3" y2="593.5"/>
<line x1="1634.9" y1="593.8" x2="1663.2" y2="622"/><line x1="1634.9" y1="622" x2="1663.2" y2="593.8"/>
<line x1="1615.8" y1="601.3" x2="1644" y2="629.6"/><line x1="1615.8" y1="629.6" x2="1644" y2="601.3"/>
<line x1="1622.7" y1="599" x2="1651" y2="627.2"/><line x1="1622.7" y1="627.2" x2="1651" y2="599"/>
<line x1="1633.9" y1="602" x2="1662.1" y2="630.2"/><line x1="1633.9" y1="630.2" x2="1662.1" y2="602"/>
</g>
</g>
<g fill="#262626" shape-rendering="crispEdges">
<rect x="511" y="107" width="3" height="1623"/>
<rect x="511" y="107" width="1625" height="3"/>
<rect x="2132" y="107" width="4" height="1623"/>
<rect x="511" y="1726" width="1625" height="4"/>
<rect x="633" y="108" width="3" height="10"/>
<rect x="633" y="1718" width="3" height="11"/>
<rect x="704" y="108" width="4" height="10"/>
<rect x="704" y="1718" width="4" height="11"/>
<rect x="755" y="108" width="3" height="10"/>
<rect x="755" y="1718" width="3" height="11"/>
<rect x="794" y="108" width="4" height="10"/>
<rect x="794" y="1718" width="4" height="11"/>
<rect x="826" y="108" width="4" height="10"/>
<rect x="826" y="1718" width="4" height="11"/>
<rect x="853" y="108" width="4" height="10"/>
<rect x="853" y="1718" width="4" height="11"/>
<rect x="877" y="108" width="3" height="10"/>
<rect x="877" y="1718" width="3" height="11"/>
<rect x="898" y="108" width="3" height="10"/>
<rect x="898" y="1718" width="3" height="11"/>
<rect x="916" y="108" width="4" height="10"/>
<rect x="916" y="1718" width="4" height="11"/>
<rect x="1038" y="108" width="4" height="10"/>
<rect x="1038" y="1718" width="4" height="11"/>
<rect x="1110" y="108" width="3" height="10"/>
<rect x="1110" y="1718" width="3" height="11"/>
<rect x="1160" y="108" width="4" height="10"/>
<rect x="1160" y="1718" width="4" height="11"/>
<rect x="1200" y="108" width="3" height="10"/>
<rect x="1200" y="1718" width="3" height="11"/>
<rect x="1232" y="108" width="3" height="10"/>
<rect x="1232" y="1718" width="3" height="11"/>
<rect x="1259" y="108" width="3" height="10"/>
<rect x="1259" y="1718" width="3" height="11"/>
<rect x="1282" y="108" width="4" height="10"/>
<rect x="1282" y="1718" width="4" height="11"/>
<rect x="1303" y="108" width="4" height="10"/>
<rect x="1303" y="1718" width="4" height="11"/>
<rect x="1322" y="108" width="3" height="18"/>
<rect x="1322" y="1710" width="3" height="19"/>
<rect x="1444" y="108" width="3" height="10"/>
<rect x="1444" y="1718" width="3" height="11"/>
<rect x="1515" y="108" width="4" height="10"/>
<rect x="1515" y="1718" width="4" height="11"/>
<rect x="1566" y="108" width="3" height="10"/>
<rect x="1566" y="1718" width="3" height="11"/>
<rect x="1605" y="108" width="3" height="10"/>
<rect x="1605" y="1718" width="3" height="11"/>
<rect x="1637" y="108" width="4" height="10"/>
<rect x="1637" y="1718" width="4" height="11"/>
<rect x="1664" y="108" width="4" height="10"/>
<rect x="1664" y="1718" width="4" height="11"/>
<rect x="1688" y="108" width="3" height="10"/>
<rect x="1688" y="1718" width="3" height="11"/>
<rect x="1708" y="108" width="4" height="10"/>
<rect x="1708" y="1718" width="4" height="11"/>
<rect x="1727" y="108" width="4" height="10"/>
<rect x="1727" y="1718" width="4" height="11"/>
<rect x="1849" y="108" width="4" height="10"/>
<rect x="1849" y="1718" width="4" height="11"/>
<rect x="1920" y="108" width="4" height="10"/>
<rect x="1920" y="1718" width="4" height="11"/>
<rect x="1971" y="108" width="4" height="10"/>
<rect x="1971" y="1718" width="4" height="11"/>
<rect x="2010" y="108" width="4" height="10"/>
<rect x="2010" y="1718" width="4" height="11"/>
<rect x="2043" y="108" width="3" height="10"/>
<rect x="2043" y="1718" width="3" height="11"/>
<rect x="2070" y="108" width="3" height="10"/>
<rect x="2070" y="1718" width="3" height="11"/>
<rect x="2093" y="108" width="4" height="10"/>
<rect x="2093" y="1718" width="4" height="11"/>
<rect x="2114" y="108" width="3" height="10"/>
<rect x="2114" y="1718" width="3" height="11"/>
<rect x="512" y="1564" width="11" height="3"/>
<rect x="2124" y="1564" width="11" height="3"/>
<rect x="512" y="1469" width="11" height="3"/>
<rect x="2124" y="1469" width="11" height="3"/>
<rect x="512" y="1401" width="11" height="4"/>
<rect x="2124" y="1401" width="11" height="4"/>
<rect x="512" y="1349" width="11" height="3"/>
<rect x="2124" y="1349" width="11" height="3"/>
<rect x="512" y="1306" width="11" height="4"/>
<rect x="2124" y="1306" width="11" height="4"/>
<rect x="512" y="1270" width="11" height="4"/>
<rect x="2124" y="1270" width="11" height="4"/>
<rect x="512" y="1239" width="11" height="3"/>
<rect x="2124" y="1239" width="11" height="3"/>
<rect x="512" y="1211" width="11" height="4"/>
<rect x="2124" y="1211" width="11" height="4"/>
<rect x="512" y="1186" width="19" height="4"/>
<rect x="2116" y="1186" width="19" height="4"/>
<rect x="512" y="1024" width="11" height="3"/>
<rect x="2124" y="1024" width="11" height="3"/>
<rect x="512" y="929" width="11" height="3"/>
<rect x="2124" y="929" width="11" height="3"/>
<rect x="512" y="861" width="11" height="4"/>
<rect x="2124" y="861" width="11" height="4"/>
<rect x="512" y="809" width="11" height="4"/>
<rect x="2124" y="809" width="11" height="4"/>
<rect x="512" y="766" width="11" height="4"/>
<rect x="2124" y="766" width="11" height="4"/>
<rect x="512" y="730" width="11" height="4"/>
<rect x="2124" y="730" width="11" height="4"/>
<rect x="512" y="699" width="11" height="3"/>
<rect x="2124" y="699" width="11" height="3"/>
<rect x="512" y="671" width="11" height="4"/>
<rect x="2124" y="671" width="11" height="4"/>
<rect x="512" y="647" width="19" height="3"/>
<rect x="2116" y="647" width="19" height="3"/>
<rect x="512" y="484" width="11" height="4"/>
<rect x="2124" y="484" width="11" height="4"/>
<rect x="512" y="389" width="11" height="4"/>
<rect x="2124" y="389" width="11" height="4"/>
<rect x="512" y="322" width="11" height="3"/>
<rect x="2124" y="322" width="11" height="3"/>
<rect x="512" y="269" width="11" height="4"/>
<rect x="2124" y="269" width="11" height="4"/>
<rect x="512" y="227" width="11" height="3"/>
<rect x="2124" y="227" width="11" height="3"/>
<rect x="512" y="190" width="11" height="4"/>
<rect x="2124" y="190" width="11" height="4"/>
<rect x="512" y="159" width="11" height="4"/>
<rect x="2124" y="159" width="11" height="4"/>
<rect x="512" y="131" width="11" height="4"/>
<rect x="2124" y="131" width="11" height="4"/>
</g>
<text class="tk" transform="translate(300.7,165) scale(1,1.045)">10<tspan class="sup" dy="-47.1">-1</tspan></text>
<text class="tk" transform="translate(300.7,704.8) scale(1,1.045)">10<tspan class="sup" dy="-47.1">-2</tspan></text>
<text class="tk" transform="translate(300.7,1244.7) scale(1,1.045)">10<tspan class="sup" dy="-47.1">-3</tspan></text>
<text class="tk" transform="translate(300.7,1784.5) scale(1,1.045)">10<tspan class="sup" dy="-47.1">-4</tspan></text>
<text class="tk" transform="translate(421.4,1889) scale(1,1.045)">10<tspan class="sup" dy="-47.1">-2</tspan></text>
<text class="tk" transform="translate(1245.5,1889) scale(1,1.045)">10<tspan class="sup" dy="-47.1">0</tspan></text>
<text class="tk" transform="translate(2057.7,1889) scale(1,1.045)">10<tspan class="sup" dy="-47.1">2</tspan></text>
<g><text class="lb" transform="translate(1152.6,2015.6) scale(1,1.045)">P</text><text class="lb sup" transform="translate(1219.3,2064.8)">ov</text><text class="lb" transform="translate(1314.2,2015.6)"> [%]</text></g>
<g><text class="lb" transform="translate(166.1,1209.1) rotate(-90) scale(1,1.045)">V</text><text class="lb sup" transform="translate(214.1,1139.2) rotate(-90)">max</text><text class="lb" transform="translate(166.1,977.6) rotate(-90)"> [m</text><text class="lb sup" transform="translate(118.3,828.2) rotate(-90) scale(1,1.045)">3</text><text class="lb" transform="translate(166.1,783.2) rotate(-90)">/m]</text></g>
<g shape-rendering="crispEdges"><rect x="562" y="156" width="630" height="1023" fill="#ffffff"/><g fill="#000000"><rect x="562" y="156" width="3" height="1023"/><rect x="562" y="156" width="630" height="3"/><rect x="1188" y="156" width="4" height="1023"/><rect x="562" y="1175" width="630" height="4"/></g></g>
<circle cx="653.3" cy="226.1" r="20" fill="none" stroke="#000000" stroke-width="11" shape-rendering="crispEdges"/>
<text class="lg" transform="translate(739.8,265.9) scale(1,1.05)">TS01<tspan dy="2.4">-</tspan><tspan dy="-2.4">SS</tspan></text>
<circle cx="653.3" cy="352" r="20" fill="none" stroke="#ff0000" stroke-width="11" shape-rendering="crispEdges"/>
<text class="lg" transform="translate(739.8,391.8) scale(1,1.05)">TS02<tspan dy="2.4">-</tspan><tspan dy="-2.4">SS</tspan></text>
<circle cx="653.3" cy="477.9" r="20" fill="none" stroke="#00ffff" stroke-width="11" shape-rendering="crispEdges"/>
<text class="lg" transform="translate(739.8,517.7) scale(1,1.05)">TS03<tspan dy="2.4">-</tspan><tspan dy="-2.4">SS</tspan></text>
<circle cx="653.3" cy="603.8" r="20" fill="none" stroke="#0000ff" stroke-width="11" shape-rendering="crispEdges"/>
<text class="lg" transform="translate(739.8,643.6) scale(1,1.05)">TS05<tspan dy="2.4">-</tspan><tspan dy="-2.4">SS</tspan></text>
<g stroke="#000000" stroke-width="11" shape-rendering="crispEdges"><line x1="639.2" y1="715.6" x2="667.4" y2="743.8"/><line x1="639.2" y1="743.8" x2="667.4" y2="715.6"/></g>
<text class="lg" transform="translate(739.8,769.5) scale(1,1.05)">TS01<tspan dy="2.4">-</tspan><tspan dx="-1.2" dy="-2.4" textLength="166" lengthAdjust="spacingAndGlyphs">VW</tspan></text>
<g stroke="#ff0000" stroke-width="11" shape-rendering="crispEdges"><line x1="639.2" y1="841.5" x2="667.4" y2="869.7"/><line x1="639.2" y1="869.7" x2="667.4" y2="841.5"/></g>
<text class="lg" transform="translate(739.8,895.4) scale(1,1.05)">TS02<tspan dy="2.4">-</tspan><tspan dx="-1.2" dy="-2.4" textLength="166" lengthAdjust="spacingAndGlyphs">VW</tspan></text>
<g stroke="#0000ff" stroke-width="11" shape-rendering="crispEdges"><line x1="639.2" y1="967.4" x2="667.4" y2="995.6"/><line x1="639.2" y1="995.6" x2="667.4" y2="967.4"/></g>
<text class="lg" transform="translate(739.8,1021.3) scale(1,1.05)">TS05<tspan dy="2.4">-</tspan><tspan dx="-1.2" dy="-2.4" textLength="166" lengthAdjust="spacingAndGlyphs">VW</tspan></text>
<g stroke="#00ff00" stroke-width="11" shape-rendering="crispEdges"><line x1="639.2" y1="1093.3" x2="667.4" y2="1121.5"/><line x1="639.2" y1="1121.5" x2="667.4" y2="1093.3"/></g>
<text class="lg" transform="translate(739.8,1147.2) scale(1,1.05)">TS07<tspan dy="2.4">-</tspan><tspan dx="-1.2" dy="-2.4" textLength="166" lengthAdjust="spacingAndGlyphs">VW</tspan></text>
</svg>
</body>
</html>
